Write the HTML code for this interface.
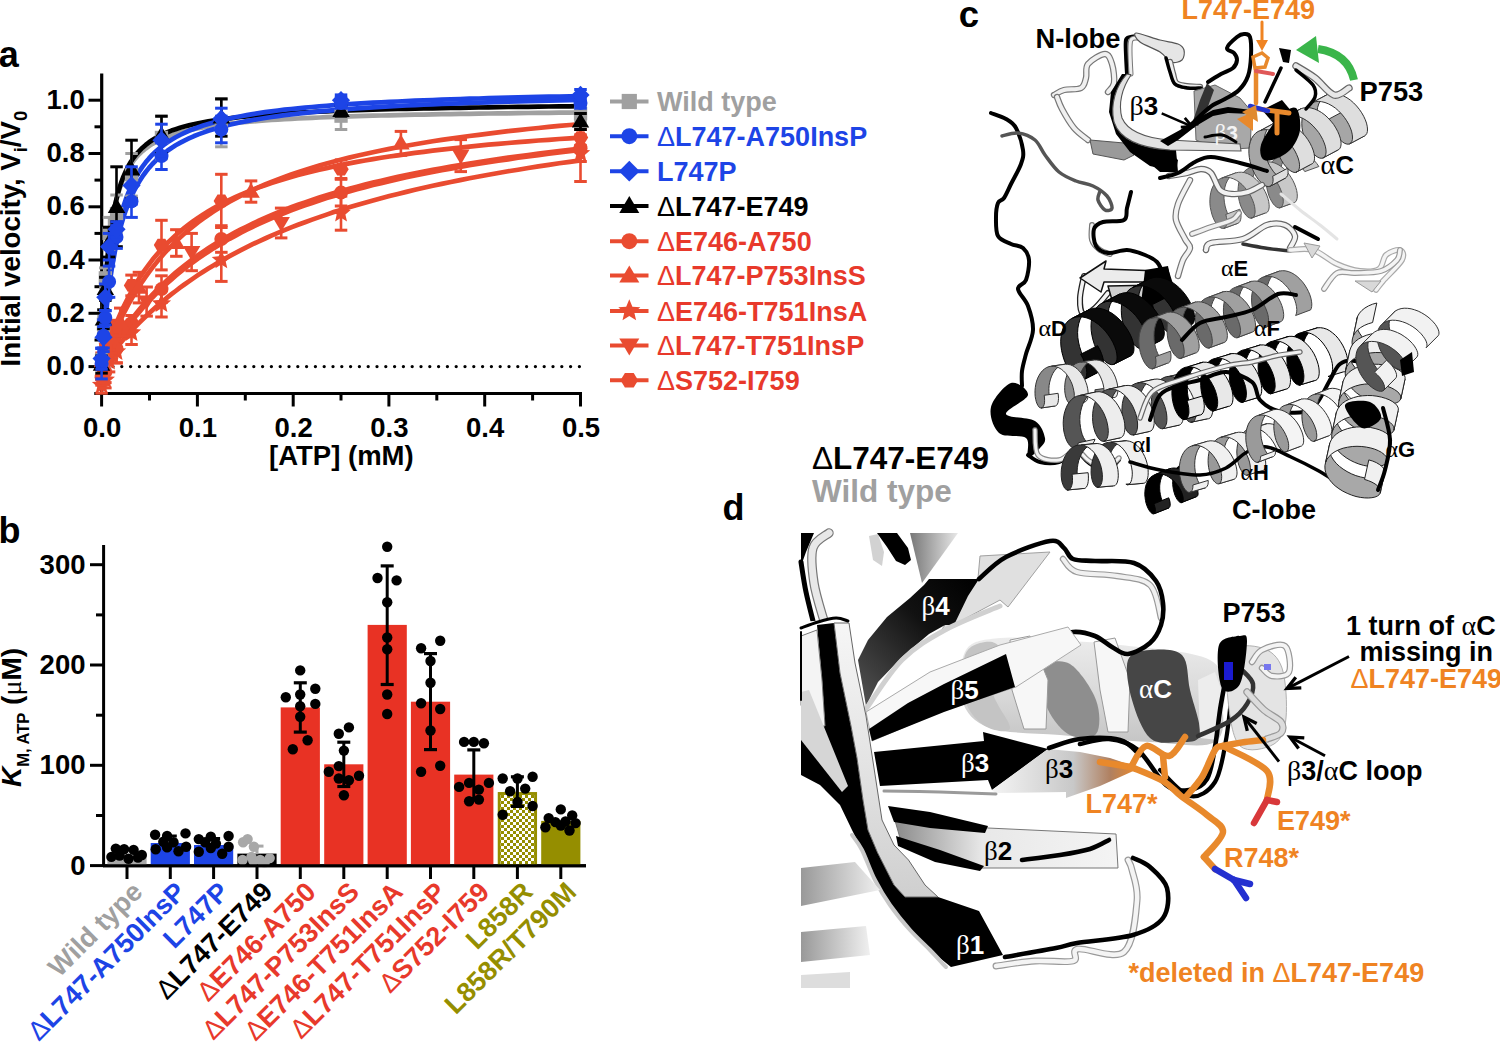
<!DOCTYPE html>
<html><head><meta charset="utf-8"><style>html,body{margin:0;padding:0;background:#fff;width:1500px;height:1042px;overflow:hidden}svg{display:block}</style></head><body>
<svg width="1500" height="1042" viewBox="0 0 1500 1042" font-family="Liberation Sans, sans-serif">
<text x="-1.2" y="67.3" font-size="36" font-weight="bold" fill="#000" text-anchor="start" >a</text>
<text x="-1.5" y="543.4" font-size="36" font-weight="bold" fill="#000" text-anchor="start" >b</text>
<text x="958.8" y="26.7" font-size="36.5" font-weight="bold" fill="#000" text-anchor="start" >c</text>
<text x="722.5" y="520.2" font-size="36" font-weight="bold" fill="#000" text-anchor="start" >d</text>
<line x1="101.7" y1="73.5" x2="101.7" y2="395" stroke="#000" stroke-width="3.2"/>
<line x1="94.3" y1="393.6" x2="582" y2="393.6" stroke="#000" stroke-width="3"/>
<line x1="88.5" y1="366.6" x2="102" y2="366.6" stroke="#000" stroke-width="3"/>
<text x="84.8" y="375.1" font-size="27.5" font-weight="bold" fill="#000" text-anchor="end" >0.0</text>
<line x1="94.5" y1="340.0" x2="102" y2="340.0" stroke="#000" stroke-width="3"/>
<line x1="88.5" y1="313.3" x2="102" y2="313.3" stroke="#000" stroke-width="3"/>
<text x="84.8" y="321.8" font-size="27.5" font-weight="bold" fill="#000" text-anchor="end" >0.2</text>
<line x1="94.5" y1="286.7" x2="102" y2="286.7" stroke="#000" stroke-width="3"/>
<line x1="88.5" y1="260.0" x2="102" y2="260.0" stroke="#000" stroke-width="3"/>
<text x="84.8" y="268.5" font-size="27.5" font-weight="bold" fill="#000" text-anchor="end" >0.4</text>
<line x1="94.5" y1="233.4" x2="102" y2="233.4" stroke="#000" stroke-width="3"/>
<line x1="88.5" y1="206.8" x2="102" y2="206.8" stroke="#000" stroke-width="3"/>
<text x="84.8" y="215.3" font-size="27.5" font-weight="bold" fill="#000" text-anchor="end" >0.6</text>
<line x1="94.5" y1="180.1" x2="102" y2="180.1" stroke="#000" stroke-width="3"/>
<line x1="88.5" y1="153.5" x2="102" y2="153.5" stroke="#000" stroke-width="3"/>
<text x="84.8" y="162.0" font-size="27.5" font-weight="bold" fill="#000" text-anchor="end" >0.8</text>
<line x1="94.5" y1="126.8" x2="102" y2="126.8" stroke="#000" stroke-width="3"/>
<line x1="88.5" y1="100.2" x2="102" y2="100.2" stroke="#000" stroke-width="3"/>
<text x="84.8" y="108.7" font-size="27.5" font-weight="bold" fill="#000" text-anchor="end" >1.0</text>
<line x1="101.6" y1="393" x2="101.6" y2="406.5" stroke="#000" stroke-width="3"/>
<text x="102.1" y="436.6" font-size="27.5" font-weight="bold" fill="#000" text-anchor="middle" >0.0</text>
<line x1="149.5" y1="393" x2="149.5" y2="400.5" stroke="#000" stroke-width="3"/>
<line x1="197.4" y1="393" x2="197.4" y2="406.5" stroke="#000" stroke-width="3"/>
<text x="197.9" y="436.6" font-size="27.5" font-weight="bold" fill="#000" text-anchor="middle" >0.1</text>
<line x1="245.3" y1="393" x2="245.3" y2="400.5" stroke="#000" stroke-width="3"/>
<line x1="293.2" y1="393" x2="293.2" y2="406.5" stroke="#000" stroke-width="3"/>
<text x="293.7" y="436.6" font-size="27.5" font-weight="bold" fill="#000" text-anchor="middle" >0.2</text>
<line x1="341.0" y1="393" x2="341.0" y2="400.5" stroke="#000" stroke-width="3"/>
<line x1="388.9" y1="393" x2="388.9" y2="406.5" stroke="#000" stroke-width="3"/>
<text x="389.4" y="436.6" font-size="27.5" font-weight="bold" fill="#000" text-anchor="middle" >0.3</text>
<line x1="436.8" y1="393" x2="436.8" y2="400.5" stroke="#000" stroke-width="3"/>
<line x1="484.7" y1="393" x2="484.7" y2="406.5" stroke="#000" stroke-width="3"/>
<text x="485.2" y="436.6" font-size="27.5" font-weight="bold" fill="#000" text-anchor="middle" >0.4</text>
<line x1="532.6" y1="393" x2="532.6" y2="400.5" stroke="#000" stroke-width="3"/>
<line x1="580.5" y1="393" x2="580.5" y2="406.5" stroke="#000" stroke-width="3"/>
<text x="581.0" y="436.6" font-size="27.5" font-weight="bold" fill="#000" text-anchor="middle" >0.5</text>
<text x="341.4" y="464.5" font-size="27.5" font-weight="bold" fill="#000" text-anchor="middle" >[ATP] (mM)</text>
<text transform="translate(20.3,366.5) rotate(-90)" font-size="27.6" font-weight="bold" fill="#000">Initial velocity, V<tspan font-size="18.5" dy="7">i</tspan><tspan dy="-7">/V</tspan><tspan font-size="18.5" dy="7">0</tspan></text>
<line x1="113" y1="366.6" x2="582" y2="366.6" stroke="#000" stroke-width="3.3" stroke-dasharray="0 8.8" stroke-linecap="round"/>
<polyline points="101.6,366.6 101.7,366.5 101.8,366.3 102.1,365.9 102.6,365.3 103.1,364.6 103.8,363.7 104.6,362.6 105.5,361.4 106.5,360.1 107.6,358.6 108.9,356.9 110.3,355.2 111.8,353.3 113.5,351.3 115.2,349.1 117.1,346.9 119.1,344.5 121.2,342.1 123.4,339.5 125.8,336.9 128.3,334.2 130.9,331.4 133.6,328.5 136.4,325.6 139.4,322.6 142.5,319.6 145.7,316.5 149.0,313.4 152.4,310.2 156.0,307.1 159.7,303.9 163.5,300.7 167.4,297.4 171.5,294.2 175.7,291.0 180.0,287.7 184.4,284.5 188.9,281.3 193.6,278.1 198.3,274.9 203.2,271.7 208.3,268.5 213.4,265.4 218.6,262.3 224.0,259.2 229.5,256.1 235.2,253.1 240.9,250.1 246.8,247.1 252.7,244.2 258.9,241.3 265.1,238.5 271.4,235.6 277.9,232.9 284.5,230.1 291.2,227.4 298.0,224.8 305.0,222.2 312.1,219.6 319.3,217.1 326.6,214.6 334.0,212.1 341.6,209.7 349.2,207.3 357.0,205.0 365.0,202.7 373.0,200.5 381.2,198.3 389.4,196.1 397.9,194.0 406.4,191.9 415.0,189.8 423.8,187.8 432.7,185.8 441.7,183.9 450.8,182.0 460.1,180.1 469.4,178.3 478.9,176.5 488.5,174.7 498.3,173.0 508.1,171.3 518.1,169.7 528.2,168.0 538.4,166.4 548.8,164.9 559.2,163.3 569.8,161.8 580.5,160.3" fill="none" stroke="#e94b30" stroke-width="4.7" stroke-linejoin="round"/>
<polyline points="101.6,366.6 101.7,366.5 101.8,366.1 102.1,365.6 102.6,364.8 103.1,363.8 103.8,362.6 104.6,361.1 105.5,359.5 106.5,357.7 107.6,355.6 108.9,353.4 110.3,351.1 111.8,348.5 113.5,345.9 115.2,343.1 117.1,340.1 119.1,337.0 121.2,333.9 123.4,330.6 125.8,327.2 128.3,323.8 130.9,320.3 133.6,316.8 136.4,313.2 139.4,309.5 142.5,305.8 145.7,302.1 149.0,298.4 152.4,294.7 156.0,291.0 159.7,287.3 163.5,283.6 167.4,279.9 171.5,276.3 175.7,272.6 180.0,269.0 184.4,265.5 188.9,262.0 193.6,258.5 198.3,255.0 203.2,251.7 208.3,248.3 213.4,245.0 218.6,241.8 224.0,238.6 229.5,235.5 235.2,232.4 240.9,229.4 246.8,226.5 252.7,223.6 258.9,220.7 265.1,217.9 271.4,215.2 277.9,212.5 284.5,209.9 291.2,207.3 298.0,204.8 305.0,202.4 312.1,200.0 319.3,197.6 326.6,195.3 334.0,193.1 341.6,190.9 349.2,188.8 357.0,186.7 365.0,184.6 373.0,182.6 381.2,180.7 389.4,178.8 397.9,176.9 406.4,175.1 415.0,173.3 423.8,171.6 432.7,169.9 441.7,168.2 450.8,166.6 460.1,165.0 469.4,163.5 478.9,162.0 488.5,160.5 498.3,159.1 508.1,157.7 518.1,156.3 528.2,155.0 538.4,153.7 548.8,152.4 559.2,151.1 569.8,149.9 580.5,148.7" fill="none" stroke="#e94b30" stroke-width="4.7" stroke-linejoin="round"/>
<polyline points="101.6,366.6 101.7,366.5 101.8,366.2 102.1,365.6 102.6,364.9 103.1,363.9 103.8,362.8 104.6,361.4 105.5,359.9 106.5,358.1 107.6,356.2 108.9,354.1 110.3,351.9 111.8,349.5 113.5,346.9 115.2,344.2 117.1,341.4 119.1,338.5 121.2,335.4 123.4,332.3 125.8,329.0 128.3,325.7 130.9,322.4 133.6,318.9 136.4,315.4 139.4,311.9 142.5,308.3 145.7,304.7 149.0,301.1 152.4,297.5 156.0,293.9 159.7,290.2 163.5,286.6 167.4,283.0 171.5,279.4 175.7,275.8 180.0,272.3 184.4,268.7 188.9,265.2 193.6,261.8 198.3,258.4 203.2,255.0 208.3,251.7 213.4,248.4 218.6,245.2 224.0,242.0 229.5,238.8 235.2,235.8 240.9,232.7 246.8,229.7 252.7,226.8 258.9,223.9 265.1,221.1 271.4,218.4 277.9,215.6 284.5,213.0 291.2,210.4 298.0,207.8 305.0,205.3 312.1,202.9 319.3,200.5 326.6,198.1 334.0,195.9 341.6,193.6 349.2,191.4 357.0,189.3 365.0,187.2 373.0,185.1 381.2,183.1 389.4,181.1 397.9,179.2 406.4,177.3 415.0,175.5 423.8,173.7 432.7,172.0 441.7,170.2 450.8,168.6 460.1,166.9 469.4,165.3 478.9,163.8 488.5,162.2 498.3,160.7 508.1,159.3 518.1,157.8 528.2,156.4 538.4,155.1 548.8,153.7 559.2,152.4 569.8,151.2 580.5,149.9" fill="none" stroke="#e94b30" stroke-width="4.7" stroke-linejoin="round"/>
<polyline points="101.6,366.6 101.7,366.4 101.8,365.8 102.1,364.7 102.6,363.2 103.1,361.4 103.8,359.2 104.6,356.6 105.5,353.7 106.5,350.4 107.6,346.9 108.9,343.2 110.3,339.2 111.8,335.0 113.5,330.6 115.2,326.1 117.1,321.4 119.1,316.7 121.2,311.9 123.4,307.1 125.8,302.2 128.3,297.3 130.9,292.5 133.6,287.6 136.4,282.8 139.4,278.1 142.5,273.4 145.7,268.8 149.0,264.3 152.4,259.8 156.0,255.5 159.7,251.2 163.5,247.1 167.4,243.0 171.5,239.1 175.7,235.2 180.0,231.5 184.4,227.9 188.9,224.4 193.6,220.9 198.3,217.6 203.2,214.4 208.3,211.3 213.4,208.3 218.6,205.4 224.0,202.5 229.5,199.8 235.2,197.2 240.9,194.6 246.8,192.1 252.7,189.7 258.9,187.4 265.1,185.2 271.4,183.0 277.9,180.9 284.5,178.9 291.2,176.9 298.0,175.0 305.0,173.2 312.1,171.4 319.3,169.7 326.6,168.1 334.0,166.4 341.6,164.9 349.2,163.4 357.0,161.9 365.0,160.5 373.0,159.1 381.2,157.8 389.4,156.5 397.9,155.3 406.4,154.1 415.0,152.9 423.8,151.8 432.7,150.7 441.7,149.6 450.8,148.6 460.1,147.6 469.4,146.6 478.9,145.7 488.5,144.7 498.3,143.9 508.1,143.0 518.1,142.2 528.2,141.3 538.4,140.5 548.8,139.8 559.2,139.0 569.8,138.3 580.5,137.6" fill="none" stroke="#e94b30" stroke-width="4.7" stroke-linejoin="round"/>
<polyline points="101.6,366.6 101.7,366.4 101.8,365.9 102.1,365.0 102.6,363.8 103.1,362.2 103.8,360.3 104.6,358.1 105.5,355.6 106.5,352.9 107.6,349.8 108.9,346.6 110.3,343.0 111.8,339.3 113.5,335.4 115.2,331.4 117.1,327.2 119.1,322.9 121.2,318.4 123.4,313.9 125.8,309.4 128.3,304.7 130.9,300.1 133.6,295.4 136.4,290.7 139.4,286.0 142.5,281.3 145.7,276.7 149.0,272.1 152.4,267.6 156.0,263.1 159.7,258.6 163.5,254.3 167.4,250.0 171.5,245.8 175.7,241.6 180.0,237.6 184.4,233.6 188.9,229.7 193.6,225.9 198.3,222.2 203.2,218.6 208.3,215.1 213.4,211.6 218.6,208.3 224.0,205.0 229.5,201.8 235.2,198.7 240.9,195.7 246.8,192.8 252.7,190.0 258.9,187.2 265.1,184.5 271.4,181.9 277.9,179.4 284.5,176.9 291.2,174.5 298.0,172.2 305.0,169.9 312.1,167.7 319.3,165.6 326.6,163.5 334.0,161.5 341.6,159.5 349.2,157.6 357.0,155.8 365.0,154.0 373.0,152.2 381.2,150.5 389.4,148.9 397.9,147.3 406.4,145.7 415.0,144.2 423.8,142.8 432.7,141.3 441.7,139.9 450.8,138.6 460.1,137.3 469.4,136.0 478.9,134.8 488.5,133.6 498.3,132.4 508.1,131.2 518.1,130.1 528.2,129.0 538.4,128.0 548.8,126.9 559.2,125.9 569.8,125.0 580.5,124.0" fill="none" stroke="#e94b30" stroke-width="4.7" stroke-linejoin="round"/>
<polyline points="101.6,366.6 101.7,364.7 101.8,359.1 102.1,350.4 102.6,339.2 103.1,326.1 103.8,312.1 104.6,297.7 105.5,283.4 106.5,269.5 107.6,256.5 108.9,244.3 110.3,233.1 111.8,222.8 113.5,213.4 115.2,204.9 117.1,197.3 119.1,190.3 121.2,184.1 123.4,178.4 125.8,173.3 128.3,168.6 130.9,164.4 133.6,160.6 136.4,157.2 139.4,154.0 142.5,151.1 145.7,148.5 149.0,146.1 152.4,143.9 156.0,141.8 159.7,140.0 163.5,138.2 167.4,136.6 171.5,135.2 175.7,133.8 180.0,132.5 184.4,131.3 188.9,130.2 193.6,129.2 198.3,128.3 203.2,127.4 208.3,126.5 213.4,125.7 218.6,125.0 224.0,124.3 229.5,123.7 235.2,123.0 240.9,122.5 246.8,121.9 252.7,121.4 258.9,120.9 265.1,120.5 271.4,120.0 277.9,119.6 284.5,119.2 291.2,118.8 298.0,118.5 305.0,118.1 312.1,117.8 319.3,117.5 326.6,117.2 334.0,116.9 341.6,116.7 349.2,116.4 357.0,116.2 365.0,115.9 373.0,115.7 381.2,115.5 389.4,115.3 397.9,115.1 406.4,114.9 415.0,114.7 423.8,114.6 432.7,114.4 441.7,114.2 450.8,114.1 460.1,113.9 469.4,113.8 478.9,113.6 488.5,113.5 498.3,113.4 508.1,113.3 518.1,113.1 528.2,113.0 538.4,112.9 548.8,112.8 559.2,112.7 569.8,112.6 580.5,112.5" fill="none" stroke="#a0a0a0" stroke-width="4.7" stroke-linejoin="round"/>
<polyline points="101.6,366.6 101.7,364.8 101.8,359.4 102.1,350.9 102.6,339.9 103.1,327.1 103.8,313.2 104.6,298.8 105.5,284.5 106.5,270.6 107.6,257.3 108.9,244.9 110.3,233.4 111.8,222.8 113.5,213.2 115.2,204.3 117.1,196.4 119.1,189.1 121.2,182.5 123.4,176.6 125.8,171.2 128.3,166.3 130.9,161.8 133.6,157.8 136.4,154.1 139.4,150.8 142.5,147.7 145.7,144.9 149.0,142.3 152.4,140.0 156.0,137.8 159.7,135.8 163.5,133.9 167.4,132.2 171.5,130.6 175.7,129.2 180.0,127.8 184.4,126.5 188.9,125.4 193.6,124.2 198.3,123.2 203.2,122.3 208.3,121.4 213.4,120.5 218.6,119.7 224.0,119.0 229.5,118.3 235.2,117.6 240.9,117.0 246.8,116.4 252.7,115.8 258.9,115.3 265.1,114.8 271.4,114.3 277.9,113.9 284.5,113.5 291.2,113.1 298.0,112.7 305.0,112.3 312.1,112.0 319.3,111.6 326.6,111.3 334.0,111.0 341.6,110.7 349.2,110.4 357.0,110.2 365.0,109.9 373.0,109.7 381.2,109.5 389.4,109.2 397.9,109.0 406.4,108.8 415.0,108.6 423.8,108.4 432.7,108.3 441.7,108.1 450.8,107.9 460.1,107.8 469.4,107.6 478.9,107.5 488.5,107.3 498.3,107.2 508.1,107.0 518.1,106.9 528.2,106.8 538.4,106.7 548.8,106.5 559.2,106.4 569.8,106.3 580.5,106.2" fill="none" stroke="#000" stroke-width="4.7" stroke-linejoin="round"/>
<polyline points="101.6,366.6 101.7,365.7 101.8,363.1 102.1,358.8 102.6,353.0 103.1,345.9 103.8,337.7 104.6,328.7 105.5,319.1 106.5,309.0 107.6,298.8 108.9,288.6 110.3,278.5 111.8,268.6 113.5,259.1 115.2,249.8 117.1,241.0 119.1,232.7 121.2,224.8 123.4,217.3 125.8,210.3 128.3,203.7 130.9,197.5 133.6,191.7 136.4,186.3 139.4,181.2 142.5,176.4 145.7,172.0 149.0,167.9 152.4,164.0 156.0,160.3 159.7,156.9 163.5,153.8 167.4,150.8 171.5,148.0 175.7,145.3 180.0,142.9 184.4,140.6 188.9,138.4 193.6,136.3 198.3,134.4 203.2,132.6 208.3,130.8 213.4,129.2 218.6,127.7 224.0,126.2 229.5,124.8 235.2,123.5 240.9,122.3 246.8,121.1 252.7,120.0 258.9,119.0 265.1,118.0 271.4,117.0 277.9,116.1 284.5,115.2 291.2,114.4 298.0,113.6 305.0,112.8 312.1,112.1 319.3,111.4 326.6,110.8 334.0,110.2 341.6,109.6 349.2,109.0 357.0,108.4 365.0,107.9 373.0,107.4 381.2,106.9 389.4,106.4 397.9,106.0 406.4,105.5 415.0,105.1 423.8,104.7 432.7,104.3 441.7,104.0 450.8,103.6 460.1,103.3 469.4,102.9 478.9,102.6 488.5,102.3 498.3,102.0 508.1,101.7 518.1,101.4 528.2,101.2 538.4,100.9 548.8,100.7 559.2,100.4 569.8,100.2 580.5,99.9" fill="none" stroke="#1d44e6" stroke-width="4.7" stroke-linejoin="round"/>
<polyline points="101.6,366.6 101.7,365.6 101.8,362.5 102.1,357.6 102.6,350.9 103.1,342.8 103.8,333.6 104.6,323.5 105.5,312.9 106.5,301.9 107.6,290.9 108.9,279.9 110.3,269.1 111.8,258.7 113.5,248.8 115.2,239.3 117.1,230.3 119.1,221.8 121.2,213.8 123.4,206.4 125.8,199.4 128.3,192.9 130.9,186.9 133.6,181.2 136.4,176.0 139.4,171.1 142.5,166.6 145.7,162.3 149.0,158.4 152.4,154.7 156.0,151.3 159.7,148.1 163.5,145.1 167.4,142.3 171.5,139.7 175.7,137.3 180.0,135.0 184.4,132.9 188.9,130.8 193.6,129.0 198.3,127.2 203.2,125.5 208.3,123.9 213.4,122.4 218.6,121.0 224.0,119.7 229.5,118.5 235.2,117.3 240.9,116.2 246.8,115.1 252.7,114.1 258.9,113.1 265.1,112.2 271.4,111.4 277.9,110.5 284.5,109.7 291.2,109.0 298.0,108.3 305.0,107.6 312.1,107.0 319.3,106.3 326.6,105.8 334.0,105.2 341.6,104.7 349.2,104.1 357.0,103.6 365.0,103.2 373.0,102.7 381.2,102.3 389.4,101.9 397.9,101.5 406.4,101.1 415.0,100.7 423.8,100.3 432.7,100.0 441.7,99.7 450.8,99.3 460.1,99.0 469.4,98.7 478.9,98.5 488.5,98.2 498.3,97.9 508.1,97.7 518.1,97.4 528.2,97.2 538.4,96.9 548.8,96.7 559.2,96.5 569.8,96.3 580.5,96.1" fill="none" stroke="#1d44e6" stroke-width="4.7" stroke-linejoin="round"/>
<line x1="101.6" y1="377.3" x2="101.6" y2="393.2" stroke="#e94b30" stroke-width="2.6"/>
<line x1="95.3" y1="377.3" x2="107.8" y2="377.3" stroke="#e94b30" stroke-width="3"/>
<line x1="95.3" y1="393.2" x2="107.8" y2="393.2" stroke="#e94b30" stroke-width="3"/>
<polygon points="101.6,375.1 104.3,381.6 111.3,382.1 105.9,386.7 107.6,393.5 101.6,389.8 95.6,393.5 97.3,386.7 91.9,382.1 98.9,381.6" fill="#e94b30"/>
<line x1="105.3" y1="371.9" x2="105.3" y2="387.9" stroke="#e94b30" stroke-width="2.6"/>
<line x1="99.1" y1="371.9" x2="111.6" y2="371.9" stroke="#e94b30" stroke-width="3"/>
<line x1="99.1" y1="387.9" x2="111.6" y2="387.9" stroke="#e94b30" stroke-width="3"/>
<polygon points="105.3,369.8 108.0,376.2 115.0,376.8 109.7,381.3 111.3,388.1 105.3,384.5 99.4,388.1 101.0,381.3 95.7,376.8 102.7,376.2" fill="#e94b30"/>
<line x1="109.1" y1="350.6" x2="109.1" y2="371.9" stroke="#e94b30" stroke-width="2.6"/>
<line x1="102.8" y1="350.6" x2="115.3" y2="350.6" stroke="#e94b30" stroke-width="3"/>
<line x1="102.8" y1="371.9" x2="115.3" y2="371.9" stroke="#e94b30" stroke-width="3"/>
<polygon points="109.1,351.1 111.8,357.6 118.7,358.1 113.4,362.7 115.0,369.5 109.1,365.8 103.1,369.5 104.7,362.7 99.4,358.1 106.4,357.6" fill="#e94b30"/>
<line x1="116.5" y1="340.6" x2="116.5" y2="362.8" stroke="#e94b30" stroke-width="2.6"/>
<line x1="110.3" y1="340.6" x2="122.8" y2="340.6" stroke="#e94b30" stroke-width="3"/>
<line x1="110.3" y1="362.8" x2="122.8" y2="362.8" stroke="#e94b30" stroke-width="3"/>
<polygon points="116.5,341.6 119.2,348.0 126.2,348.6 120.9,353.1 122.5,359.9 116.5,356.3 110.6,359.9 112.2,353.1 106.9,348.6 113.9,348.0" fill="#e94b30"/>
<line x1="131.5" y1="321.0" x2="131.5" y2="344.5" stroke="#e94b30" stroke-width="2.6"/>
<line x1="125.3" y1="321.0" x2="137.8" y2="321.0" stroke="#e94b30" stroke-width="3"/>
<line x1="125.3" y1="344.5" x2="137.8" y2="344.5" stroke="#e94b30" stroke-width="3"/>
<polygon points="131.5,322.6 134.2,329.0 141.2,329.6 135.9,334.2 137.5,341.0 131.5,337.3 125.6,341.0 127.2,334.2 121.9,329.6 128.8,329.0" fill="#e94b30"/>
<line x1="161.5" y1="290.4" x2="161.5" y2="317.0" stroke="#e94b30" stroke-width="2.6"/>
<line x1="155.2" y1="290.4" x2="167.7" y2="290.4" stroke="#e94b30" stroke-width="3"/>
<line x1="155.2" y1="317.0" x2="167.7" y2="317.0" stroke="#e94b30" stroke-width="3"/>
<polygon points="161.5,293.6 164.1,300.0 171.1,300.6 165.8,305.1 167.4,311.9 161.5,308.3 155.5,311.9 157.1,305.1 151.8,300.6 158.8,300.0" fill="#e94b30"/>
<line x1="221.3" y1="238.7" x2="221.3" y2="281.4" stroke="#e94b30" stroke-width="2.6"/>
<line x1="215.1" y1="238.7" x2="227.6" y2="238.7" stroke="#e94b30" stroke-width="3"/>
<line x1="215.1" y1="281.4" x2="227.6" y2="281.4" stroke="#e94b30" stroke-width="3"/>
<polygon points="221.3,249.9 224.0,256.3 231.0,256.9 225.7,261.5 227.3,268.3 221.3,264.6 215.4,268.3 217.0,261.5 211.7,256.9 218.6,256.3" fill="#e94b30"/>
<line x1="341.0" y1="196.1" x2="341.0" y2="230.2" stroke="#e94b30" stroke-width="2.6"/>
<line x1="334.8" y1="196.1" x2="347.3" y2="196.1" stroke="#e94b30" stroke-width="3"/>
<line x1="334.8" y1="230.2" x2="347.3" y2="230.2" stroke="#e94b30" stroke-width="3"/>
<polygon points="341.0,203.0 343.7,209.5 350.7,210.0 345.4,214.6 347.0,221.4 341.0,217.7 335.1,221.4 336.7,214.6 331.4,210.0 338.4,209.5" fill="#e94b30"/>
<line x1="580.5" y1="125.5" x2="580.5" y2="181.5" stroke="#e94b30" stroke-width="2.6"/>
<line x1="574.2" y1="125.5" x2="586.8" y2="125.5" stroke="#e94b30" stroke-width="3"/>
<line x1="574.2" y1="181.5" x2="586.8" y2="181.5" stroke="#e94b30" stroke-width="3"/>
<polygon points="580.5,143.3 583.2,149.8 590.2,150.3 584.8,154.9 586.5,161.7 580.5,158.0 574.5,161.7 576.2,154.9 570.8,150.3 577.8,149.8" fill="#e94b30"/>
<line x1="101.6" y1="369.3" x2="101.6" y2="385.2" stroke="#e94b30" stroke-width="2.6"/>
<line x1="95.3" y1="369.3" x2="107.8" y2="369.3" stroke="#e94b30" stroke-width="3"/>
<line x1="95.3" y1="385.2" x2="107.8" y2="385.2" stroke="#e94b30" stroke-width="3"/>
<circle cx="101.6" cy="377.3" r="7.0" fill="#e94b30"/>
<line x1="105.3" y1="361.3" x2="105.3" y2="382.6" stroke="#e94b30" stroke-width="2.6"/>
<line x1="99.1" y1="361.3" x2="111.6" y2="361.3" stroke="#e94b30" stroke-width="3"/>
<line x1="99.1" y1="382.6" x2="111.6" y2="382.6" stroke="#e94b30" stroke-width="3"/>
<circle cx="105.3" cy="371.9" r="7.0" fill="#e94b30"/>
<line x1="109.1" y1="345.1" x2="109.1" y2="357.2" stroke="#e94b30" stroke-width="2.6"/>
<line x1="102.8" y1="345.1" x2="115.3" y2="345.1" stroke="#e94b30" stroke-width="3"/>
<line x1="102.8" y1="357.2" x2="115.3" y2="357.2" stroke="#e94b30" stroke-width="3"/>
<circle cx="109.1" cy="351.2" r="7.0" fill="#e94b30"/>
<line x1="116.5" y1="334.5" x2="116.5" y2="363.0" stroke="#e94b30" stroke-width="2.6"/>
<line x1="110.3" y1="334.5" x2="122.8" y2="334.5" stroke="#e94b30" stroke-width="3"/>
<line x1="110.3" y1="363.0" x2="122.8" y2="363.0" stroke="#e94b30" stroke-width="3"/>
<circle cx="116.5" cy="348.7" r="7.0" fill="#e94b30"/>
<line x1="131.5" y1="315.5" x2="131.5" y2="331.1" stroke="#e94b30" stroke-width="2.6"/>
<line x1="125.3" y1="315.5" x2="137.8" y2="315.5" stroke="#e94b30" stroke-width="3"/>
<line x1="125.3" y1="331.1" x2="137.8" y2="331.1" stroke="#e94b30" stroke-width="3"/>
<circle cx="131.5" cy="323.3" r="7.0" fill="#e94b30"/>
<line x1="161.5" y1="275.8" x2="161.5" y2="302.4" stroke="#e94b30" stroke-width="2.6"/>
<line x1="155.2" y1="275.8" x2="167.7" y2="275.8" stroke="#e94b30" stroke-width="3"/>
<line x1="155.2" y1="302.4" x2="167.7" y2="302.4" stroke="#e94b30" stroke-width="3"/>
<circle cx="161.5" cy="289.1" r="7.0" fill="#e94b30"/>
<line x1="221.3" y1="225.7" x2="221.3" y2="252.3" stroke="#e94b30" stroke-width="2.6"/>
<line x1="215.1" y1="225.7" x2="227.6" y2="225.7" stroke="#e94b30" stroke-width="3"/>
<line x1="215.1" y1="252.3" x2="227.6" y2="252.3" stroke="#e94b30" stroke-width="3"/>
<circle cx="221.3" cy="239.0" r="7.0" fill="#e94b30"/>
<line x1="341.0" y1="179.3" x2="341.0" y2="206.0" stroke="#e94b30" stroke-width="2.6"/>
<line x1="334.8" y1="179.3" x2="347.3" y2="179.3" stroke="#e94b30" stroke-width="3"/>
<line x1="334.8" y1="206.0" x2="347.3" y2="206.0" stroke="#e94b30" stroke-width="3"/>
<circle cx="341.0" cy="192.6" r="7.0" fill="#e94b30"/>
<line x1="580.5" y1="134.8" x2="580.5" y2="161.5" stroke="#e94b30" stroke-width="2.6"/>
<line x1="574.2" y1="134.8" x2="586.8" y2="134.8" stroke="#e94b30" stroke-width="3"/>
<line x1="574.2" y1="161.5" x2="586.8" y2="161.5" stroke="#e94b30" stroke-width="3"/>
<circle cx="580.5" cy="148.2" r="7.0" fill="#e94b30"/>
<line x1="107.3" y1="338.6" x2="107.3" y2="359.3" stroke="#e94b30" stroke-width="2.6"/>
<line x1="101.0" y1="338.6" x2="113.5" y2="338.6" stroke="#e94b30" stroke-width="3"/>
<line x1="101.0" y1="359.3" x2="113.5" y2="359.3" stroke="#e94b30" stroke-width="3"/>
<polygon points="107.3,357.7 116.0,342.8 98.5,342.8" fill="#e94b30"/>
<line x1="112.8" y1="332.1" x2="112.8" y2="352.9" stroke="#e94b30" stroke-width="2.6"/>
<line x1="106.6" y1="332.1" x2="119.1" y2="332.1" stroke="#e94b30" stroke-width="3"/>
<line x1="106.6" y1="352.9" x2="119.1" y2="352.9" stroke="#e94b30" stroke-width="3"/>
<polygon points="112.8,351.3 121.6,336.4 104.1,336.4" fill="#e94b30"/>
<line x1="124.0" y1="322.3" x2="124.0" y2="336.2" stroke="#e94b30" stroke-width="2.6"/>
<line x1="117.8" y1="322.3" x2="130.3" y2="322.3" stroke="#e94b30" stroke-width="3"/>
<line x1="117.8" y1="336.2" x2="130.3" y2="336.2" stroke="#e94b30" stroke-width="3"/>
<polygon points="124.0,338.0 132.8,323.1 115.3,323.1" fill="#e94b30"/>
<line x1="146.6" y1="287.0" x2="146.6" y2="316.1" stroke="#e94b30" stroke-width="2.6"/>
<line x1="140.4" y1="287.0" x2="152.9" y2="287.0" stroke="#e94b30" stroke-width="3"/>
<line x1="140.4" y1="316.1" x2="152.9" y2="316.1" stroke="#e94b30" stroke-width="3"/>
<polygon points="146.6,310.3 155.4,295.4 137.9,295.4" fill="#e94b30"/>
<line x1="191.6" y1="233.4" x2="191.6" y2="270.7" stroke="#e94b30" stroke-width="2.6"/>
<line x1="185.4" y1="233.4" x2="197.9" y2="233.4" stroke="#e94b30" stroke-width="3"/>
<line x1="185.4" y1="270.7" x2="197.9" y2="270.7" stroke="#e94b30" stroke-width="3"/>
<polygon points="191.6,260.8 200.4,245.9 182.9,245.9" fill="#e94b30"/>
<line x1="281.2" y1="208.1" x2="281.2" y2="237.9" stroke="#e94b30" stroke-width="2.6"/>
<line x1="274.9" y1="208.1" x2="287.4" y2="208.1" stroke="#e94b30" stroke-width="3"/>
<line x1="274.9" y1="237.9" x2="287.4" y2="237.9" stroke="#e94b30" stroke-width="3"/>
<polygon points="281.2,231.8 289.9,216.9 272.4,216.9" fill="#e94b30"/>
<line x1="460.8" y1="139.6" x2="460.8" y2="171.6" stroke="#e94b30" stroke-width="2.6"/>
<line x1="454.5" y1="139.6" x2="467.0" y2="139.6" stroke="#e94b30" stroke-width="3"/>
<line x1="454.5" y1="171.6" x2="467.0" y2="171.6" stroke="#e94b30" stroke-width="3"/>
<polygon points="460.8,164.4 469.5,149.5 452.0,149.5" fill="#e94b30"/>
<line x1="101.6" y1="353.0" x2="101.6" y2="379.5" stroke="#e94b30" stroke-width="2.6"/>
<line x1="95.3" y1="353.0" x2="107.8" y2="353.0" stroke="#e94b30" stroke-width="3"/>
<line x1="95.3" y1="379.5" x2="107.8" y2="379.5" stroke="#e94b30" stroke-width="3"/>
<polygon points="109.3,366.2 105.4,372.6 97.8,372.6 93.9,366.2 97.7,359.9 105.4,359.9" fill="#e94b30"/>
<line x1="105.3" y1="345.3" x2="105.3" y2="357.4" stroke="#e94b30" stroke-width="2.6"/>
<line x1="99.1" y1="345.3" x2="111.6" y2="345.3" stroke="#e94b30" stroke-width="3"/>
<line x1="99.1" y1="357.4" x2="111.6" y2="357.4" stroke="#e94b30" stroke-width="3"/>
<polygon points="113.0,351.3 109.2,357.7 101.5,357.7 97.6,351.3 101.5,345.0 109.2,345.0" fill="#e94b30"/>
<line x1="109.1" y1="326.9" x2="109.1" y2="350.2" stroke="#e94b30" stroke-width="2.6"/>
<line x1="102.8" y1="326.9" x2="115.3" y2="326.9" stroke="#e94b30" stroke-width="3"/>
<line x1="102.8" y1="350.2" x2="115.3" y2="350.2" stroke="#e94b30" stroke-width="3"/>
<polygon points="116.8,338.6 112.9,344.9 105.2,344.9 101.4,338.6 105.2,332.2 112.9,332.2" fill="#e94b30"/>
<line x1="116.5" y1="320.3" x2="116.5" y2="331.6" stroke="#e94b30" stroke-width="2.6"/>
<line x1="110.3" y1="320.3" x2="122.8" y2="320.3" stroke="#e94b30" stroke-width="3"/>
<line x1="110.3" y1="331.6" x2="122.8" y2="331.6" stroke="#e94b30" stroke-width="3"/>
<polygon points="124.2,325.9 120.4,332.3 112.7,332.3 108.8,325.9 112.7,319.6 120.4,319.6" fill="#e94b30"/>
<line x1="131.5" y1="275.1" x2="131.5" y2="295.8" stroke="#e94b30" stroke-width="2.6"/>
<line x1="125.3" y1="275.1" x2="137.8" y2="275.1" stroke="#e94b30" stroke-width="3"/>
<line x1="125.3" y1="295.8" x2="137.8" y2="295.8" stroke="#e94b30" stroke-width="3"/>
<polygon points="139.2,285.4 135.4,291.8 127.7,291.8 123.8,285.4 127.7,279.1 135.4,279.1" fill="#e94b30"/>
<line x1="161.5" y1="220.3" x2="161.5" y2="269.9" stroke="#e94b30" stroke-width="2.6"/>
<line x1="155.2" y1="220.3" x2="167.7" y2="220.3" stroke="#e94b30" stroke-width="3"/>
<line x1="155.2" y1="269.9" x2="167.7" y2="269.9" stroke="#e94b30" stroke-width="3"/>
<polygon points="169.2,245.1 165.3,251.5 157.6,251.5 153.8,245.1 157.6,238.8 165.3,238.8" fill="#e94b30"/>
<line x1="221.3" y1="174.3" x2="221.3" y2="227.5" stroke="#e94b30" stroke-width="2.6"/>
<line x1="215.1" y1="174.3" x2="227.6" y2="174.3" stroke="#e94b30" stroke-width="3"/>
<line x1="215.1" y1="227.5" x2="227.6" y2="227.5" stroke="#e94b30" stroke-width="3"/>
<polygon points="229.0,200.9 225.2,207.2 217.5,207.2 213.6,200.9 217.5,194.6 225.2,194.6" fill="#e94b30"/>
<line x1="341.0" y1="159.9" x2="341.0" y2="178.5" stroke="#e94b30" stroke-width="2.6"/>
<line x1="334.8" y1="159.9" x2="347.3" y2="159.9" stroke="#e94b30" stroke-width="3"/>
<line x1="334.8" y1="178.5" x2="347.3" y2="178.5" stroke="#e94b30" stroke-width="3"/>
<polygon points="348.7,169.2 344.9,175.5 337.2,175.5 333.3,169.2 337.2,162.9 344.9,162.9" fill="#e94b30"/>
<line x1="580.5" y1="129.5" x2="580.5" y2="145.5" stroke="#e94b30" stroke-width="2.6"/>
<line x1="574.2" y1="129.5" x2="586.8" y2="129.5" stroke="#e94b30" stroke-width="3"/>
<line x1="574.2" y1="145.5" x2="586.8" y2="145.5" stroke="#e94b30" stroke-width="3"/>
<polygon points="588.2,137.5 584.4,143.8 576.6,143.8 572.8,137.5 576.6,131.2 584.4,131.2" fill="#e94b30"/>
<line x1="106.3" y1="335.2" x2="106.3" y2="364.6" stroke="#e94b30" stroke-width="2.6"/>
<line x1="100.0" y1="335.2" x2="112.5" y2="335.2" stroke="#e94b30" stroke-width="3"/>
<line x1="100.0" y1="364.6" x2="112.5" y2="364.6" stroke="#e94b30" stroke-width="3"/>
<polygon points="106.3,341.2 115.0,356.0 97.5,356.0" fill="#e94b30"/>
<line x1="111.0" y1="322.8" x2="111.0" y2="353.1" stroke="#e94b30" stroke-width="2.6"/>
<line x1="104.7" y1="322.8" x2="117.2" y2="322.8" stroke="#e94b30" stroke-width="3"/>
<line x1="104.7" y1="353.1" x2="117.2" y2="353.1" stroke="#e94b30" stroke-width="3"/>
<polygon points="111.0,329.2 119.7,344.1 102.2,344.1" fill="#e94b30"/>
<line x1="120.3" y1="308.1" x2="120.3" y2="335.9" stroke="#e94b30" stroke-width="2.6"/>
<line x1="114.0" y1="308.1" x2="126.5" y2="308.1" stroke="#e94b30" stroke-width="3"/>
<line x1="114.0" y1="335.9" x2="126.5" y2="335.9" stroke="#e94b30" stroke-width="3"/>
<polygon points="120.3,313.3 129.0,328.1 111.5,328.1" fill="#e94b30"/>
<line x1="139.0" y1="272.3" x2="139.0" y2="302.9" stroke="#e94b30" stroke-width="2.6"/>
<line x1="132.7" y1="272.3" x2="145.2" y2="272.3" stroke="#e94b30" stroke-width="3"/>
<line x1="132.7" y1="302.9" x2="145.2" y2="302.9" stroke="#e94b30" stroke-width="3"/>
<polygon points="139.0,278.8 147.7,293.7 130.2,293.7" fill="#e94b30"/>
<line x1="176.3" y1="229.7" x2="176.3" y2="256.3" stroke="#e94b30" stroke-width="2.6"/>
<line x1="170.1" y1="229.7" x2="182.6" y2="229.7" stroke="#e94b30" stroke-width="3"/>
<line x1="170.1" y1="256.3" x2="182.6" y2="256.3" stroke="#e94b30" stroke-width="3"/>
<polygon points="176.3,234.2 185.1,249.1 167.6,249.1" fill="#e94b30"/>
<line x1="251.0" y1="180.9" x2="251.0" y2="202.2" stroke="#e94b30" stroke-width="2.6"/>
<line x1="244.8" y1="180.9" x2="257.3" y2="180.9" stroke="#e94b30" stroke-width="3"/>
<line x1="244.8" y1="202.2" x2="257.3" y2="202.2" stroke="#e94b30" stroke-width="3"/>
<polygon points="251.0,182.8 259.8,197.7 242.3,197.7" fill="#e94b30"/>
<line x1="400.9" y1="131.4" x2="400.9" y2="155.3" stroke="#e94b30" stroke-width="2.6"/>
<line x1="394.7" y1="131.4" x2="407.2" y2="131.4" stroke="#e94b30" stroke-width="3"/>
<line x1="394.7" y1="155.3" x2="407.2" y2="155.3" stroke="#e94b30" stroke-width="3"/>
<polygon points="400.9,134.6 409.7,149.5 392.2,149.5" fill="#e94b30"/>
<line x1="101.6" y1="354.2" x2="101.6" y2="366.9" stroke="#a0a0a0" stroke-width="2.6"/>
<line x1="95.3" y1="354.2" x2="107.8" y2="354.2" stroke="#a0a0a0" stroke-width="3"/>
<line x1="95.3" y1="366.9" x2="107.8" y2="366.9" stroke="#a0a0a0" stroke-width="3"/>
<rect x="94.9" y="353.9" width="13.3" height="13.3" fill="#a0a0a0"/>
<line x1="103.5" y1="316.6" x2="103.5" y2="331.8" stroke="#a0a0a0" stroke-width="2.6"/>
<line x1="97.2" y1="316.6" x2="109.7" y2="316.6" stroke="#a0a0a0" stroke-width="3"/>
<line x1="97.2" y1="331.8" x2="109.7" y2="331.8" stroke="#a0a0a0" stroke-width="3"/>
<rect x="96.8" y="317.5" width="13.3" height="13.3" fill="#a0a0a0"/>
<line x1="105.3" y1="267.9" x2="105.3" y2="287.9" stroke="#a0a0a0" stroke-width="2.6"/>
<line x1="99.1" y1="267.9" x2="111.6" y2="267.9" stroke="#a0a0a0" stroke-width="3"/>
<line x1="99.1" y1="287.9" x2="111.6" y2="287.9" stroke="#a0a0a0" stroke-width="3"/>
<rect x="98.7" y="271.2" width="13.3" height="13.3" fill="#a0a0a0"/>
<line x1="109.1" y1="217.4" x2="109.1" y2="249.4" stroke="#a0a0a0" stroke-width="2.6"/>
<line x1="102.8" y1="217.4" x2="115.3" y2="217.4" stroke="#a0a0a0" stroke-width="3"/>
<line x1="102.8" y1="249.4" x2="115.3" y2="249.4" stroke="#a0a0a0" stroke-width="3"/>
<rect x="102.4" y="226.8" width="13.3" height="13.3" fill="#a0a0a0"/>
<line x1="116.5" y1="195.0" x2="116.5" y2="232.3" stroke="#a0a0a0" stroke-width="2.6"/>
<line x1="110.3" y1="195.0" x2="122.8" y2="195.0" stroke="#a0a0a0" stroke-width="3"/>
<line x1="110.3" y1="232.3" x2="122.8" y2="232.3" stroke="#a0a0a0" stroke-width="3"/>
<rect x="109.9" y="207.0" width="13.3" height="13.3" fill="#a0a0a0"/>
<line x1="131.5" y1="153.5" x2="131.5" y2="196.1" stroke="#a0a0a0" stroke-width="2.6"/>
<line x1="125.3" y1="153.5" x2="137.8" y2="153.5" stroke="#a0a0a0" stroke-width="3"/>
<line x1="125.3" y1="196.1" x2="137.8" y2="196.1" stroke="#a0a0a0" stroke-width="3"/>
<rect x="124.9" y="168.1" width="13.3" height="13.3" fill="#a0a0a0"/>
<line x1="161.5" y1="116.2" x2="161.5" y2="158.8" stroke="#a0a0a0" stroke-width="2.6"/>
<line x1="155.2" y1="116.2" x2="167.7" y2="116.2" stroke="#a0a0a0" stroke-width="3"/>
<line x1="155.2" y1="158.8" x2="167.7" y2="158.8" stroke="#a0a0a0" stroke-width="3"/>
<rect x="154.8" y="130.8" width="13.3" height="13.3" fill="#a0a0a0"/>
<line x1="221.3" y1="98.9" x2="221.3" y2="146.8" stroke="#a0a0a0" stroke-width="2.6"/>
<line x1="215.1" y1="98.9" x2="227.6" y2="98.9" stroke="#a0a0a0" stroke-width="3"/>
<line x1="215.1" y1="146.8" x2="227.6" y2="146.8" stroke="#a0a0a0" stroke-width="3"/>
<rect x="214.7" y="116.2" width="13.3" height="13.3" fill="#a0a0a0"/>
<line x1="341.0" y1="102.9" x2="341.0" y2="129.5" stroke="#a0a0a0" stroke-width="2.6"/>
<line x1="334.8" y1="102.9" x2="347.3" y2="102.9" stroke="#a0a0a0" stroke-width="3"/>
<line x1="334.8" y1="129.5" x2="347.3" y2="129.5" stroke="#a0a0a0" stroke-width="3"/>
<rect x="334.4" y="109.5" width="13.3" height="13.3" fill="#a0a0a0"/>
<line x1="580.5" y1="105.5" x2="580.5" y2="121.5" stroke="#a0a0a0" stroke-width="2.6"/>
<line x1="574.2" y1="105.5" x2="586.8" y2="105.5" stroke="#a0a0a0" stroke-width="3"/>
<line x1="574.2" y1="121.5" x2="586.8" y2="121.5" stroke="#a0a0a0" stroke-width="3"/>
<rect x="573.9" y="106.9" width="13.3" height="13.3" fill="#a0a0a0"/>
<line x1="101.6" y1="356.0" x2="101.6" y2="373.1" stroke="#000" stroke-width="2.6"/>
<line x1="95.3" y1="356.0" x2="107.8" y2="356.0" stroke="#000" stroke-width="3"/>
<line x1="95.3" y1="373.1" x2="107.8" y2="373.1" stroke="#000" stroke-width="3"/>
<polygon points="101.6,355.8 110.3,370.7 92.8,370.7" fill="#000"/>
<line x1="103.5" y1="309.8" x2="103.5" y2="328.7" stroke="#000" stroke-width="2.6"/>
<line x1="97.2" y1="309.8" x2="109.7" y2="309.8" stroke="#000" stroke-width="3"/>
<line x1="97.2" y1="328.7" x2="109.7" y2="328.7" stroke="#000" stroke-width="3"/>
<polygon points="103.5,310.5 112.2,325.4 94.7,325.4" fill="#000"/>
<line x1="105.3" y1="277.3" x2="105.3" y2="300.4" stroke="#000" stroke-width="2.6"/>
<line x1="99.1" y1="277.3" x2="111.6" y2="277.3" stroke="#000" stroke-width="3"/>
<line x1="99.1" y1="300.4" x2="111.6" y2="300.4" stroke="#000" stroke-width="3"/>
<polygon points="105.3,280.1 114.1,295.0 96.6,295.0" fill="#000"/>
<line x1="109.1" y1="227.2" x2="109.1" y2="257.1" stroke="#000" stroke-width="2.6"/>
<line x1="102.8" y1="227.2" x2="115.3" y2="227.2" stroke="#000" stroke-width="3"/>
<line x1="102.8" y1="257.1" x2="115.3" y2="257.1" stroke="#000" stroke-width="3"/>
<polygon points="109.1,233.4 117.8,248.3 100.3,248.3" fill="#000"/>
<line x1="116.5" y1="166.8" x2="116.5" y2="246.7" stroke="#000" stroke-width="2.6"/>
<line x1="110.3" y1="166.8" x2="122.8" y2="166.8" stroke="#000" stroke-width="3"/>
<line x1="110.3" y1="246.7" x2="122.8" y2="246.7" stroke="#000" stroke-width="3"/>
<polygon points="116.5,198.0 125.3,212.9 107.8,212.9" fill="#000"/>
<line x1="131.5" y1="140.2" x2="131.5" y2="198.8" stroke="#000" stroke-width="2.6"/>
<line x1="125.3" y1="140.2" x2="137.8" y2="140.2" stroke="#000" stroke-width="3"/>
<line x1="125.3" y1="198.8" x2="137.8" y2="198.8" stroke="#000" stroke-width="3"/>
<polygon points="131.5,160.7 140.3,175.6 122.8,175.6" fill="#000"/>
<line x1="161.5" y1="116.2" x2="161.5" y2="153.5" stroke="#000" stroke-width="2.6"/>
<line x1="155.2" y1="116.2" x2="167.7" y2="116.2" stroke="#000" stroke-width="3"/>
<line x1="155.2" y1="153.5" x2="167.7" y2="153.5" stroke="#000" stroke-width="3"/>
<polygon points="161.5,126.1 170.2,141.0 152.7,141.0" fill="#000"/>
<line x1="221.3" y1="98.9" x2="221.3" y2="136.2" stroke="#000" stroke-width="2.6"/>
<line x1="215.1" y1="98.9" x2="227.6" y2="98.9" stroke="#000" stroke-width="3"/>
<line x1="215.1" y1="136.2" x2="227.6" y2="136.2" stroke="#000" stroke-width="3"/>
<polygon points="221.3,108.8 230.1,123.6 212.6,123.6" fill="#000"/>
<line x1="341.0" y1="105.5" x2="341.0" y2="116.2" stroke="#000" stroke-width="2.6"/>
<line x1="334.8" y1="105.5" x2="347.3" y2="105.5" stroke="#000" stroke-width="3"/>
<line x1="334.8" y1="116.2" x2="347.3" y2="116.2" stroke="#000" stroke-width="3"/>
<polygon points="341.0,102.1 349.8,117.0 332.3,117.0" fill="#000"/>
<line x1="580.5" y1="113.5" x2="580.5" y2="129.5" stroke="#000" stroke-width="2.6"/>
<line x1="574.2" y1="113.5" x2="586.8" y2="113.5" stroke="#000" stroke-width="3"/>
<line x1="574.2" y1="129.5" x2="586.8" y2="129.5" stroke="#000" stroke-width="3"/>
<polygon points="580.5,112.8 589.2,127.6 571.8,127.6" fill="#000"/>
<line x1="101.6" y1="348.5" x2="101.6" y2="378.9" stroke="#1d44e6" stroke-width="2.6"/>
<line x1="95.3" y1="348.5" x2="107.8" y2="348.5" stroke="#1d44e6" stroke-width="3"/>
<line x1="95.3" y1="378.9" x2="107.8" y2="378.9" stroke="#1d44e6" stroke-width="3"/>
<circle cx="101.6" cy="363.7" r="7.0" fill="#1d44e6"/>
<line x1="103.5" y1="319.8" x2="103.5" y2="351.6" stroke="#1d44e6" stroke-width="2.6"/>
<line x1="97.2" y1="319.8" x2="109.7" y2="319.8" stroke="#1d44e6" stroke-width="3"/>
<line x1="97.2" y1="351.6" x2="109.7" y2="351.6" stroke="#1d44e6" stroke-width="3"/>
<circle cx="103.5" cy="335.7" r="7.0" fill="#1d44e6"/>
<line x1="105.3" y1="310.6" x2="105.3" y2="324.8" stroke="#1d44e6" stroke-width="2.6"/>
<line x1="99.1" y1="310.6" x2="111.6" y2="310.6" stroke="#1d44e6" stroke-width="3"/>
<line x1="99.1" y1="324.8" x2="111.6" y2="324.8" stroke="#1d44e6" stroke-width="3"/>
<circle cx="105.3" cy="317.7" r="7.0" fill="#1d44e6"/>
<line x1="109.1" y1="266.1" x2="109.1" y2="297.3" stroke="#1d44e6" stroke-width="2.6"/>
<line x1="102.8" y1="266.1" x2="115.3" y2="266.1" stroke="#1d44e6" stroke-width="3"/>
<line x1="102.8" y1="297.3" x2="115.3" y2="297.3" stroke="#1d44e6" stroke-width="3"/>
<circle cx="109.1" cy="281.7" r="7.0" fill="#1d44e6"/>
<line x1="116.5" y1="225.6" x2="116.5" y2="248.4" stroke="#1d44e6" stroke-width="2.6"/>
<line x1="110.3" y1="225.6" x2="122.8" y2="225.6" stroke="#1d44e6" stroke-width="3"/>
<line x1="110.3" y1="248.4" x2="122.8" y2="248.4" stroke="#1d44e6" stroke-width="3"/>
<circle cx="116.5" cy="237.0" r="7.0" fill="#1d44e6"/>
<line x1="131.5" y1="185.4" x2="131.5" y2="217.4" stroke="#1d44e6" stroke-width="2.6"/>
<line x1="125.3" y1="185.4" x2="137.8" y2="185.4" stroke="#1d44e6" stroke-width="3"/>
<line x1="125.3" y1="217.4" x2="137.8" y2="217.4" stroke="#1d44e6" stroke-width="3"/>
<circle cx="131.5" cy="201.4" r="7.0" fill="#1d44e6"/>
<line x1="161.5" y1="142.8" x2="161.5" y2="169.5" stroke="#1d44e6" stroke-width="2.6"/>
<line x1="155.2" y1="142.8" x2="167.7" y2="142.8" stroke="#1d44e6" stroke-width="3"/>
<line x1="155.2" y1="169.5" x2="167.7" y2="169.5" stroke="#1d44e6" stroke-width="3"/>
<circle cx="161.5" cy="156.1" r="7.0" fill="#1d44e6"/>
<line x1="221.3" y1="116.2" x2="221.3" y2="142.8" stroke="#1d44e6" stroke-width="2.6"/>
<line x1="215.1" y1="116.2" x2="227.6" y2="116.2" stroke="#1d44e6" stroke-width="3"/>
<line x1="215.1" y1="142.8" x2="227.6" y2="142.8" stroke="#1d44e6" stroke-width="3"/>
<circle cx="221.3" cy="129.5" r="7.0" fill="#1d44e6"/>
<line x1="341.0" y1="97.5" x2="341.0" y2="108.2" stroke="#1d44e6" stroke-width="2.6"/>
<line x1="334.8" y1="97.5" x2="347.3" y2="97.5" stroke="#1d44e6" stroke-width="3"/>
<line x1="334.8" y1="108.2" x2="347.3" y2="108.2" stroke="#1d44e6" stroke-width="3"/>
<circle cx="341.0" cy="102.9" r="7.0" fill="#1d44e6"/>
<line x1="580.5" y1="97.5" x2="580.5" y2="108.2" stroke="#1d44e6" stroke-width="2.6"/>
<line x1="574.2" y1="97.5" x2="586.8" y2="97.5" stroke="#1d44e6" stroke-width="3"/>
<line x1="574.2" y1="108.2" x2="586.8" y2="108.2" stroke="#1d44e6" stroke-width="3"/>
<circle cx="580.5" cy="102.9" r="7.0" fill="#1d44e6"/>
<line x1="101.6" y1="348.0" x2="101.6" y2="369.3" stroke="#1d44e6" stroke-width="2.6"/>
<line x1="95.3" y1="348.0" x2="107.8" y2="348.0" stroke="#1d44e6" stroke-width="3"/>
<line x1="95.3" y1="369.3" x2="107.8" y2="369.3" stroke="#1d44e6" stroke-width="3"/>
<polygon points="101.6,349.5 110.7,358.6 101.6,367.7 92.5,358.6" fill="#1d44e6"/>
<line x1="103.5" y1="326.6" x2="103.5" y2="348.0" stroke="#1d44e6" stroke-width="2.6"/>
<line x1="97.2" y1="326.6" x2="109.7" y2="326.6" stroke="#1d44e6" stroke-width="3"/>
<line x1="97.2" y1="348.0" x2="109.7" y2="348.0" stroke="#1d44e6" stroke-width="3"/>
<polygon points="103.5,328.2 112.6,337.3 103.5,346.4 94.4,337.3" fill="#1d44e6"/>
<line x1="105.3" y1="284.0" x2="105.3" y2="310.7" stroke="#1d44e6" stroke-width="2.6"/>
<line x1="99.1" y1="284.0" x2="111.6" y2="284.0" stroke="#1d44e6" stroke-width="3"/>
<line x1="99.1" y1="310.7" x2="111.6" y2="310.7" stroke="#1d44e6" stroke-width="3"/>
<polygon points="105.3,288.2 114.4,297.3 105.3,306.4 96.2,297.3" fill="#1d44e6"/>
<line x1="109.1" y1="233.4" x2="109.1" y2="260.0" stroke="#1d44e6" stroke-width="2.6"/>
<line x1="102.8" y1="233.4" x2="115.3" y2="233.4" stroke="#1d44e6" stroke-width="3"/>
<line x1="102.8" y1="260.0" x2="115.3" y2="260.0" stroke="#1d44e6" stroke-width="3"/>
<polygon points="109.1,237.6 118.2,246.7 109.1,255.8 100.0,246.7" fill="#1d44e6"/>
<line x1="116.5" y1="221.8" x2="116.5" y2="236.9" stroke="#1d44e6" stroke-width="2.6"/>
<line x1="110.3" y1="221.8" x2="122.8" y2="221.8" stroke="#1d44e6" stroke-width="3"/>
<line x1="110.3" y1="236.9" x2="122.8" y2="236.9" stroke="#1d44e6" stroke-width="3"/>
<polygon points="116.5,220.2 125.6,229.3 116.5,238.4 107.4,229.3" fill="#1d44e6"/>
<line x1="131.5" y1="166.8" x2="131.5" y2="204.1" stroke="#1d44e6" stroke-width="2.6"/>
<line x1="125.3" y1="166.8" x2="137.8" y2="166.8" stroke="#1d44e6" stroke-width="3"/>
<line x1="125.3" y1="204.1" x2="137.8" y2="204.1" stroke="#1d44e6" stroke-width="3"/>
<polygon points="131.5,176.3 140.6,185.4 131.5,194.5 122.4,185.4" fill="#1d44e6"/>
<line x1="161.5" y1="124.2" x2="161.5" y2="156.1" stroke="#1d44e6" stroke-width="2.6"/>
<line x1="155.2" y1="124.2" x2="167.7" y2="124.2" stroke="#1d44e6" stroke-width="3"/>
<line x1="155.2" y1="156.1" x2="167.7" y2="156.1" stroke="#1d44e6" stroke-width="3"/>
<polygon points="161.5,131.1 170.6,140.2 161.5,149.3 152.4,140.2" fill="#1d44e6"/>
<line x1="221.3" y1="108.2" x2="221.3" y2="129.5" stroke="#1d44e6" stroke-width="2.6"/>
<line x1="215.1" y1="108.2" x2="227.6" y2="108.2" stroke="#1d44e6" stroke-width="3"/>
<line x1="215.1" y1="129.5" x2="227.6" y2="129.5" stroke="#1d44e6" stroke-width="3"/>
<polygon points="221.3,109.7 230.4,118.8 221.3,127.9 212.2,118.8" fill="#1d44e6"/>
<line x1="341.0" y1="94.9" x2="341.0" y2="105.5" stroke="#1d44e6" stroke-width="2.6"/>
<line x1="334.8" y1="94.9" x2="347.3" y2="94.9" stroke="#1d44e6" stroke-width="3"/>
<line x1="334.8" y1="105.5" x2="347.3" y2="105.5" stroke="#1d44e6" stroke-width="3"/>
<polygon points="341.0,91.1 350.1,100.2 341.0,109.3 331.9,100.2" fill="#1d44e6"/>
<line x1="580.5" y1="89.5" x2="580.5" y2="100.2" stroke="#1d44e6" stroke-width="2.6"/>
<line x1="574.2" y1="89.5" x2="586.8" y2="89.5" stroke="#1d44e6" stroke-width="3"/>
<line x1="574.2" y1="100.2" x2="586.8" y2="100.2" stroke="#1d44e6" stroke-width="3"/>
<polygon points="580.5,85.8 589.6,94.9 580.5,104.0 571.4,94.9" fill="#1d44e6"/>
<line x1="610" y1="101.5" x2="648.5" y2="101.5" stroke="#a0a0a0" stroke-width="4"/>
<rect x="621.7" y="93.9" width="15.2" height="15.2" fill="#a0a0a0"/>
<text x="657.0" y="111.1" font-size="27.0" font-weight="bold" fill="#a0a0a0" text-anchor="start" >Wild type</text>
<line x1="610" y1="136.2" x2="648.5" y2="136.2" stroke="#1d44e6" stroke-width="4"/>
<circle cx="629.3" cy="136.2" r="8.0" fill="#1d44e6"/>
<text x="657.0" y="145.8" font-size="27.0" font-weight="bold" fill="#1d44e6" text-anchor="start" ><tspan font-weight="normal">&#916;</tspan>L747-A750InsP</text>
<line x1="610" y1="171.2" x2="648.5" y2="171.2" stroke="#1d44e6" stroke-width="4"/>
<polygon points="629.3,160.8 639.7,171.2 629.3,181.6 618.9,171.2" fill="#1d44e6"/>
<text x="657.0" y="180.8" font-size="27.0" font-weight="bold" fill="#1d44e6" text-anchor="start" >L747P</text>
<line x1="610" y1="205.9" x2="648.5" y2="205.9" stroke="#000" stroke-width="4"/>
<polygon points="629.3,195.9 639.3,212.9 619.3,212.9" fill="#000"/>
<text x="657.0" y="215.5" font-size="27.0" font-weight="bold" fill="#000" text-anchor="start" ><tspan font-weight="normal">&#916;</tspan>L747-E749</text>
<line x1="610" y1="241.2" x2="648.5" y2="241.2" stroke="#e94b30" stroke-width="4"/>
<circle cx="629.3" cy="241.2" r="8.0" fill="#e94b30"/>
<text x="657.0" y="250.8" font-size="27.0" font-weight="bold" fill="#e8392b" text-anchor="start" ><tspan font-weight="normal">&#916;</tspan>E746-A750</text>
<line x1="610" y1="275.6" x2="648.5" y2="275.6" stroke="#e94b30" stroke-width="4"/>
<polygon points="629.3,265.6 639.3,282.6 619.3,282.6" fill="#e94b30"/>
<text x="657.0" y="285.2" font-size="27.0" font-weight="bold" fill="#e8392b" text-anchor="start" ><tspan font-weight="normal">&#916;</tspan>L747-P753InsS</text>
<line x1="610" y1="310.9" x2="648.5" y2="310.9" stroke="#e94b30" stroke-width="4"/>
<polygon points="629.3,299.3 632.4,306.7 640.3,307.3 634.3,312.5 636.1,320.3 629.3,316.1 622.5,320.3 624.3,312.5 618.3,307.3 626.2,306.7" fill="#e94b30"/>
<text x="657.0" y="320.5" font-size="27.0" font-weight="bold" fill="#e8392b" text-anchor="start" ><tspan font-weight="normal">&#916;</tspan>E746-T751InsA</text>
<line x1="610" y1="345.6" x2="648.5" y2="345.6" stroke="#e94b30" stroke-width="4"/>
<polygon points="629.3,355.6 639.3,338.6 619.3,338.6" fill="#e94b30"/>
<text x="657.0" y="355.2" font-size="27.0" font-weight="bold" fill="#e8392b" text-anchor="start" ><tspan font-weight="normal">&#916;</tspan>L747-T751InsP</text>
<line x1="610" y1="380.3" x2="648.5" y2="380.3" stroke="#e94b30" stroke-width="4"/>
<polygon points="638.1,380.3 633.7,387.5 624.9,387.5 620.5,380.3 624.9,373.1 633.7,373.1" fill="#e94b30"/>
<text x="657.0" y="389.9" font-size="27.0" font-weight="bold" fill="#e8392b" text-anchor="start" ><tspan font-weight="normal">&#916;</tspan>S752-I759</text>
<line x1="103.6" y1="545" x2="103.6" y2="867" stroke="#000" stroke-width="3"/>
<line x1="103" y1="865.7" x2="586" y2="865.7" stroke="#000" stroke-width="3"/>
<line x1="90" y1="865.6" x2="104" y2="865.6" stroke="#000" stroke-width="3"/>
<text x="85.5" y="874.6" font-size="27.5" font-weight="bold" fill="#000" text-anchor="end" >0</text>
<line x1="96" y1="815.5" x2="104" y2="815.5" stroke="#000" stroke-width="3"/>
<line x1="90" y1="765.3" x2="104" y2="765.3" stroke="#000" stroke-width="3"/>
<text x="85.5" y="774.3" font-size="27.5" font-weight="bold" fill="#000" text-anchor="end" >100</text>
<line x1="96" y1="715.2" x2="104" y2="715.2" stroke="#000" stroke-width="3"/>
<line x1="90" y1="665.0" x2="104" y2="665.0" stroke="#000" stroke-width="3"/>
<text x="85.5" y="674.0" font-size="27.5" font-weight="bold" fill="#000" text-anchor="end" >200</text>
<line x1="96" y1="614.9" x2="104" y2="614.9" stroke="#000" stroke-width="3"/>
<line x1="90" y1="564.7" x2="104" y2="564.7" stroke="#000" stroke-width="3"/>
<text x="85.5" y="573.7" font-size="27.5" font-weight="bold" fill="#000" text-anchor="end" >300</text>
<text transform="translate(21.3,787) rotate(-90)" font-size="28" font-weight="bold" fill="#000"><tspan font-style="italic">K</tspan><tspan font-size="16.5" dy="7.5">M, ATP</tspan><tspan dy="-7.5"> (</tspan><tspan font-family="Liberation Serif, serif" font-weight="normal">&#956;</tspan>M)</text>
<defs><pattern id="chk" width="6" height="6" patternUnits="userSpaceOnUse" x="0" y="0"><rect width="6" height="6" fill="#fff"/><rect width="3" height="3" fill="#958e00"/><rect x="3" y="3" width="3" height="3" fill="#958e00"/></pattern></defs>
<rect x="107.4" y="855.1" width="39.2" height="10.5" fill="#a8a8a8"/>
<rect x="150.7" y="843.0" width="39.2" height="22.6" fill="#1d44e6"/>
<rect x="194.0" y="845.0" width="39.2" height="20.6" fill="#1d44e6"/>
<rect x="237.4" y="853.6" width="39.2" height="12.0" fill="#000"/>
<rect x="280.7" y="707.4" width="39.2" height="158.2" fill="#e83224"/>
<rect x="324.2" y="764.3" width="39.2" height="101.3" fill="#e83224"/>
<rect x="367.6" y="624.9" width="39.2" height="240.7" fill="#e83224"/>
<rect x="410.9" y="701.7" width="39.2" height="163.9" fill="#e83224"/>
<rect x="454.2" y="774.6" width="39.2" height="91.0" fill="#e83224"/>
<rect x="499.2" y="793.5" width="36.4" height="72.1" fill="url(#chk)" stroke="#958e00" stroke-width="2.9"/>
<rect x="541.2" y="820.9" width="39.2" height="44.7" fill="#958e00"/>
<line x1="300.3" y1="682.8" x2="300.3" y2="732.1" stroke="#000" stroke-width="3"/>
<line x1="293.8" y1="682.8" x2="306.8" y2="682.8" stroke="#000" stroke-width="3.2"/>
<line x1="293.8" y1="732.1" x2="306.8" y2="732.1" stroke="#000" stroke-width="3.2"/>
<circle cx="300.2" cy="670.4" r="5.2" fill="#000"/>
<circle cx="285.8" cy="697.2" r="5.2" fill="#000"/>
<circle cx="300.2" cy="694.5" r="5.2" fill="#000"/>
<circle cx="315.3" cy="688.8" r="5.2" fill="#000"/>
<circle cx="315.3" cy="703.9" r="5.2" fill="#000"/>
<circle cx="300.2" cy="706.3" r="5.2" fill="#000"/>
<circle cx="300.2" cy="716.7" r="5.2" fill="#000"/>
<circle cx="307.6" cy="740.2" r="5.2" fill="#000"/>
<circle cx="292.8" cy="749.3" r="5.2" fill="#000"/>
<line x1="343.8" y1="742.2" x2="343.8" y2="786.5" stroke="#000" stroke-width="3"/>
<line x1="337.3" y1="742.2" x2="350.3" y2="742.2" stroke="#000" stroke-width="3.2"/>
<line x1="337.3" y1="786.5" x2="350.3" y2="786.5" stroke="#000" stroke-width="3.2"/>
<circle cx="338.8" cy="733.8" r="5.2" fill="#000"/>
<circle cx="348.9" cy="727.4" r="5.2" fill="#000"/>
<circle cx="343.9" cy="750.6" r="5.2" fill="#000"/>
<circle cx="338.8" cy="766.1" r="5.2" fill="#000"/>
<circle cx="328.8" cy="771.8" r="5.2" fill="#000"/>
<circle cx="338.8" cy="778.5" r="5.2" fill="#000"/>
<circle cx="348.9" cy="780.2" r="5.2" fill="#000"/>
<circle cx="359.0" cy="775.8" r="5.2" fill="#000"/>
<circle cx="343.9" cy="795.3" r="5.2" fill="#000"/>
<line x1="387.2" y1="565.9" x2="387.2" y2="684.5" stroke="#000" stroke-width="3"/>
<line x1="380.7" y1="565.9" x2="393.7" y2="565.9" stroke="#000" stroke-width="3.2"/>
<line x1="380.7" y1="684.5" x2="393.7" y2="684.5" stroke="#000" stroke-width="3.2"/>
<circle cx="387.2" cy="546.8" r="5.2" fill="#000"/>
<circle cx="377.5" cy="578.0" r="5.2" fill="#000"/>
<circle cx="396.6" cy="580.4" r="5.2" fill="#000"/>
<circle cx="387.2" cy="602.2" r="5.2" fill="#000"/>
<circle cx="387.2" cy="637.5" r="5.2" fill="#000"/>
<circle cx="387.2" cy="649.2" r="5.2" fill="#000"/>
<circle cx="387.2" cy="694.5" r="5.2" fill="#000"/>
<circle cx="387.2" cy="714.0" r="5.2" fill="#000"/>
<line x1="430.5" y1="653.6" x2="430.5" y2="749.6" stroke="#000" stroke-width="3"/>
<line x1="424.0" y1="653.6" x2="437.0" y2="653.6" stroke="#000" stroke-width="3.2"/>
<line x1="424.0" y1="749.6" x2="437.0" y2="749.6" stroke="#000" stroke-width="3.2"/>
<circle cx="421.1" cy="648.2" r="5.2" fill="#000"/>
<circle cx="440.2" cy="640.8" r="5.2" fill="#000"/>
<circle cx="430.5" cy="661.0" r="5.2" fill="#000"/>
<circle cx="430.5" cy="682.8" r="5.2" fill="#000"/>
<circle cx="421.1" cy="703.3" r="5.2" fill="#000"/>
<circle cx="440.2" cy="709.0" r="5.2" fill="#000"/>
<circle cx="430.5" cy="730.5" r="5.2" fill="#000"/>
<circle cx="421.1" cy="771.8" r="5.2" fill="#000"/>
<circle cx="440.2" cy="765.7" r="5.2" fill="#000"/>
<line x1="473.8" y1="749.9" x2="473.8" y2="798.6" stroke="#000" stroke-width="3"/>
<line x1="467.3" y1="749.9" x2="480.3" y2="749.9" stroke="#000" stroke-width="3.2"/>
<line x1="467.3" y1="798.6" x2="480.3" y2="798.6" stroke="#000" stroke-width="3.2"/>
<circle cx="464.1" cy="741.9" r="5.2" fill="#000"/>
<circle cx="473.8" cy="741.9" r="5.2" fill="#000"/>
<circle cx="483.9" cy="743.2" r="5.2" fill="#000"/>
<circle cx="459.1" cy="786.9" r="5.2" fill="#000"/>
<circle cx="469.1" cy="782.9" r="5.2" fill="#000"/>
<circle cx="478.9" cy="789.6" r="5.2" fill="#000"/>
<circle cx="488.9" cy="782.9" r="5.2" fill="#000"/>
<circle cx="469.1" cy="801.3" r="5.2" fill="#000"/>
<circle cx="478.9" cy="799.6" r="5.2" fill="#000"/>
<line x1="517.4" y1="776.8" x2="517.4" y2="806.4" stroke="#000" stroke-width="3"/>
<line x1="510.9" y1="776.8" x2="523.9" y2="776.8" stroke="#000" stroke-width="3.2"/>
<line x1="510.9" y1="806.4" x2="523.9" y2="806.4" stroke="#000" stroke-width="3.2"/>
<circle cx="502.7" cy="778.5" r="5.2" fill="#000"/>
<circle cx="517.5" cy="778.5" r="5.2" fill="#000"/>
<circle cx="532.6" cy="776.8" r="5.2" fill="#000"/>
<circle cx="510.1" cy="791.2" r="5.2" fill="#000"/>
<circle cx="525.2" cy="788.6" r="5.2" fill="#000"/>
<circle cx="517.5" cy="802.0" r="5.2" fill="#000"/>
<circle cx="532.6" cy="806.0" r="5.2" fill="#000"/>
<circle cx="502.7" cy="814.8" r="5.2" fill="#000"/>
<circle cx="560.8" cy="809.4" r="5.2" fill="#000"/>
<circle cx="548.7" cy="818.1" r="5.2" fill="#000"/>
<circle cx="572.2" cy="815.4" r="5.2" fill="#000"/>
<circle cx="555.4" cy="822.1" r="5.2" fill="#000"/>
<circle cx="565.5" cy="821.5" r="5.2" fill="#000"/>
<circle cx="545.4" cy="827.2" r="5.2" fill="#000"/>
<circle cx="569.5" cy="830.5" r="5.2" fill="#000"/>
<circle cx="575.6" cy="823.1" r="5.2" fill="#000"/>
<circle cx="560.8" cy="825.5" r="5.2" fill="#000"/>
<circle cx="115.8" cy="848.6" r="5.2" fill="#000"/>
<circle cx="124.1" cy="849.3" r="5.2" fill="#000"/>
<circle cx="133.6" cy="849.9" r="5.2" fill="#000"/>
<circle cx="111.4" cy="856.9" r="5.2" fill="#000"/>
<circle cx="119.6" cy="855.6" r="5.2" fill="#000"/>
<circle cx="128.5" cy="858.8" r="5.2" fill="#000"/>
<circle cx="138.0" cy="857.5" r="5.2" fill="#000"/>
<circle cx="141.8" cy="855.0" r="5.2" fill="#000"/>
<line x1="170.3" y1="836.0" x2="170.3" y2="848.0" stroke="#000" stroke-width="3"/>
<line x1="163.8" y1="836.0" x2="176.8" y2="836.0" stroke="#000" stroke-width="3"/>
<circle cx="155.1" cy="834.7" r="5.2" fill="#000"/>
<circle cx="167.1" cy="836.0" r="5.2" fill="#000"/>
<circle cx="185.5" cy="833.4" r="5.2" fill="#000"/>
<circle cx="155.7" cy="849.3" r="5.2" fill="#000"/>
<circle cx="167.1" cy="847.4" r="5.2" fill="#000"/>
<circle cx="178.5" cy="851.2" r="5.2" fill="#000"/>
<circle cx="186.1" cy="846.7" r="5.2" fill="#000"/>
<circle cx="163.3" cy="841.7" r="5.2" fill="#000"/>
<circle cx="173.5" cy="842.3" r="5.2" fill="#000"/>
<line x1="213.6" y1="838.5" x2="213.6" y2="850.5" stroke="#000" stroke-width="3"/>
<line x1="207.1" y1="838.5" x2="220.1" y2="838.5" stroke="#000" stroke-width="3"/>
<circle cx="198.8" cy="839.1" r="5.2" fill="#000"/>
<circle cx="210.8" cy="836.6" r="5.2" fill="#000"/>
<circle cx="228.6" cy="836.0" r="5.2" fill="#000"/>
<circle cx="198.8" cy="851.8" r="5.2" fill="#000"/>
<circle cx="210.8" cy="848.0" r="5.2" fill="#000"/>
<circle cx="222.2" cy="853.7" r="5.2" fill="#000"/>
<circle cx="228.6" cy="846.7" r="5.2" fill="#000"/>
<circle cx="205.1" cy="842.3" r="5.2" fill="#000"/>
<circle cx="215.9" cy="843.6" r="5.2" fill="#000"/>
<line x1="257.0" y1="846.1" x2="257.0" y2="854.3" stroke="#a8a8a8" stroke-width="3"/>
<line x1="250.5" y1="846.1" x2="263.5" y2="846.1" stroke="#a8a8a8" stroke-width="3"/>
<circle cx="243.1" cy="842.3" r="5.2" fill="#a8a8a8"/>
<circle cx="247.6" cy="839.1" r="5.2" fill="#a8a8a8"/>
<circle cx="253.9" cy="846.7" r="5.2" fill="#a8a8a8"/>
<circle cx="242.5" cy="860.0" r="5.2" fill="#a8a8a8"/>
<circle cx="251.4" cy="856.9" r="5.2" fill="#a8a8a8"/>
<circle cx="260.2" cy="860.0" r="5.2" fill="#a8a8a8"/>
<circle cx="269.7" cy="858.1" r="5.2" fill="#a8a8a8"/>
<circle cx="264.7" cy="862.6" r="5.2" fill="#a8a8a8"/>
<circle cx="253.3" cy="860.7" r="5.2" fill="#a8a8a8"/>
<line x1="103" y1="865.7" x2="586" y2="865.7" stroke="#000" stroke-width="3"/>
<line x1="127.0" y1="865" x2="127.0" y2="879" stroke="#000" stroke-width="3"/>
<line x1="170.3" y1="865" x2="170.3" y2="879" stroke="#000" stroke-width="3"/>
<line x1="213.6" y1="865" x2="213.6" y2="879" stroke="#000" stroke-width="3"/>
<line x1="257.0" y1="865" x2="257.0" y2="879" stroke="#000" stroke-width="3"/>
<line x1="300.3" y1="865" x2="300.3" y2="879" stroke="#000" stroke-width="3"/>
<line x1="343.8" y1="865" x2="343.8" y2="879" stroke="#000" stroke-width="3"/>
<line x1="387.2" y1="865" x2="387.2" y2="879" stroke="#000" stroke-width="3"/>
<line x1="430.5" y1="865" x2="430.5" y2="879" stroke="#000" stroke-width="3"/>
<line x1="473.8" y1="865" x2="473.8" y2="879" stroke="#000" stroke-width="3"/>
<line x1="517.4" y1="865" x2="517.4" y2="879" stroke="#000" stroke-width="3"/>
<line x1="560.8" y1="865" x2="560.8" y2="879" stroke="#000" stroke-width="3"/>
<text transform="translate(144.0,893.5) rotate(-45)" font-size="27" font-weight="bold" fill="#a0a0a0" text-anchor="end">Wild type</text>
<text transform="translate(187.3,893.5) rotate(-45)" font-size="27" font-weight="bold" fill="#1d44e6" text-anchor="end"><tspan font-weight="normal">&#916;</tspan>L747-A750InsP</text>
<text transform="translate(230.6,893.5) rotate(-45)" font-size="27" font-weight="bold" fill="#1d44e6" text-anchor="end">L747P</text>
<text transform="translate(274.0,893.5) rotate(-45)" font-size="27" font-weight="bold" fill="#000" text-anchor="end"><tspan font-weight="normal">&#916;</tspan>L747-E749</text>
<text transform="translate(317.3,893.5) rotate(-45)" font-size="27" font-weight="bold" fill="#e8392b" text-anchor="end"><tspan font-weight="normal">&#916;</tspan>E746-A750</text>
<text transform="translate(360.8,893.5) rotate(-45)" font-size="27" font-weight="bold" fill="#e8392b" text-anchor="end"><tspan font-weight="normal">&#916;</tspan>L747-P753InsS</text>
<text transform="translate(404.2,893.5) rotate(-45)" font-size="27" font-weight="bold" fill="#e8392b" text-anchor="end"><tspan font-weight="normal">&#916;</tspan>E746-T751InsA</text>
<text transform="translate(447.5,893.5) rotate(-45)" font-size="27" font-weight="bold" fill="#e8392b" text-anchor="end"><tspan font-weight="normal">&#916;</tspan>L747-T751InsP</text>
<text transform="translate(490.8,893.5) rotate(-45)" font-size="27" font-weight="bold" fill="#e8392b" text-anchor="end"><tspan font-weight="normal">&#916;</tspan>S752-I759</text>
<text transform="translate(534.4,893.5) rotate(-45)" font-size="27" font-weight="bold" fill="#958e00" text-anchor="end">L858R</text>
<text transform="translate(577.8,893.5) rotate(-45)" font-size="27" font-weight="bold" fill="#958e00" text-anchor="end">L858R/T790M</text>
<defs>
<linearGradient id="gd1" x1="0" y1="1" x2="1" y2="0"><stop offset="0" stop-color="#555"/><stop offset="0.6" stop-color="#111"/><stop offset="1" stop-color="#000"/></linearGradient>
<linearGradient id="gtri" x1="0" y1="0" x2="1" y2="0"><stop offset="0" stop-color="#777"/><stop offset="1" stop-color="#e8e8e8"/></linearGradient>
<linearGradient id="gb3" x1="0" y1="0" x2="1" y2="0"><stop offset="0" stop-color="#f4f4f4"/><stop offset="0.55" stop-color="#c8c8c8"/><stop offset="0.8" stop-color="#b08060"/><stop offset="1" stop-color="#f08a26"/></linearGradient>
<linearGradient id="gb2" x1="0" y1="0" x2="1" y2="0"><stop offset="0" stop-color="#888"/><stop offset="0.4" stop-color="#e8e8e8"/><stop offset="1" stop-color="#f4f4f4"/></linearGradient>
<linearGradient id="gfade" x1="0" y1="0" x2="1" y2="0"><stop offset="0" stop-color="#999"/><stop offset="1" stop-color="#f0f0f0"/></linearGradient>
<linearGradient id="ghel" x1="0" y1="0" x2="1" y2="0"><stop offset="0" stop-color="#d8d8d8"/><stop offset="0.5" stop-color="#bbb"/><stop offset="1" stop-color="#e6e6e6"/></linearGradient>
</defs>
<g id="pd">
<linearGradient id="ghb" x1="0" y1="0" x2="0" y2="1"><stop offset="0" stop-color="#ececec"/><stop offset="0.5" stop-color="#dadada"/><stop offset="1" stop-color="#c4c4c4"/></linearGradient>
<path d="M966.0,650.0 C972.3,639.7 986.0,639.7 1000.0,638.0 C1014.0,636.3 1030.0,638.8 1050.0,640.0 C1070.0,641.2 1093.3,641.7 1120.0,645.0 C1146.7,648.3 1193.0,650.8 1210.0,660.0 C1227.0,669.2 1221.2,686.3 1222.0,700.0 C1222.8,713.7 1227.0,735.0 1215.0,742.0 C1203.0,749.0 1175.8,743.2 1150.0,742.0 C1124.2,740.8 1086.7,737.3 1060.0,735.0 C1033.3,732.7 1006.3,733.8 990.0,728.0 C973.7,722.2 966.0,713.0 962.0,700.0 C958.0,687.0 959.7,660.3 966.0,650.0 Z" fill="url(#ghb)" stroke="none" stroke-width="1" stroke-linejoin="round"/>
<path d="M1044.0,668.0 C1048.0,661.2 1061.3,658.7 1070.0,664.0 C1078.7,669.3 1091.7,688.3 1096.0,700.0 C1100.3,711.7 1100.7,728.3 1096.0,734.0 C1091.3,739.7 1076.3,738.8 1068.0,734.0 C1059.7,729.2 1050.0,716.0 1046.0,705.0 C1042.0,694.0 1040.0,674.8 1044.0,668.0 Z" fill="#8e8e8e" stroke="none" stroke-width="1" stroke-linejoin="round"/>
<path d="M965.0,655.0 C968.3,645.3 979.2,642.8 985.0,642.0 C990.8,641.2 998.8,642.0 1000.0,650.0 C1001.2,658.0 990.3,677.0 992.0,690.0 C993.7,703.0 1011.2,722.0 1010.0,728.0 C1008.8,734.0 992.5,730.7 985.0,726.0 C977.5,721.3 968.3,711.8 965.0,700.0 C961.7,688.2 961.7,664.7 965.0,655.0 Z" fill="#c4c4c4" stroke="none" stroke-width="1" stroke-linejoin="round"/>
<path d="M1010.0,640.0 L1030.0,636.0 L1048.0,680.0 L1046.0,729.0 L1024.0,729.0 L1012.0,690.0 Z" fill="#f7f7f7" stroke="#9a9a9a" stroke-width="1" stroke-linejoin="round"/>
<path d="M1094.0,642.0 L1115.0,638.0 L1130.0,680.0 L1128.0,732.0 L1108.0,732.0 L1100.0,690.0 Z" fill="#f7f7f7" stroke="#9a9a9a" stroke-width="1" stroke-linejoin="round"/>
<path d="M1128.0,660.0 C1131.0,651.7 1141.0,650.8 1150.0,650.0 C1159.0,649.2 1175.3,648.3 1182.0,655.0 C1188.7,661.7 1187.0,676.7 1190.0,690.0 C1193.0,703.3 1202.0,726.3 1200.0,735.0 C1198.0,743.7 1186.3,741.5 1178.0,742.0 C1169.7,742.5 1157.7,745.0 1150.0,738.0 C1142.3,731.0 1135.7,713.0 1132.0,700.0 C1128.3,687.0 1125.0,668.3 1128.0,660.0 Z" fill="#464646" stroke="none" stroke-width="1" stroke-linejoin="round"/>
<path d="M1198.0,680.0 L1215.0,672.0 L1225.0,700.0 L1218.0,740.0 L1200.0,738.0 Z" fill="#ededed" stroke="none" stroke-width="1" stroke-linejoin="round"/>
<path d="M801.0,533.0 L814.0,533.0 L806.0,552.0 L801.0,566.0 Z" fill="#000" stroke="none" stroke-width="1" stroke-linejoin="round"/>
<path d="M801.0,562.0 C801.8,567.0 803.8,581.5 806.0,592.0 C808.2,602.5 812.7,619.5 814.0,625.0" fill="none" stroke="#000" stroke-width="5" stroke-linecap="round" stroke-linejoin="round"/>
<path d="M829.0,533.0 C826.3,535.5 815.5,539.7 813.0,548.0 C810.5,556.3 812.2,570.8 814.0,583.0 C815.8,595.2 822.3,614.7 824.0,621.0" fill="none" stroke="#777" stroke-width="9.4" stroke-linecap="round" stroke-linejoin="round"/>
<path d="M829.0,533.0 C826.3,535.5 815.5,539.7 813.0,548.0 C810.5,556.3 812.2,570.8 814.0,583.0 C815.8,595.2 822.3,614.7 824.0,621.0" fill="none" stroke="#e8e8e8" stroke-width="7" stroke-linecap="round" stroke-linejoin="round"/>
<path d="M910.0,533.0 L958.0,533.0 L922.0,583.0 Z" fill="url(#gtri)" stroke="none" stroke-width="1" stroke-linejoin="round"/>
<path d="M869.0,536.0 L878.0,534.0 L884.0,552.0 L882.0,566.0 L873.0,560.0 Z" fill="#d2d2d2" stroke="none" stroke-width="1" stroke-linejoin="round"/>
<path d="M877.0,533.0 L897.0,533.0 L908.0,548.0 L911.0,560.0 L905.0,565.0 L896.0,561.0 L887.0,547.0 Z" fill="#000" stroke="none" stroke-width="1" stroke-linejoin="round"/>
<path d="M945.0,625.0 L978.0,578.0 L980.0,556.0 L1050.0,552.0 L1008.0,607.0 L1000.0,600.0 L940.0,632.0 Z" fill="#e0e0e0" stroke="#a0a0a0" stroke-width="1" stroke-linejoin="round"/>
<path d="M858.0,660.0 L868.0,640.0 L887.0,617.0 L910.0,598.0 L924.0,585.0 L929.0,579.0 L979.0,579.0 L968.0,596.0 L954.0,625.0 L945.0,625.0 L929.0,634.0 L903.0,656.0 L878.0,682.0 L866.0,706.0 Z" fill="url(#gd1)" stroke="none" stroke-width="1" stroke-linejoin="round"/>
<path d="M866.0,709.0 C872.0,700.8 888.8,673.2 902.0,660.0 C915.2,646.8 928.7,639.0 945.0,630.0 C961.3,621.0 990.8,610.0 1000.0,606.0" fill="none" stroke="#d0d0d0" stroke-width="5" stroke-linecap="round" stroke-linejoin="round"/>
<path d="M1063.0,559.0 C1065.3,561.2 1068.0,569.2 1077.0,572.0 C1086.0,574.8 1104.8,573.8 1117.0,576.0 C1129.2,578.2 1142.7,578.0 1150.0,585.0 C1157.3,592.0 1159.2,612.5 1161.0,618.0" fill="none" stroke="#999" stroke-width="6.4" stroke-linecap="round" stroke-linejoin="round"/>
<path d="M1063.0,559.0 C1065.3,561.2 1068.0,569.2 1077.0,572.0 C1086.0,574.8 1104.8,573.8 1117.0,576.0 C1129.2,578.2 1142.7,578.0 1150.0,585.0 C1157.3,592.0 1159.2,612.5 1161.0,618.0" fill="none" stroke="#f0f0f0" stroke-width="4" stroke-linecap="round" stroke-linejoin="round"/>
<path d="M979.0,579.0 C983.5,575.3 994.2,563.3 1006.0,557.0 C1017.8,550.7 1040.3,542.5 1050.0,541.0 C1059.7,539.5 1060.2,545.0 1064.0,548.0 C1067.8,551.0 1067.8,556.8 1073.0,559.0 C1078.2,561.2 1084.8,560.3 1095.0,561.0 C1105.2,561.7 1123.8,559.7 1134.0,563.0 C1144.2,566.3 1151.2,574.3 1156.0,581.0 C1160.8,587.7 1162.2,595.7 1163.0,603.0 C1163.8,610.3 1163.2,618.3 1161.0,625.0 C1158.8,631.7 1155.5,638.2 1150.0,643.0 C1144.5,647.8 1134.3,653.3 1128.0,654.0 C1121.7,654.7 1117.5,650.0 1112.0,647.0 C1106.5,644.0 1101.5,638.5 1095.0,636.0 C1088.5,633.5 1081.2,631.3 1073.0,632.0 C1064.8,632.7 1053.5,636.3 1046.0,640.0 C1038.5,643.7 1033.5,649.5 1028.0,654.0 C1022.5,658.5 1015.5,664.8 1013.0,667.0" fill="none" stroke="#000" stroke-width="4.6" stroke-linecap="round" stroke-linejoin="round"/>
<path d="M866.0,712.0 L930.0,672.0 L1000.0,645.0 L1068.0,627.0 L1081.0,645.0 L1016.0,687.0 L940.0,712.0 L872.0,741.0 Z" fill="#f7f7f7" stroke="#aaa" stroke-width="1" stroke-linejoin="round"/>
<path d="M869.0,729.0 L908.0,703.0 L944.0,684.0 L1006.0,654.0 L1015.0,687.0 L944.0,712.0 L872.0,741.0 Z" fill="#000" stroke="none" stroke-width="1" stroke-linejoin="round"/>
<path d="M874.0,752.0 L984.0,741.0 L983.0,732.0 L1048.0,749.0 L992.0,790.0 L988.0,780.0 L880.0,786.0 Z" fill="#000" stroke="none" stroke-width="1" stroke-linejoin="round"/>
<path d="M1048.0,749.0 L1080.0,752.0 L1110.0,758.0 L1140.0,768.0 L1100.0,786.0 L1066.0,798.0 L1066.0,792.0 L995.0,793.0 L992.0,790.0 Z" fill="url(#gb3)" stroke="none" stroke-width="1" stroke-linejoin="round"/>
<path d="M884.0,791.0 C893.3,791.2 921.3,791.5 940.0,792.0 C958.7,792.5 986.7,793.7 996.0,794.0" fill="none" stroke="#9a9a9a" stroke-width="3" stroke-linecap="round" stroke-linejoin="round"/>
<path d="M1049.0,748.0 C1054.2,746.5 1068.2,740.3 1080.0,739.0 C1091.8,737.7 1110.0,737.3 1120.0,740.0 C1130.0,742.7 1136.7,752.5 1140.0,755.0" fill="none" stroke="#000" stroke-width="4.6" stroke-linecap="round" stroke-linejoin="round"/>
<linearGradient id="gw" x1="0" y1="0" x2="0" y2="1"><stop offset="0" stop-color="#f6f6f6"/><stop offset="0.5" stop-color="#e4e4e4"/><stop offset="1" stop-color="#cfcfcf"/></linearGradient>
<path d="M801.0,622.0 L850.0,618.0 L856.0,640.0 L801.0,650.0 Z" fill="#fff" stroke="none" stroke-width="1" stroke-linejoin="round"/>
<path d="M817.0,625.0 L834.0,623.0 L840.0,673.0 L851.0,726.0 L857.0,758.0 L863.0,800.0 L868.0,830.0 L877.5,852.6 L894.0,885.0 L905.0,897.0 L938.0,897.0 L979.0,911.0 L1003.0,955.0 L951.0,967.0 L930.0,950.0 L910.0,930.0 L890.0,905.0 L875.0,880.0 L862.0,850.0 L852.0,830.0 L840.0,805.0 L820.0,785.0 L801.0,775.0 L801.0,726.0 L825.0,726.0 L822.0,680.0 Z" fill="#000" stroke="none" stroke-width="1" stroke-linejoin="round"/>
<path d="M801.0,636.0 L817.0,630.0 L822.0,680.0 L825.0,726.0 L811.0,726.0 L801.0,705.0 Z" fill="#f4f4f4" stroke="#777" stroke-width="1" stroke-linejoin="round"/>
<path d="M801.0,692.0 L809.0,690.0 L848.0,786.0 L842.0,792.0 L801.0,740.0 Z" fill="#d6d6d6" stroke="none" stroke-width="1" stroke-linejoin="round"/>
<path d="M834.0,623.0 L849.0,623.0 L855.0,663.0 L866.0,716.0 L874.0,768.0 L882.0,820.0 L894.0,845.0 L908.5,860.0 L925.0,885.0 L938.0,897.0 L905.0,897.0 L894.0,885.0 L877.5,852.6 L868.0,830.0 L863.0,800.0 L857.0,758.0 L851.0,726.0 L840.0,673.0 Z" fill="url(#gw)" stroke="#666" stroke-width="1" stroke-linejoin="round"/>
<path d="M801.0,628.0 C803.8,627.0 812.2,623.7 818.0,622.0 C823.8,620.3 831.0,618.2 836.0,618.0 C841.0,617.8 846.0,620.5 848.0,621.0" fill="none" stroke="#000" stroke-width="3" stroke-linecap="round" stroke-linejoin="round"/>
<path d="M801.0,632.0 L801.0,700.0" fill="none" stroke="#000" stroke-width="2" stroke-linecap="round" stroke-linejoin="round"/>
<path d="M852.0,835.0 C853.7,837.5 858.2,842.5 862.0,850.0 C865.8,857.5 870.3,870.8 875.0,880.0 C879.7,889.2 884.2,896.7 890.0,905.0 C895.8,913.3 903.3,922.5 910.0,930.0 C916.7,937.5 924.0,943.8 930.0,950.0 C936.0,956.2 943.3,964.2 946.0,967.0" fill="none" stroke="#c8c8c8" stroke-width="4" stroke-linecap="round" stroke-linejoin="round"/>
<path d="M892.0,810.0 L988.0,828.0 L1116.0,834.0 L1118.0,868.0 L980.0,868.0 L900.0,838.0 Z" fill="url(#gb2)" stroke="#777" stroke-width="1" stroke-linejoin="round"/>
<path d="M888.0,806.0 L930.0,812.0 L988.0,826.0 L985.0,833.0 L930.0,828.0 L894.0,822.0 Z" fill="#000" stroke="none" stroke-width="1" stroke-linejoin="round"/>
<path d="M896.0,836.0 L940.0,850.0 L984.0,866.0 L980.0,871.0 L935.0,862.0 L898.0,846.0 Z" fill="#000" stroke="none" stroke-width="1" stroke-linejoin="round"/>
<path d="M1022.0,860.0 C1028.3,859.2 1048.7,856.8 1060.0,855.0 C1071.3,853.2 1081.8,851.5 1090.0,849.0 C1098.2,846.5 1105.8,841.5 1109.0,840.0" fill="none" stroke="#000" stroke-width="4.6" stroke-linecap="round" stroke-linejoin="round"/>
<path d="M801.0,868.0 L855.0,862.0 L880.0,890.0 L801.0,906.0 Z" fill="url(#gfade)" stroke="none" stroke-width="1" stroke-linejoin="round"/>
<path d="M801.0,932.0 L866.0,926.0 L870.0,955.0 L801.0,962.0 Z" fill="url(#gfade)" stroke="none" stroke-width="1" stroke-linejoin="round"/>
<path d="M801.0,975.0 L850.0,972.0 L850.0,988.0 L801.0,988.0 Z" fill="#ddd" stroke="none" stroke-width="1" stroke-linejoin="round"/>
<path d="M996.0,966.0 C1002.5,965.2 1022.2,961.8 1035.0,961.0 C1047.8,960.2 1065.8,963.0 1073.0,961.0 C1080.2,959.0 1069.5,950.5 1078.0,949.0 C1086.5,947.5 1114.2,960.0 1124.0,952.0 C1133.8,944.0 1135.7,914.7 1137.0,901.0 C1138.3,887.3 1133.5,876.8 1132.0,870.0 C1130.5,863.2 1128.7,861.7 1128.0,860.0" fill="none" stroke="#999" stroke-width="6.9" stroke-linecap="round" stroke-linejoin="round"/>
<path d="M996.0,966.0 C1002.5,965.2 1022.2,961.8 1035.0,961.0 C1047.8,960.2 1065.8,963.0 1073.0,961.0 C1080.2,959.0 1069.5,950.5 1078.0,949.0 C1086.5,947.5 1114.2,960.0 1124.0,952.0 C1133.8,944.0 1135.7,914.7 1137.0,901.0 C1138.3,887.3 1133.5,876.8 1132.0,870.0 C1130.5,863.2 1128.7,861.7 1128.0,860.0" fill="none" stroke="#f4f4f4" stroke-width="4.5" stroke-linecap="round" stroke-linejoin="round"/>
<path d="M1005.0,957.0 C1013.5,955.5 1044.0,950.3 1056.0,948.0 C1068.0,945.7 1064.2,945.2 1077.0,943.0 C1089.8,940.8 1118.7,939.2 1133.0,935.0 C1147.3,930.8 1157.3,925.8 1163.0,918.0 C1168.7,910.2 1169.2,896.5 1167.0,888.0 C1164.8,879.5 1155.7,872.0 1150.0,867.0 C1144.3,862.0 1135.8,859.5 1133.0,858.0" fill="none" stroke="#000" stroke-width="4.6" stroke-linecap="round" stroke-linejoin="round"/>
<path d="M1080.0,744.0 C1084.8,743.2 1099.3,738.0 1109.0,739.0 C1118.7,740.0 1128.5,742.3 1138.0,750.0 C1147.5,757.7 1157.5,778.3 1166.0,785.0 C1174.5,791.7 1182.2,791.0 1189.0,790.0 C1195.8,789.0 1202.7,786.2 1207.0,779.0 C1211.3,771.8 1212.7,759.5 1215.0,747.0 C1217.3,734.5 1218.5,718.3 1221.0,704.0 C1223.5,689.7 1227.2,672.0 1230.0,661.0 C1232.8,650.0 1236.7,641.8 1238.0,638.0" fill="none" stroke="#000" stroke-width="4.6" stroke-linecap="round" stroke-linejoin="round"/>
<path d="M1160.0,770.0 C1165.0,774.3 1180.8,794.0 1190.0,796.0 C1199.2,798.0 1209.0,791.3 1215.0,782.0 C1221.0,772.7 1223.2,755.3 1226.0,740.0 C1228.8,724.7 1231.0,698.3 1232.0,690.0" fill="none" stroke="#000" stroke-width="4.2" stroke-linecap="round" stroke-linejoin="round"/>
<path d="M1230.0,652.0 C1235.7,643.3 1253.3,645.3 1262.0,648.0 C1270.7,650.7 1278.0,656.3 1282.0,668.0 C1286.0,679.7 1287.3,705.3 1286.0,718.0 C1284.7,730.7 1281.7,739.3 1274.0,744.0 C1266.3,748.7 1247.7,753.3 1240.0,746.0 C1232.3,738.7 1229.7,715.7 1228.0,700.0 C1226.3,684.3 1224.3,660.7 1230.0,652.0 Z" fill="#e4e4e4" stroke="#b0b0b0" stroke-width="1" stroke-linejoin="round"/>
<path d="M1198.0,736.0 C1203.3,733.5 1221.8,726.3 1230.0,721.0 C1238.2,715.7 1243.2,710.2 1247.0,704.0 C1250.8,697.8 1254.0,689.8 1253.0,684.0 C1252.0,678.2 1243.0,671.5 1241.0,669.0" fill="none" stroke="#333" stroke-width="4.5" stroke-linecap="round" stroke-linejoin="round"/>
<path d="M1247.0,692.0 C1249.8,695.0 1258.3,705.0 1264.0,710.0 C1269.7,715.0 1278.2,718.2 1281.0,722.0 C1283.8,725.8 1283.3,730.2 1281.0,733.0 C1278.7,735.8 1269.3,738.0 1267.0,739.0" fill="none" stroke="#999" stroke-width="7.4" stroke-linecap="round" stroke-linejoin="round"/>
<path d="M1247.0,692.0 C1249.8,695.0 1258.3,705.0 1264.0,710.0 C1269.7,715.0 1278.2,718.2 1281.0,722.0 C1283.8,725.8 1283.3,730.2 1281.0,733.0 C1278.7,735.8 1269.3,738.0 1267.0,739.0" fill="none" stroke="#dcdcdc" stroke-width="5" stroke-linecap="round" stroke-linejoin="round"/>
<path d="M1219.0,645.0 C1222.0,636.3 1235.3,636.7 1240.0,636.0 C1244.7,635.3 1247.0,633.0 1247.0,641.0 C1247.0,649.0 1244.2,676.2 1240.0,684.0 C1235.8,691.8 1225.5,694.5 1222.0,688.0 C1218.5,681.5 1216.0,653.7 1219.0,645.0 Z" fill="#000" stroke="none" stroke-width="1" stroke-linejoin="round"/>
<rect x="1224" y="662" width="9" height="18" fill="#1b1bd0"/>
<path d="M1252.0,662.0 C1253.7,660.0 1256.5,652.7 1262.0,650.0 C1267.5,647.3 1280.5,642.3 1285.0,646.0 C1289.5,649.7 1291.2,667.0 1289.0,672.0 C1286.8,677.0 1276.5,676.7 1272.0,676.0 C1267.5,675.3 1263.7,669.3 1262.0,668.0" fill="none" stroke="#999" stroke-width="6.4" stroke-linecap="round" stroke-linejoin="round"/>
<path d="M1252.0,662.0 C1253.7,660.0 1256.5,652.7 1262.0,650.0 C1267.5,647.3 1280.5,642.3 1285.0,646.0 C1289.5,649.7 1291.2,667.0 1289.0,672.0 C1286.8,677.0 1276.5,676.7 1272.0,676.0 C1267.5,675.3 1263.7,669.3 1262.0,668.0" fill="none" stroke="#f4f4f4" stroke-width="4" stroke-linecap="round" stroke-linejoin="round"/>
<rect x="1264" y="664" width="7" height="6" fill="#7777ee"/>
<path d="M1100.0,762.0 L1131.0,767.0" fill="none" stroke="#e8892c" stroke-width="6.5" stroke-linecap="round" stroke-linejoin="round"/>
<path d="M1131.0,767.0 C1133.5,763.5 1139.7,747.8 1146.0,746.0 C1152.3,744.2 1162.5,757.5 1169.0,756.0 C1175.5,754.5 1182.3,740.2 1185.0,737.0" fill="none" stroke="#e8892c" stroke-width="6.5" stroke-linecap="round" stroke-linejoin="round"/>
<path d="M1163.0,756.0 L1165.0,777.0" fill="none" stroke="#e8892c" stroke-width="6.5" stroke-linecap="round" stroke-linejoin="round"/>
<path d="M1131.0,767.0 C1136.3,769.3 1154.7,776.2 1163.0,781.0 C1171.3,785.8 1173.7,790.3 1181.0,796.0 C1188.3,801.7 1200.0,809.0 1207.0,815.0 C1214.0,821.0 1223.5,825.0 1223.0,832.0 C1222.5,839.0 1207.2,852.8 1204.0,857.0" fill="none" stroke="#e8892c" stroke-width="6.5" stroke-linecap="round" stroke-linejoin="round"/>
<path d="M1185.0,798.0 C1187.8,794.5 1197.0,785.0 1202.0,777.0 C1207.0,769.0 1211.5,755.2 1215.0,750.0 C1218.5,744.8 1218.0,747.3 1223.0,746.0 C1228.0,744.7 1238.3,743.0 1245.0,742.0 C1251.7,741.0 1260.0,740.3 1263.0,740.0" fill="none" stroke="#e8892c" stroke-width="6.5" stroke-linecap="round" stroke-linejoin="round"/>
<path d="M1223.0,746.0 C1230.3,750.2 1259.7,762.0 1267.0,771.0 C1274.3,780.0 1267.0,795.2 1267.0,800.0" fill="none" stroke="#e8892c" stroke-width="6.5" stroke-linecap="round" stroke-linejoin="round"/>
<path d="M1267.0,800.0 L1277.0,802.0" fill="none" stroke="#d8383a" stroke-width="6.5" stroke-linecap="round" stroke-linejoin="round"/>
<path d="M1267.0,800.0 L1254.0,823.0" fill="none" stroke="#d8383a" stroke-width="6.5" stroke-linecap="round" stroke-linejoin="round"/>
<path d="M1204.0,857.0 L1215.0,869.0" fill="none" stroke="#e8892c" stroke-width="6.5" stroke-linecap="round" stroke-linejoin="round"/>
<path d="M1215.0,869.0 L1234.0,880.0" fill="none" stroke="#2430d0" stroke-width="6.5" stroke-linecap="round" stroke-linejoin="round"/>
<path d="M1234.0,880.0 L1250.0,884.0" fill="none" stroke="#2430d0" stroke-width="6.5" stroke-linecap="round" stroke-linejoin="round"/>
<path d="M1234.0,880.0 L1246.0,898.0" fill="none" stroke="#2430d0" stroke-width="6.5" stroke-linecap="round" stroke-linejoin="round"/>
<text x="921.5" y="614.5" font-size="26" fill="#fff"><tspan font-family="Liberation Serif, serif" font-size="27">&#946;</tspan><tspan font-weight="bold">4</tspan></text>
<text x="950.5" y="698.5" font-size="26" fill="#fff"><tspan font-family="Liberation Serif, serif" font-size="27">&#946;</tspan><tspan font-weight="bold">5</tspan></text>
<text x="961.0" y="771.5" font-size="26" fill="#fff"><tspan font-family="Liberation Serif, serif" font-size="27">&#946;</tspan><tspan font-weight="bold">3</tspan></text>
<text x="1045.0" y="778.0" font-size="26" fill="#000"><tspan font-family="Liberation Serif, serif" font-size="27">&#946;</tspan><tspan font-weight="bold">3</tspan></text>
<text x="984.0" y="859.5" font-size="26" fill="#000"><tspan font-family="Liberation Serif, serif" font-size="27">&#946;</tspan><tspan font-weight="bold">2</tspan></text>
<text x="956.0" y="953.5" font-size="26" fill="#fff"><tspan font-family="Liberation Serif, serif" font-size="27">&#946;</tspan><tspan font-weight="bold">1</tspan></text>
<text x="1139.0" y="697.5" font-size="26" fill="#fff"><tspan font-family="Liberation Serif, serif" font-size="27">&#945;</tspan><tspan font-weight="bold">C</tspan></text>
<text x="1222.5" y="621.8" font-size="27" font-weight="bold" fill="#000" text-anchor="start" >P753</text>
<text x="1346" y="634.8" font-size="27" font-weight="bold" fill="#000">1 turn of <tspan font-family="Liberation Serif, serif" font-weight="normal" font-size="28">&#945;</tspan>C</text>
<text x="1359.5" y="660.8" font-size="27" font-weight="bold" fill="#000" text-anchor="start" >missing in</text>
<text x="1350.5" y="688.2" font-size="27" font-weight="bold" fill="#ef8322" text-anchor="start" ><tspan font-weight="normal">&#916;</tspan>L747-E749</text>
<text x="1287" y="779.5" font-size="27" fill="#000"><tspan font-family="Liberation Serif, serif" font-size="28">&#946;</tspan><tspan font-weight="bold">3/</tspan><tspan font-family="Liberation Serif, serif" font-size="28">&#945;</tspan><tspan font-weight="bold">C loop</tspan></text>
<text x="1085.5" y="813.4" font-size="27" font-weight="bold" fill="#ef8322" text-anchor="start" >L747*</text>
<text x="1277.0" y="830.2" font-size="27" font-weight="bold" fill="#ef8322" text-anchor="start" >E749*</text>
<text x="1224.0" y="866.6" font-size="27" font-weight="bold" fill="#ef8322" text-anchor="start" >R748*</text>
<text x="1128.5" y="981.5" font-size="27" font-weight="bold" fill="#ef8322" text-anchor="start" >*deleted in <tspan font-weight="normal">&#916;</tspan>L747-E749</text>
<line x1="1349" y1="656.5" x2="1288.3" y2="687.8" stroke="#000" stroke-width="3"/>
<polyline points="1295.8,677.2 1287.0,688.5 1301.3,687.9" fill="none" stroke="#000" stroke-width="3.3" stroke-linejoin="miter" stroke-miterlimit="10"/>
<line x1="1279" y1="761.6" x2="1244.9" y2="718.2" stroke="#000" stroke-width="3"/>
<polyline points="1256.7,723.5 1244.0,717.0 1247.3,730.9" fill="none" stroke="#000" stroke-width="3.3" stroke-linejoin="miter" stroke-miterlimit="10"/>
<line x1="1325" y1="755.8" x2="1291.3" y2="737.7" stroke="#000" stroke-width="3"/>
<polyline points="1304.3,737.9 1290.0,737.0 1298.6,748.4" fill="none" stroke="#000" stroke-width="3.3" stroke-linejoin="miter" stroke-miterlimit="10"/>
</g>
<g id="pc">
<path d="M991.0,113.0 C993.5,114.0 1001.8,116.5 1006.0,119.0 C1010.2,121.5 1013.2,122.8 1016.0,128.0 C1018.8,133.2 1022.2,144.0 1023.0,150.0 C1023.8,156.0 1023.0,158.3 1021.0,164.0 C1019.0,169.7 1013.8,178.3 1011.0,184.0 C1008.2,189.7 1006.2,194.8 1004.0,198.0 C1001.8,201.2 999.3,199.8 998.0,203.0 C996.7,206.2 996.0,211.5 996.0,217.0 C996.0,222.5 995.5,231.5 998.0,236.0 C1000.5,240.5 1006.8,242.0 1011.0,244.0 C1015.2,246.0 1020.0,245.3 1023.0,248.0 C1026.0,250.7 1028.5,254.7 1029.0,260.0 C1029.5,265.3 1027.8,275.2 1026.0,280.0 C1024.2,284.8 1017.7,284.7 1018.0,289.0 C1018.3,293.3 1025.5,299.2 1028.0,306.0 C1030.5,312.8 1033.3,322.0 1033.0,330.0 C1032.7,338.0 1027.8,347.2 1026.0,354.0 C1024.2,360.8 1022.7,365.7 1022.0,371.0 C1021.3,376.3 1022.0,383.5 1022.0,386.0" fill="none" stroke="#000" stroke-width="4" stroke-linecap="round" stroke-linejoin="round"/>
<path d="M1002.0,136.0 C1004.7,135.5 1012.5,132.3 1018.0,133.0 C1023.5,133.7 1030.5,136.3 1035.0,140.0 C1039.5,143.7 1041.0,149.7 1045.0,155.0 C1049.0,160.3 1053.8,167.7 1059.0,172.0 C1064.2,176.3 1070.3,178.7 1076.0,181.0 C1081.7,183.3 1087.8,183.5 1093.0,186.0 C1098.2,188.5 1103.8,192.3 1107.0,196.0 C1110.2,199.7 1112.3,205.7 1112.0,208.0 C1111.7,210.3 1107.3,211.3 1105.0,210.0 C1102.7,208.7 1098.8,203.2 1098.0,200.0 C1097.2,196.8 1099.7,192.5 1100.0,191.0" fill="none" stroke="#555" stroke-width="3.5" stroke-linecap="round" stroke-linejoin="round"/>
<path d="M1054.0,95.0 C1055.7,94.2 1059.5,91.2 1064.0,90.0 C1068.5,88.8 1077.3,90.0 1081.0,88.0 C1084.7,86.0 1084.8,82.0 1086.0,78.0 C1087.2,74.0 1084.8,68.0 1088.0,64.0 C1091.2,60.0 1101.0,54.0 1105.0,54.0 C1109.0,54.0 1110.5,59.2 1112.0,64.0 C1113.5,68.8 1114.7,78.3 1114.0,83.0 C1113.3,87.7 1109.0,90.5 1108.0,92.0" fill="none" stroke="#777" stroke-width="6.4" stroke-linecap="round" stroke-linejoin="round"/>
<path d="M1054.0,95.0 C1055.7,94.2 1059.5,91.2 1064.0,90.0 C1068.5,88.8 1077.3,90.0 1081.0,88.0 C1084.7,86.0 1084.8,82.0 1086.0,78.0 C1087.2,74.0 1084.8,68.0 1088.0,64.0 C1091.2,60.0 1101.0,54.0 1105.0,54.0 C1109.0,54.0 1110.5,59.2 1112.0,64.0 C1113.5,68.8 1114.7,78.3 1114.0,83.0 C1113.3,87.7 1109.0,90.5 1108.0,92.0" fill="none" stroke="#f0f0f0" stroke-width="4" stroke-linecap="round" stroke-linejoin="round"/>
<path d="M1057.0,97.0 C1057.8,99.0 1059.2,103.8 1062.0,109.0 C1064.8,114.2 1069.7,122.8 1074.0,128.0 C1078.3,133.2 1085.7,138.0 1088.0,140.0" fill="none" stroke="#777" stroke-width="6.4" stroke-linecap="round" stroke-linejoin="round"/>
<path d="M1057.0,97.0 C1057.8,99.0 1059.2,103.8 1062.0,109.0 C1064.8,114.2 1069.7,122.8 1074.0,128.0 C1078.3,133.2 1085.7,138.0 1088.0,140.0" fill="none" stroke="#f0f0f0" stroke-width="4" stroke-linecap="round" stroke-linejoin="round"/>
<path d="M1090.0,140.0 L1093.0,154.0 L1124.0,160.0 L1134.0,155.0 L1124.0,143.0 Z" fill="#9a9a9a" stroke="#555" stroke-width="1" stroke-linejoin="round"/>
<path d="M1127.0,74.0 C1126.8,70.8 1126.2,60.7 1126.0,55.0 C1125.8,49.3 1125.3,43.0 1126.0,40.0 C1126.7,37.0 1128.2,37.7 1130.0,37.0 C1131.8,36.3 1135.8,36.2 1137.0,36.0" fill="none" stroke="#000" stroke-width="4" stroke-linecap="round" stroke-linejoin="round"/>
<path d="M1131.0,74.0 C1130.8,70.3 1130.0,57.7 1130.0,52.0 C1130.0,46.3 1129.8,42.3 1131.0,40.0 C1132.2,37.7 1136.0,38.3 1137.0,38.0" fill="none" stroke="#777" stroke-width="5" stroke-linecap="round" stroke-linejoin="round"/>
<path d="M1131.0,74.0 C1130.8,70.3 1130.0,57.7 1130.0,52.0 C1130.0,46.3 1129.8,42.3 1131.0,40.0 C1132.2,37.7 1136.0,38.3 1137.0,38.0" fill="none" stroke="#eee" stroke-width="3" stroke-linecap="round" stroke-linejoin="round"/>
<path d="M1136.0,33.0 C1139.3,32.7 1153.0,38.2 1160.0,40.0 C1167.0,41.8 1174.0,42.3 1178.0,44.0 C1182.0,45.7 1183.3,47.3 1184.0,50.0 C1184.7,52.7 1184.2,58.0 1182.0,60.0 C1179.8,62.0 1174.7,63.3 1171.0,62.0 C1167.3,60.7 1165.2,55.3 1160.0,52.0 C1154.8,48.7 1144.0,45.2 1140.0,42.0 C1136.0,38.8 1132.7,33.3 1136.0,33.0 Z" fill="#e6e6e6" stroke="#555" stroke-width="1.2" stroke-linejoin="round"/>
<path d="M1170.0,62.0 C1170.5,64.0 1172.0,70.5 1173.0,74.0 C1174.0,77.5 1174.0,81.0 1176.0,83.0 C1178.0,85.0 1181.0,85.3 1185.0,86.0 C1189.0,86.7 1197.5,86.8 1200.0,87.0" fill="none" stroke="#666" stroke-width="6.4" stroke-linecap="round" stroke-linejoin="round"/>
<path d="M1170.0,62.0 C1170.5,64.0 1172.0,70.5 1173.0,74.0 C1174.0,77.5 1174.0,81.0 1176.0,83.0 C1178.0,85.0 1181.0,85.3 1185.0,86.0 C1189.0,86.7 1197.5,86.8 1200.0,87.0" fill="none" stroke="#eee" stroke-width="4" stroke-linecap="round" stroke-linejoin="round"/>
<path d="M1166.0,58.0 C1166.7,60.3 1168.5,67.7 1170.0,72.0 C1171.5,76.3 1172.0,81.3 1175.0,84.0 C1178.0,86.7 1183.7,87.3 1188.0,88.0 C1192.3,88.7 1198.8,88.0 1201.0,88.0" fill="none" stroke="#000" stroke-width="3.5" stroke-linecap="round" stroke-linejoin="round"/>
<path d="M1194.0,91.0 L1215.0,85.0 L1240.0,98.0 L1252.0,112.0 L1250.0,148.0 L1220.0,150.0 L1196.0,140.0 Z" fill="#a8a8a8" stroke="#666" stroke-width="1" stroke-linejoin="round"/>
<path d="M1237.0,119.0 L1253.0,112.0 L1253.0,131.0 Z" fill="#e8892c" stroke="none" stroke-width="1" stroke-linejoin="round"/>
<path d="M1192.0,124.0 L1200.0,100.0 L1207.0,83.0 L1214.0,90.0 L1206.0,112.0 L1198.0,126.0 Z" fill="#333" stroke="none" stroke-width="1" stroke-linejoin="round"/>
<path d="M1191.0,125.0 C1192.8,123.2 1198.3,117.3 1202.0,114.0 C1205.7,110.7 1209.2,107.5 1213.0,105.0 C1216.8,102.5 1220.7,101.5 1225.0,99.0 C1229.3,96.5 1235.2,93.8 1239.0,90.0 C1242.8,86.2 1246.0,81.7 1248.0,76.0 C1250.0,70.3 1250.7,62.5 1251.0,56.0 C1251.3,49.5 1251.2,40.7 1250.0,37.0 C1248.8,33.3 1246.2,34.0 1244.0,34.0 C1241.8,34.0 1239.8,34.7 1237.0,37.0 C1234.2,39.3 1227.5,45.3 1227.0,48.0 C1226.5,50.7 1232.3,51.0 1234.0,53.0 C1235.7,55.0 1237.2,57.5 1237.0,60.0 C1236.8,62.5 1235.7,65.7 1233.0,68.0 C1230.3,70.3 1225.2,71.7 1221.0,74.0 C1216.8,76.3 1210.2,80.7 1208.0,82.0" fill="none" stroke="#000" stroke-width="4" stroke-linecap="round" stroke-linejoin="round"/>
<path d="M1122.0,74.0 L1131.0,74.0 L1120.0,94.0 L1118.0,112.0 L1124.0,128.0 L1140.0,142.0 L1166.0,150.0 L1178.0,160.0 L1176.0,172.0 L1150.0,166.0 L1130.0,152.0 L1116.0,134.0 L1109.0,112.0 L1111.0,92.0 Z" fill="#000" stroke="none" stroke-width="1" stroke-linejoin="round"/>
<path d="M1144.0,145.0 L1176.0,150.0 L1178.0,172.0 L1160.0,172.0 L1146.0,160.0 Z" fill="#000" stroke="none" stroke-width="1" stroke-linejoin="round"/>
<path d="M1131,75 C1122,88 1118,104 1122,118 C1128,132 1145,138 1170,140 L1240,144 L1241,151 L1170,150 C1140,148 1120,140 1114,122 C1110,104 1116,86 1127,74 Z" fill="#e2e2e2" stroke="#555" stroke-width="1.1"/>
<path d="M1160.0,141.0 L1180.0,130.0 L1194.0,120.0 L1213.0,110.0 L1228.0,107.0 L1251.0,110.0 L1251.0,114.0 L1228.0,113.0 L1213.0,116.0 L1196.0,126.0 L1178.0,140.0 L1168.0,146.0 Z" fill="#000" stroke="none" stroke-width="1" stroke-linejoin="round"/>
<text x="1214.5" y="140" font-size="21" fill="#f4f4f4"><tspan font-family="Liberation Serif, serif" font-size="23">&#946;</tspan><tspan font-weight="bold">3</tspan></text>
<path d="M1205.0,137.0 C1207.8,136.7 1216.8,134.2 1222.0,135.0 C1227.2,135.8 1233.7,140.8 1236.0,142.0" fill="none" stroke="#000" stroke-width="3" stroke-linecap="round" stroke-linejoin="round"/>
<path d="M1223.8,228.4 L1222.5,228.5 L1221.0,228.0 L1219.4,227.0 L1217.8,225.5 L1216.1,223.4 L1214.6,220.9 L1213.2,217.9 L1212.0,214.7 L1211.1,211.1 L1210.3,207.4 L1209.9,203.6 L1209.9,199.7 L1210.2,196.0 L1210.8,192.4 L1211.8,189.0 L1213.2,185.9 L1214.9,183.3 L1216.9,181.0 L1219.2,179.3 L1221.7,178.1 L1235.8,172.9 L1233.3,174.1 L1231.0,175.9 L1229.0,178.1 L1227.3,180.8 L1225.9,183.8 L1224.9,187.2 L1224.3,190.8 L1224.0,194.6 L1224.0,198.4 L1224.4,202.2 L1225.1,206.0 L1226.1,209.5 L1227.3,212.8 L1228.7,215.7 L1230.2,218.2 L1231.8,220.3 L1233.5,221.9 L1235.0,222.9 L1236.5,223.4 L1237.9,223.3Z" fill="#8a8a8a" stroke="#555" stroke-width="1.0" stroke-linejoin="round"/>
<path d="M1250.9,218.2 L1249.4,217.9 L1247.9,217.0 L1246.2,215.5 L1244.6,213.5 L1243.1,211.1 L1241.7,208.2 L1240.4,205.0 L1239.4,201.5 L1238.6,197.8 L1238.2,194.0 L1238.0,190.2 L1238.3,186.4 L1238.8,182.7 L1239.8,179.3 L1241.1,176.2 L1242.7,173.4 L1244.6,171.1 L1246.9,169.3 L1249.4,168.0 L1252.1,167.2 L1266.2,162.0 L1263.5,162.8 L1261.0,164.1 L1258.7,166.0 L1256.8,168.3 L1255.1,171.0 L1253.8,174.2 L1252.9,177.6 L1252.3,181.2 L1252.1,185.0 L1252.3,188.9 L1252.7,192.7 L1253.5,196.4 L1254.5,199.9 L1255.8,203.1 L1257.2,205.9 L1258.7,208.4 L1260.3,210.3 L1262.0,211.8 L1263.5,212.7 L1265.0,213.1Z" fill="#8a8a8a" stroke="#555" stroke-width="1.0" stroke-linejoin="round"/>
<path d="M1279.4,207.9 L1277.9,207.7 L1276.4,206.9 L1274.7,205.5 L1273.1,203.7 L1271.6,201.3 L1270.1,198.5 L1268.8,195.4 L1267.8,191.9 L1266.9,188.3 L1266.4,184.5 L1266.2,180.6 L1266.4,176.8 L1266.9,173.2 L1267.7,169.7 L1268.9,166.5 L1270.5,163.7 L1272.4,161.2 L1274.6,159.3 L1277.0,157.9 L1279.7,157.0 L1293.8,151.8 L1291.1,152.7 L1288.7,154.2 L1286.5,156.1 L1284.6,158.5 L1283.0,161.3 L1281.8,164.5 L1280.9,168.0 L1280.4,171.7 L1280.3,175.5 L1280.5,179.3 L1281.0,183.1 L1281.8,186.8 L1282.9,190.2 L1284.2,193.4 L1285.7,196.2 L1287.2,198.5 L1288.8,200.4 L1290.4,201.7 L1292.0,202.5 L1293.5,202.8Z" fill="#8a8a8a" stroke="#555" stroke-width="1.0" stroke-linejoin="round"/>
<path d="M1225.8,214.4 L1226.5,217.5 L1226.9,220.3 L1226.9,222.8 L1226.5,224.9 L1225.9,226.6 L1225.0,227.8 L1223.8,228.4 L1237.9,223.3 L1239.1,222.6 L1240.0,221.4 L1240.6,219.8 L1241.0,217.7 L1241.0,215.2 L1240.6,212.3 L1239.9,209.2Z" fill="#c8c8c8" stroke="#555" stroke-width="1.0" stroke-linejoin="round"/>
<path d="M1221.7,178.1 L1224.5,177.4 L1227.4,177.3 L1230.3,177.8 L1233.4,178.8 L1236.4,180.3 L1239.3,182.2 L1242.1,184.6 L1244.7,187.4 L1247.1,190.4 L1249.3,193.6 L1251.1,196.9 L1252.6,200.2 L1253.8,203.5 L1254.6,206.6 L1255.0,209.5 L1255.1,212.0 L1254.8,214.2 L1254.2,216.0 L1253.4,217.3 L1252.2,218.0 L1250.9,218.2 L1265.0,213.1 L1266.3,212.9 L1267.4,212.1 L1268.3,210.8 L1268.9,209.1 L1269.2,206.9 L1269.1,204.3 L1268.7,201.4 L1267.9,198.3 L1266.7,195.0 L1265.2,191.7 L1263.4,188.4 L1261.2,185.2 L1258.8,182.2 L1256.2,179.5 L1253.4,177.1 L1250.5,175.1 L1247.5,173.6 L1244.4,172.6 L1241.4,172.2 L1238.6,172.3 L1235.8,172.9Z" fill="#c8c8c8" stroke="#555" stroke-width="1.0" stroke-linejoin="round"/>
<path d="M1252.1,167.2 L1254.9,167.0 L1257.9,167.3 L1260.9,168.2 L1264.0,169.6 L1266.9,171.5 L1269.7,173.8 L1272.4,176.5 L1274.9,179.4 L1277.1,182.6 L1279.0,185.9 L1280.5,189.2 L1281.7,192.5 L1282.6,195.7 L1283.1,198.6 L1283.3,201.2 L1283.1,203.5 L1282.5,205.4 L1281.7,206.8 L1280.7,207.6 L1279.4,207.9 L1293.5,202.8 L1294.7,202.5 L1295.8,201.6 L1296.6,200.2 L1297.1,198.4 L1297.3,196.1 L1297.2,193.5 L1296.7,190.5 L1295.8,187.4 L1294.6,184.1 L1293.0,180.7 L1291.1,177.4 L1289.0,174.3 L1286.5,171.3 L1283.8,168.7 L1281.0,166.4 L1278.0,164.5 L1275.0,163.1 L1272.0,162.2 L1269.0,161.8 L1266.2,162.0Z" fill="#c8c8c8" stroke="#555" stroke-width="1.0" stroke-linejoin="round"/>
<path d="M1279.7,157.0 L1282.5,156.7 L1285.5,156.9 L1288.5,157.7 L1291.5,159.0 L1294.5,160.8 L1297.4,163.0 L1300.1,165.6 L1302.6,168.5 L1304.8,171.6 L1318.9,166.5 L1316.7,163.4 L1314.2,160.5 L1311.5,157.9 L1308.6,155.6 L1305.6,153.9 L1302.6,152.5 L1299.6,151.8 L1296.6,151.5 L1293.8,151.8Z" fill="#c8c8c8" stroke="#555" stroke-width="1.0" stroke-linejoin="round"/>
<path d="M1270.4,186.1 L1268.8,186.5 L1267.0,186.4 L1265.0,185.6 L1262.9,184.2 L1260.7,182.2 L1258.6,179.8 L1256.5,176.8 L1254.5,173.5 L1252.8,169.8 L1251.3,165.8 L1250.1,161.7 L1249.3,157.4 L1248.9,153.3 L1248.9,149.2 L1249.4,145.3 L1250.3,141.7 L1251.6,138.4 L1253.4,135.6 L1255.5,133.3 L1258.0,131.5 L1260.9,130.3 L1275.9,122.3 L1273.0,123.5 L1270.5,125.3 L1268.4,127.6 L1266.6,130.4 L1265.3,133.7 L1264.4,137.3 L1263.9,141.2 L1263.9,145.3 L1264.3,149.4 L1265.1,153.7 L1266.3,157.8 L1267.8,161.8 L1269.5,165.5 L1271.5,168.8 L1273.6,171.8 L1275.7,174.2 L1277.9,176.2 L1280.0,177.6 L1282.0,178.4 L1283.8,178.5 L1285.4,178.1Z" fill="#a6a6a6" stroke="#333" stroke-width="1.0" stroke-linejoin="round"/>
<path d="M1295.8,172.4 L1294.0,172.4 L1292.1,171.7 L1290.0,170.5 L1287.8,168.8 L1285.7,166.4 L1283.5,163.6 L1281.5,160.4 L1279.7,156.8 L1278.2,152.9 L1276.9,148.8 L1276.0,144.6 L1275.5,140.4 L1275.4,136.2 L1275.7,132.3 L1276.4,128.6 L1277.7,125.2 L1279.3,122.3 L1281.3,119.8 L1283.7,117.9 L1286.5,116.5 L1301.5,108.5 L1298.7,109.9 L1296.3,111.8 L1294.3,114.3 L1292.7,117.2 L1291.4,120.6 L1290.7,124.3 L1290.4,128.2 L1290.5,132.4 L1291.0,136.6 L1291.9,140.8 L1293.2,144.9 L1294.7,148.8 L1296.5,152.4 L1298.5,155.6 L1300.7,158.4 L1302.8,160.8 L1305.0,162.5 L1307.1,163.7 L1309.0,164.4 L1310.8,164.4Z" fill="#a6a6a6" stroke="#333" stroke-width="1.0" stroke-linejoin="round"/>
<path d="M1322.7,158.1 L1321.1,158.3 L1319.2,157.9 L1317.1,156.8 L1315.0,155.2 L1312.8,153.1 L1310.6,150.4 L1308.6,147.2 L1306.7,143.7 L1305.1,139.9 L1303.7,135.9 L1302.7,131.7 L1302.0,127.5 L1301.8,123.3 L1302.0,119.3 L1302.6,115.5 L1303.7,112.0 L1305.2,109.0 L1307.2,106.4 L1309.5,104.3 L1312.1,102.7 L1327.1,94.7 L1324.5,96.3 L1322.2,98.4 L1320.2,101.0 L1318.7,104.0 L1317.6,107.5 L1317.0,111.3 L1316.8,115.3 L1317.0,119.5 L1317.7,123.7 L1318.7,127.9 L1320.1,131.9 L1321.7,135.7 L1323.6,139.2 L1325.6,142.4 L1327.8,145.1 L1330.0,147.2 L1332.1,148.8 L1334.2,149.9 L1336.1,150.3 L1337.7,150.1Z" fill="#a6a6a6" stroke="#333" stroke-width="1.0" stroke-linejoin="round"/>
<path d="M1349.6,143.9 L1348.0,144.2 L1346.2,143.9 L1344.2,143.1 L1342.1,141.6 L1339.9,139.6 L1337.7,137.1 L1335.6,134.1 L1333.7,130.7 L1332.0,126.9 L1330.5,123.0 L1329.4,118.8 L1344.4,110.8 L1345.5,115.0 L1347.0,118.9 L1348.7,122.7 L1350.6,126.1 L1352.7,129.1 L1354.9,131.6 L1357.1,133.6 L1359.2,135.1 L1361.2,135.9 L1363.0,136.2 L1364.6,135.9Z" fill="#a6a6a6" stroke="#333" stroke-width="1.0" stroke-linejoin="round"/>
<path d="M1272.7,176.2 L1273.1,179.1 L1273.0,181.6 L1272.5,183.6 L1271.6,185.1 L1270.4,186.1 L1285.4,178.1 L1286.6,177.1 L1287.5,175.6 L1288.0,173.6 L1288.1,171.1 L1287.7,168.2Z" fill="#dedede" stroke="#333" stroke-width="1.0" stroke-linejoin="round"/>
<path d="M1260.9,130.3 L1263.9,129.7 L1267.2,129.7 L1270.6,130.3 L1274.1,131.5 L1277.6,133.2 L1281.0,135.4 L1284.3,138.0 L1287.4,140.9 L1290.3,144.1 L1292.8,147.6 L1295.0,151.1 L1296.7,154.6 L1298.1,158.0 L1299.0,161.2 L1299.5,164.2 L1299.5,166.8 L1299.2,168.9 L1298.4,170.6 L1297.2,171.8 L1295.8,172.4 L1310.8,164.4 L1312.2,163.8 L1313.4,162.6 L1314.2,160.9 L1314.5,158.8 L1314.5,156.2 L1314.0,153.2 L1313.1,150.0 L1311.7,146.6 L1310.0,143.1 L1307.8,139.6 L1305.3,136.1 L1302.4,132.9 L1299.3,130.0 L1296.0,127.4 L1292.6,125.2 L1289.1,123.5 L1285.6,122.3 L1282.2,121.7 L1278.9,121.7 L1275.9,122.3Z" fill="#dedede" stroke="#333" stroke-width="1.0" stroke-linejoin="round"/>
<path d="M1286.5,116.5 L1289.5,115.7 L1292.7,115.5 L1296.1,116.0 L1299.6,117.0 L1303.1,118.5 L1306.5,120.5 L1309.9,123.0 L1313.0,125.9 L1315.9,129.1 L1318.6,132.4 L1320.8,135.9 L1322.7,139.4 L1324.2,142.9 L1325.3,146.2 L1325.9,149.2 L1326.1,151.9 L1325.8,154.2 L1325.1,156.1 L1324.1,157.4 L1322.7,158.1 L1337.7,150.1 L1339.1,149.4 L1340.1,148.1 L1340.8,146.2 L1341.1,143.9 L1340.9,141.2 L1340.3,138.2 L1339.2,134.9 L1337.7,131.4 L1335.8,127.9 L1333.6,124.4 L1330.9,121.1 L1328.0,117.9 L1324.9,115.0 L1321.5,112.5 L1318.1,110.5 L1314.6,109.0 L1311.1,108.0 L1307.7,107.5 L1304.5,107.7 L1301.5,108.5Z" fill="#dedede" stroke="#333" stroke-width="1.0" stroke-linejoin="round"/>
<path d="M1312.1,102.7 L1315.0,101.8 L1318.2,101.4 L1321.6,101.7 L1325.0,102.5 L1328.5,103.9 L1332.0,105.8 L1335.4,108.1 L1338.6,110.9 L1341.6,114.0 L1344.3,117.3 L1346.7,120.8 L1348.7,124.3 L1350.3,127.8 L1351.5,131.1 L1352.2,134.2 L1352.5,137.0 L1352.4,139.5 L1351.8,141.5 L1350.9,142.9 L1349.6,143.9 L1364.6,135.9 L1365.9,134.9 L1366.8,133.5 L1367.4,131.5 L1367.5,129.0 L1367.2,126.2 L1366.5,123.1 L1365.3,119.8 L1363.7,116.3 L1361.7,112.8 L1359.3,109.3 L1356.6,106.0 L1353.6,102.9 L1350.4,100.1 L1347.0,97.8 L1343.5,95.9 L1340.0,94.5 L1336.6,93.7 L1333.2,93.4 L1330.0,93.8 L1327.1,94.7Z" fill="#dedede" stroke="#333" stroke-width="1.0" stroke-linejoin="round"/>
<path d="M1262.0,142.0 C1265.0,135.0 1274.3,121.7 1280.0,116.0 C1285.7,110.3 1292.7,105.7 1296.0,108.0 C1299.3,110.3 1301.0,123.0 1300.0,130.0 C1299.0,137.0 1294.7,145.0 1290.0,150.0 C1285.3,155.0 1276.7,158.7 1272.0,160.0 C1267.3,161.3 1263.7,161.0 1262.0,158.0 C1260.3,155.0 1259.0,149.0 1262.0,142.0 Z" fill="#000" stroke="none" stroke-width="1" stroke-linejoin="round"/>
<path d="M1262.0,110.0 L1282.0,100.0 L1292.0,112.0 L1275.0,125.0 Z" fill="#000" stroke="none" stroke-width="1" stroke-linejoin="round"/>
<path d="M1092.0,225.0 C1092.0,227.5 1090.7,235.8 1092.0,240.0 C1093.3,244.2 1097.0,247.7 1100.0,250.0 C1103.0,252.3 1108.3,253.3 1110.0,254.0" fill="none" stroke="#777" stroke-width="5.9" stroke-linecap="round" stroke-linejoin="round"/>
<path d="M1092.0,225.0 C1092.0,227.5 1090.7,235.8 1092.0,240.0 C1093.3,244.2 1097.0,247.7 1100.0,250.0 C1103.0,252.3 1108.3,253.3 1110.0,254.0" fill="none" stroke="#f2f2f2" stroke-width="3.5" stroke-linecap="round" stroke-linejoin="round"/>
<path d="M1131.0,192.0 C1130.3,194.7 1128.2,203.3 1127.0,208.0 C1125.8,212.7 1128.0,217.7 1124.0,220.0 C1120.0,222.3 1108.0,220.5 1103.0,222.0 C1098.0,223.5 1095.2,225.0 1094.0,229.0 C1092.8,233.0 1093.7,242.0 1096.0,246.0 C1098.3,250.0 1102.8,252.3 1108.0,253.0 C1113.2,253.7 1120.8,249.7 1127.0,250.0 C1133.2,250.3 1140.0,253.0 1145.0,255.0 C1150.0,257.0 1154.2,259.3 1157.0,262.0 C1159.8,264.7 1160.2,268.0 1162.0,271.0 C1163.8,274.0 1167.0,278.5 1168.0,280.0" fill="none" stroke="#000" stroke-width="4" stroke-linecap="round" stroke-linejoin="round"/>
<path d="M1169.0,176.0 C1172.0,175.5 1181.7,174.2 1187.0,173.0 C1192.3,171.8 1197.0,169.0 1201.0,169.0 C1205.0,169.0 1207.8,169.5 1211.0,173.0 C1214.2,176.5 1216.5,186.5 1220.0,190.0 C1223.5,193.5 1227.3,193.7 1232.0,194.0 C1236.7,194.3 1243.0,193.5 1248.0,192.0 C1253.0,190.5 1259.7,186.2 1262.0,185.0" fill="none" stroke="#666" stroke-width="6.4" stroke-linecap="round" stroke-linejoin="round"/>
<path d="M1169.0,176.0 C1172.0,175.5 1181.7,174.2 1187.0,173.0 C1192.3,171.8 1197.0,169.0 1201.0,169.0 C1205.0,169.0 1207.8,169.5 1211.0,173.0 C1214.2,176.5 1216.5,186.5 1220.0,190.0 C1223.5,193.5 1227.3,193.7 1232.0,194.0 C1236.7,194.3 1243.0,193.5 1248.0,192.0 C1253.0,190.5 1259.7,186.2 1262.0,185.0" fill="none" stroke="#f2f2f2" stroke-width="4" stroke-linecap="round" stroke-linejoin="round"/>
<path d="M1160.0,178.0 C1163.0,177.2 1172.2,175.7 1178.0,173.0 C1183.8,170.3 1189.5,164.7 1195.0,162.0 C1200.5,159.3 1203.5,156.8 1211.0,157.0 C1218.5,157.2 1230.7,160.7 1240.0,163.0 C1249.3,165.3 1262.5,169.7 1267.0,171.0" fill="none" stroke="#000" stroke-width="4" stroke-linecap="round" stroke-linejoin="round"/>
<path d="M1190.0,180.0 C1188.0,184.0 1180.3,197.3 1178.0,204.0 C1175.7,210.7 1174.8,214.2 1176.0,220.0 C1177.2,225.8 1182.7,234.3 1185.0,239.0 C1187.3,243.7 1190.3,244.5 1190.0,248.0 C1189.7,251.5 1185.0,255.3 1183.0,260.0 C1181.0,264.7 1178.8,273.3 1178.0,276.0" fill="none" stroke="#777" stroke-width="6.4" stroke-linecap="round" stroke-linejoin="round"/>
<path d="M1190.0,180.0 C1188.0,184.0 1180.3,197.3 1178.0,204.0 C1175.7,210.7 1174.8,214.2 1176.0,220.0 C1177.2,225.8 1182.7,234.3 1185.0,239.0 C1187.3,243.7 1190.3,244.5 1190.0,248.0 C1189.7,251.5 1185.0,255.3 1183.0,260.0 C1181.0,264.7 1178.8,273.3 1178.0,276.0" fill="none" stroke="#f2f2f2" stroke-width="4" stroke-linecap="round" stroke-linejoin="round"/>
<path d="M1192.0,234.0 C1195.2,232.8 1204.3,229.3 1211.0,227.0 C1217.7,224.7 1227.3,222.3 1232.0,220.0 C1236.7,217.7 1237.8,214.2 1239.0,213.0" fill="none" stroke="#888" stroke-width="5.9" stroke-linecap="round" stroke-linejoin="round"/>
<path d="M1192.0,234.0 C1195.2,232.8 1204.3,229.3 1211.0,227.0 C1217.7,224.7 1227.3,222.3 1232.0,220.0 C1236.7,217.7 1237.8,214.2 1239.0,213.0" fill="none" stroke="#f0f0f0" stroke-width="3.5" stroke-linecap="round" stroke-linejoin="round"/>
<path d="M1206.0,250.0 C1206.8,248.8 1204.8,244.8 1211.0,243.0 C1217.2,241.2 1233.7,242.0 1243.0,239.0 C1252.3,236.0 1260.0,227.3 1267.0,225.0 C1274.0,222.7 1280.3,223.2 1285.0,225.0 C1289.7,226.8 1294.2,232.2 1295.0,236.0 C1295.8,239.8 1290.8,246.0 1290.0,248.0" fill="none" stroke="#666" stroke-width="6.4" stroke-linecap="round" stroke-linejoin="round"/>
<path d="M1206.0,250.0 C1206.8,248.8 1204.8,244.8 1211.0,243.0 C1217.2,241.2 1233.7,242.0 1243.0,239.0 C1252.3,236.0 1260.0,227.3 1267.0,225.0 C1274.0,222.7 1280.3,223.2 1285.0,225.0 C1289.7,226.8 1294.2,232.2 1295.0,236.0 C1295.8,239.8 1290.8,246.0 1290.0,248.0" fill="none" stroke="#f2f2f2" stroke-width="4" stroke-linecap="round" stroke-linejoin="round"/>
<path d="M1243.0,244.0 C1246.7,244.7 1257.2,246.8 1265.0,248.0 C1272.8,249.2 1285.8,250.5 1290.0,251.0" fill="none" stroke="#333" stroke-width="3.5" stroke-linecap="round" stroke-linejoin="round"/>
<path d="M1295.0,227.0 L1318.0,239.0" fill="none" stroke="#000" stroke-width="4" stroke-linecap="round" stroke-linejoin="round"/>
<path d="M1290.0,250.0 C1293.8,250.0 1305.2,247.7 1313.0,250.0 C1320.8,252.3 1329.2,260.5 1337.0,264.0 C1344.8,267.5 1353.0,270.2 1360.0,271.0 C1367.0,271.8 1374.7,271.7 1379.0,269.0 C1383.3,266.3 1382.5,258.2 1386.0,255.0 C1389.5,251.8 1397.3,249.2 1400.0,250.0 C1402.7,250.8 1404.8,254.8 1402.0,260.0 C1399.2,265.2 1387.3,276.0 1383.0,281.0 C1378.7,286.0 1377.2,288.5 1376.0,290.0" fill="none" stroke="#aaa" stroke-width="5.9" stroke-linecap="round" stroke-linejoin="round"/>
<path d="M1290.0,250.0 C1293.8,250.0 1305.2,247.7 1313.0,250.0 C1320.8,252.3 1329.2,260.5 1337.0,264.0 C1344.8,267.5 1353.0,270.2 1360.0,271.0 C1367.0,271.8 1374.7,271.7 1379.0,269.0 C1383.3,266.3 1382.5,258.2 1386.0,255.0 C1389.5,251.8 1397.3,249.2 1400.0,250.0 C1402.7,250.8 1404.8,254.8 1402.0,260.0 C1399.2,265.2 1387.3,276.0 1383.0,281.0 C1378.7,286.0 1377.2,288.5 1376.0,290.0" fill="none" stroke="#f4f4f4" stroke-width="3.5" stroke-linecap="round" stroke-linejoin="round"/>
<path d="M1304.0,243.0 L1320.0,246.0 L1312.0,258.0 Z" fill="#d8d8d8" stroke="#999" stroke-width="1" stroke-linejoin="round"/>
<path d="M1355.0,281.0 L1381.0,281.0 L1372.0,292.0 Z" fill="#d8d8d8" stroke="#999" stroke-width="1" stroke-linejoin="round"/>
<path d="M1281.0,194.0 C1284.2,196.7 1293.5,204.8 1300.0,210.0 C1306.5,215.2 1313.8,220.2 1320.0,225.0 C1326.2,229.8 1334.2,236.7 1337.0,239.0" fill="none" stroke="#e4e4e4" stroke-width="3" stroke-linecap="round" stroke-linejoin="round"/>
<path d="M1296.0,66.0 C1299.2,68.0 1308.7,73.2 1315.0,78.0 C1321.3,82.8 1328.3,93.3 1334.0,95.0 C1339.7,96.7 1346.5,89.2 1349.0,88.0" fill="none" stroke="#666" stroke-width="7.4" stroke-linecap="round" stroke-linejoin="round"/>
<path d="M1296.0,66.0 C1299.2,68.0 1308.7,73.2 1315.0,78.0 C1321.3,82.8 1328.3,93.3 1334.0,95.0 C1339.7,96.7 1346.5,89.2 1349.0,88.0" fill="none" stroke="#e8e8e8" stroke-width="5" stroke-linecap="round" stroke-linejoin="round"/>
<path d="M1281.0,68.0 L1265.0,102.0" fill="none" stroke="#000" stroke-width="3.5" stroke-linecap="round" stroke-linejoin="round"/>
<path d="M1296.0,70.0 C1298.8,72.5 1309.8,80.5 1313.0,85.0 C1316.2,89.5 1316.2,93.0 1315.0,97.0 C1313.8,101.0 1307.5,107.0 1306.0,109.0" fill="none" stroke="#000" stroke-width="3.5" stroke-linecap="round" stroke-linejoin="round"/>
<path d="M1279.0,48.0 L1291.0,50.0 L1289.0,63.0 L1283.0,62.0 Z" fill="#000" stroke="none" stroke-width="1" stroke-linejoin="round"/>
<path d="M1256.0,70.0 L1256.0,103.0" fill="none" stroke="#e8892c" stroke-width="4.5" stroke-linecap="round" stroke-linejoin="round"/>
<path d="M1258.0,109.0 L1289.0,113.0" fill="none" stroke="#e8892c" stroke-width="5" stroke-linecap="round" stroke-linejoin="round"/>
<path d="M1277.0,114.0 L1277.0,133.0" fill="none" stroke="#e8892c" stroke-width="5" stroke-linecap="round" stroke-linejoin="round"/>
<polygon points="1253,57 1262,53 1268,58 1265,67 1255,68" fill="none" stroke="#e8892c" stroke-width="3.5"/>
<path d="M1256.0,71.0 L1273.0,74.0" fill="none" stroke="#e05858" stroke-width="4" stroke-linecap="round" stroke-linejoin="round"/>
<path d="M1250.0,106.0 L1268.0,111.0" fill="none" stroke="#2233cc" stroke-width="4.5" stroke-linecap="round" stroke-linejoin="round"/>
<path d="M1242.0,112.0 L1256.0,105.0 L1258.0,122.0 Z" fill="#e08a30" stroke="none" stroke-width="1" stroke-linejoin="round"/>
<path d="M1262.0,22.0 L1262.0,44.0" fill="none" stroke="#ef8322" stroke-width="3" stroke-linecap="round" stroke-linejoin="round"/>
<polygon points="1262,51 1256,40 1268,40" fill="#ef8322"/>
<path d="M1354,80 C1350,62 1338,52 1318,49" fill="none" stroke="#3ab54a" stroke-width="8"/>
<polygon points="1296,50 1316,36 1319,63" fill="#3ab54a"/>
<path d="M1011.0,383.0 C1017.2,381.0 1028.8,389.8 1028.0,395.0 C1027.2,400.2 1004.8,409.7 1006.0,414.0 C1007.2,418.3 1028.5,417.0 1035.0,421.0 C1041.5,425.0 1044.2,433.5 1045.0,438.0 C1045.8,442.5 1042.8,444.8 1040.0,448.0 C1037.2,451.2 1030.3,458.7 1028.0,457.0 C1025.7,455.3 1030.8,442.0 1026.0,438.0 C1021.2,434.0 1004.8,438.2 999.0,433.0 C993.2,427.8 989.0,415.3 991.0,407.0 C993.0,398.7 1004.8,385.0 1011.0,383.0 Z" fill="#000" stroke="none" stroke-width="1" stroke-linejoin="round"/>
<path d="M1028.0,455.0 C1030.0,456.2 1034.8,460.8 1040.0,462.0 C1045.2,463.2 1053.0,463.7 1059.0,462.0 C1065.0,460.3 1071.2,452.0 1076.0,452.0 C1080.8,452.0 1083.2,458.7 1088.0,462.0 C1092.8,465.3 1099.8,472.3 1105.0,472.0 C1110.2,471.7 1116.7,462.0 1119.0,460.0" fill="none" stroke="#000" stroke-width="4" stroke-linecap="round" stroke-linejoin="round"/>
<path d="M1035.0,430.0 C1035.5,434.2 1034.0,450.0 1038.0,455.0 C1042.0,460.0 1052.7,460.8 1059.0,460.0 C1065.3,459.2 1071.2,450.0 1076.0,450.0 C1080.8,450.0 1083.2,456.8 1088.0,460.0 C1092.8,463.2 1099.8,469.3 1105.0,469.0 C1110.2,468.7 1116.7,459.8 1119.0,458.0" fill="none" stroke="#888" stroke-width="5.4" stroke-linecap="round" stroke-linejoin="round"/>
<path d="M1035.0,430.0 C1035.5,434.2 1034.0,450.0 1038.0,455.0 C1042.0,460.0 1052.7,460.8 1059.0,460.0 C1065.3,459.2 1071.2,450.0 1076.0,450.0 C1080.8,450.0 1083.2,456.8 1088.0,460.0 C1092.8,463.2 1099.8,469.3 1105.0,469.0 C1110.2,468.7 1116.7,459.8 1119.0,458.0" fill="none" stroke="#f4f4f4" stroke-width="3" stroke-linecap="round" stroke-linejoin="round"/>
<path d="M1084.0,276.0 C1083.3,279.7 1080.2,291.7 1080.0,298.0 C1079.8,304.3 1080.5,312.3 1083.0,314.0 C1085.5,315.7 1090.8,311.5 1095.0,308.0 C1099.2,304.5 1105.8,295.5 1108.0,293.0" fill="none" stroke="#222" stroke-width="6.1" stroke-linecap="round" stroke-linejoin="round"/>
<path d="M1084.0,276.0 C1083.3,279.7 1080.2,291.7 1080.0,298.0 C1079.8,304.3 1080.5,312.3 1083.0,314.0 C1085.5,315.7 1090.8,311.5 1095.0,308.0 C1099.2,304.5 1105.8,295.5 1108.0,293.0" fill="none" stroke="#f4f4f4" stroke-width="3.5" stroke-linecap="round" stroke-linejoin="round"/>
<path d="M1080.0,278.0 L1106.0,261.0 L1104.0,269.0 L1160.0,271.0 L1166.0,282.0 L1104.0,282.0 L1101.0,292.0 Z" fill="#ececec" stroke="#111" stroke-width="1.5" stroke-linejoin="round"/>
<path d="M1108.0,286.0 L1160.0,285.0 L1162.0,300.0 L1112.0,300.0 Z" fill="#cfcfcf" stroke="#111" stroke-width="1.5" stroke-linejoin="round"/>
<path d="M1145.0,270.0 L1168.0,266.0 L1174.0,298.0 L1160.0,318.0 L1140.0,312.0 Z" fill="#000" stroke="none" stroke-width="1" stroke-linejoin="round"/>
<path d="M1150.0,272.0 L1168.0,268.0 L1178.0,300.0 L1160.0,310.0 Z" fill="#000" stroke="none" stroke-width="1" stroke-linejoin="round"/>
<path d="M1083.3,379.9 L1081.5,380.1 L1079.5,379.7 L1077.3,378.6 L1074.9,376.9 L1072.5,374.5 L1070.2,371.6 L1067.9,368.1 L1065.9,364.2 L1064.1,359.9 L1062.7,355.3 L1061.6,350.7 L1060.9,345.9 L1060.7,341.2 L1061.0,336.7 L1061.7,332.5 L1063.0,328.6 L1064.7,325.1 L1066.9,322.2 L1069.5,319.8 L1072.5,318.1 L1089.4,309.5 L1086.4,311.2 L1083.8,313.5 L1081.6,316.5 L1079.9,319.9 L1078.7,323.8 L1077.9,328.1 L1077.6,332.6 L1077.8,337.3 L1078.5,342.0 L1079.6,346.7 L1081.1,351.3 L1082.8,355.5 L1084.9,359.4 L1087.1,362.9 L1089.5,365.9 L1091.8,368.3 L1094.2,370.0 L1096.4,371.1 L1098.5,371.5 L1100.3,371.2Z" fill="#333" stroke="#000" stroke-width="1.0" stroke-linejoin="round"/>
<path d="M1113.6,364.4 L1111.9,364.7 L1109.8,364.3 L1107.6,363.2 L1105.2,361.5 L1102.8,359.1 L1100.5,356.2 L1098.3,352.7 L1096.2,348.8 L1094.4,344.5 L1093.0,340.0 L1091.9,335.3 L1091.2,330.5 L1091.0,325.9 L1091.3,321.3 L1092.0,317.1 L1093.3,313.2 L1095.0,309.7 L1097.2,306.8 L1099.8,304.4 L1102.8,302.7 L1119.7,294.1 L1116.7,295.8 L1114.1,298.1 L1111.9,301.1 L1110.2,304.5 L1108.9,308.4 L1108.2,312.7 L1107.9,317.2 L1108.1,321.9 L1108.8,326.7 L1109.9,331.3 L1111.4,335.9 L1113.2,340.1 L1115.2,344.1 L1117.4,347.5 L1119.8,350.5 L1122.2,352.9 L1124.5,354.6 L1126.7,355.7 L1128.8,356.1 L1130.6,355.8Z" fill="#333" stroke="#000" stroke-width="1.0" stroke-linejoin="round"/>
<path d="M1144.0,349.0 L1142.2,349.3 L1140.1,348.9 L1137.9,347.8 L1135.6,346.1 L1133.2,343.7 L1130.8,340.8 L1128.6,337.3 L1126.5,333.4 L1124.8,329.1 L1123.3,324.6 L1122.2,319.9 L1121.5,315.2 L1121.3,310.5 L1121.5,306.0 L1122.3,301.7 L1123.5,297.8 L1125.3,294.3 L1127.4,291.4 L1130.0,289.0 L1133.0,287.3 L1149.9,278.7 L1147.0,280.4 L1144.4,282.7 L1142.2,285.7 L1140.5,289.2 L1139.2,293.1 L1138.5,297.3 L1138.2,301.9 L1138.4,306.5 L1139.1,311.3 L1140.2,316.0 L1141.7,320.5 L1143.5,324.8 L1145.5,328.7 L1147.8,332.1 L1150.1,335.1 L1152.5,337.5 L1154.8,339.2 L1157.1,340.3 L1159.1,340.7 L1160.9,340.4Z" fill="#333" stroke="#000" stroke-width="1.0" stroke-linejoin="round"/>
<path d="M1174.3,333.5 L1172.5,333.8 L1170.5,333.5 L1168.2,332.4 L1165.9,330.7 L1163.5,328.3 L1161.2,325.4 L1158.9,321.9 L1156.9,318.0 L1155.1,313.7 L1153.6,309.2 L1152.5,304.5 L1169.4,295.9 L1170.5,300.6 L1172.0,305.1 L1173.8,309.4 L1175.8,313.3 L1178.1,316.8 L1180.4,319.7 L1182.8,322.0 L1185.2,323.8 L1187.4,324.8 L1189.4,325.2 L1191.2,324.9Z" fill="#333" stroke="#000" stroke-width="1.0" stroke-linejoin="round"/>
<path d="M1080.6,354.3 L1082.8,358.3 L1084.5,362.2 L1085.8,365.9 L1086.5,369.4 L1086.8,372.5 L1086.6,375.2 L1085.9,377.4 L1084.8,378.9 L1083.3,379.9 L1100.3,371.2 L1101.7,370.3 L1102.8,368.7 L1103.5,366.6 L1103.7,363.9 L1103.5,360.8 L1102.7,357.3 L1101.5,353.5 L1099.8,349.6 L1097.6,345.7Z" fill="#0a0a0a" stroke="#000" stroke-width="1.0" stroke-linejoin="round"/>
<path d="M1072.5,318.1 L1075.8,317.1 L1079.4,316.7 L1083.1,317.0 L1087.0,318.0 L1090.9,319.6 L1094.7,321.8 L1098.5,324.5 L1102.0,327.6 L1105.3,331.1 L1108.3,334.9 L1110.9,338.8 L1113.1,342.8 L1114.8,346.7 L1116.1,350.4 L1116.8,353.9 L1117.1,357.0 L1116.9,359.7 L1116.2,361.9 L1115.1,363.5 L1113.6,364.4 L1130.6,355.8 L1132.0,354.9 L1133.1,353.3 L1133.8,351.1 L1134.0,348.4 L1133.8,345.3 L1133.0,341.8 L1131.8,338.1 L1130.0,334.1 L1127.8,330.2 L1125.2,326.3 L1122.3,322.5 L1119.0,319.0 L1115.4,315.8 L1111.7,313.1 L1107.8,311.0 L1103.9,309.4 L1100.0,308.4 L1096.3,308.1 L1092.7,308.4 L1089.4,309.5Z" fill="#0a0a0a" stroke="#000" stroke-width="1.0" stroke-linejoin="round"/>
<path d="M1102.8,302.7 L1106.0,301.6 L1109.6,301.3 L1113.4,301.6 L1117.2,302.5 L1121.1,304.1 L1125.0,306.3 L1128.7,309.0 L1132.3,312.1 L1135.6,315.6 L1138.6,319.4 L1141.2,323.3 L1143.4,327.3 L1145.1,331.2 L1146.4,335.0 L1147.1,338.4 L1147.4,341.6 L1147.2,344.3 L1146.5,346.4 L1145.4,348.0 L1144.0,349.0 L1160.9,340.4 L1162.4,339.4 L1163.4,337.8 L1164.1,335.6 L1164.3,333.0 L1164.0,329.8 L1163.3,326.3 L1162.0,322.6 L1160.3,318.7 L1158.1,314.7 L1155.5,310.8 L1152.5,307.0 L1149.2,303.5 L1145.7,300.4 L1141.9,297.7 L1138.0,295.5 L1134.1,293.9 L1130.3,292.9 L1126.5,292.6 L1123.0,293.0 L1119.7,294.1Z" fill="#0a0a0a" stroke="#000" stroke-width="1.0" stroke-linejoin="round"/>
<path d="M1133.0,287.3 L1136.3,286.2 L1139.9,285.8 L1143.6,286.1 L1147.5,287.1 L1151.4,288.7 L1155.2,290.8 L1159.0,293.5 L1162.5,296.7 L1165.8,300.2 L1168.8,303.9 L1171.4,307.8 L1173.6,311.8 L1175.4,315.7 L1176.6,319.5 L1177.4,323.0 L1177.7,326.1 L1177.5,328.8 L1176.8,331.0 L1175.7,332.6 L1174.3,333.5 L1191.2,324.9 L1192.7,324.0 L1193.7,322.4 L1194.4,320.2 L1194.6,317.5 L1194.3,314.3 L1193.6,310.8 L1192.3,307.1 L1190.6,303.2 L1188.4,299.2 L1185.8,295.3 L1182.8,291.5 L1179.5,288.0 L1175.9,284.9 L1172.2,282.2 L1168.3,280.0 L1164.4,278.5 L1160.5,277.5 L1156.8,277.2 L1153.2,277.6 L1149.9,278.7Z" fill="#0a0a0a" stroke="#000" stroke-width="1.0" stroke-linejoin="round"/>
<path d="M1152.1,368.9 L1150.6,368.6 L1149.0,367.8 L1147.4,366.4 L1145.8,364.5 L1144.2,362.1 L1142.8,359.3 L1141.5,356.1 L1140.4,352.6 L1139.6,348.9 L1139.1,345.1 L1138.9,341.3 L1139.1,337.5 L1139.6,333.8 L1140.5,330.3 L1141.8,327.1 L1143.4,324.3 L1145.3,322.0 L1147.5,320.1 L1150.0,318.7 L1152.7,317.9 L1167.7,312.3 L1165.0,313.2 L1162.6,314.5 L1160.3,316.4 L1158.4,318.8 L1156.8,321.6 L1155.5,324.8 L1154.7,328.2 L1154.1,331.9 L1154.0,335.7 L1154.1,339.6 L1154.6,343.4 L1155.4,347.1 L1156.5,350.6 L1157.8,353.7 L1159.2,356.6 L1160.8,358.9 L1162.4,360.8 L1164.1,362.2 L1165.6,363.1 L1167.1,363.3Z" fill="#6a6a6a" stroke="#444" stroke-width="1.0" stroke-linejoin="round"/>
<path d="M1180.3,358.5 L1178.9,358.3 L1177.3,357.5 L1175.7,356.1 L1174.1,354.3 L1172.5,351.9 L1171.0,349.1 L1169.7,346.0 L1168.7,342.5 L1167.8,338.9 L1167.3,335.1 L1167.1,331.2 L1167.2,327.4 L1167.7,323.7 L1168.6,320.2 L1169.8,317.0 L1171.4,314.2 L1173.3,311.8 L1175.5,309.8 L1178.0,308.4 L1180.6,307.6 L1195.7,302.0 L1193.0,302.9 L1190.5,304.3 L1188.3,306.2 L1186.4,308.7 L1184.8,311.5 L1183.6,314.7 L1182.7,318.2 L1182.2,321.9 L1182.1,325.7 L1182.3,329.5 L1182.8,333.3 L1183.7,337.0 L1184.8,340.5 L1186.1,343.6 L1187.5,346.4 L1189.1,348.7 L1190.7,350.6 L1192.3,352.0 L1193.9,352.7 L1195.3,353.0Z" fill="#6a6a6a" stroke="#444" stroke-width="1.0" stroke-linejoin="round"/>
<path d="M1208.6,348.1 L1207.2,348.0 L1205.6,347.2 L1204.0,345.9 L1202.4,344.1 L1200.8,341.8 L1199.3,339.0 L1198.0,335.9 L1196.9,332.5 L1196.0,328.8 L1195.5,325.0 L1195.3,321.2 L1195.4,317.3 L1195.8,313.6 L1196.7,310.1 L1197.9,306.9 L1199.4,304.0 L1201.3,301.6 L1203.5,299.6 L1205.9,298.2 L1208.6,297.2 L1223.6,291.7 L1220.9,292.6 L1218.5,294.1 L1216.3,296.1 L1214.4,298.5 L1212.9,301.4 L1211.7,304.6 L1210.8,308.1 L1210.4,311.8 L1210.3,315.6 L1210.5,319.5 L1211.1,323.3 L1211.9,326.9 L1213.0,330.4 L1214.3,333.5 L1215.8,336.2 L1217.4,338.6 L1219.0,340.4 L1220.6,341.7 L1222.2,342.4 L1223.6,342.6Z" fill="#6a6a6a" stroke="#444" stroke-width="1.0" stroke-linejoin="round"/>
<path d="M1236.9,337.8 L1235.4,337.6 L1233.9,336.9 L1232.3,335.7 L1230.6,333.9 L1229.1,331.6 L1227.6,328.9 L1226.2,325.8 L1225.1,322.4 L1224.3,318.7 L1223.7,315.0 L1223.4,311.1 L1223.5,307.3 L1223.9,303.5 L1224.7,300.0 L1225.9,296.8 L1227.4,293.9 L1229.3,291.4 L1231.4,289.4 L1233.9,287.9 L1236.5,286.9 L1251.5,281.4 L1248.9,282.4 L1246.5,283.9 L1244.3,285.9 L1242.5,288.4 L1240.9,291.3 L1239.8,294.5 L1239.0,298.0 L1238.5,301.7 L1238.4,305.6 L1238.7,309.4 L1239.3,313.2 L1240.1,316.9 L1241.3,320.3 L1242.6,323.4 L1244.1,326.1 L1245.6,328.4 L1247.3,330.1 L1248.9,331.4 L1250.4,332.1 L1251.9,332.2Z" fill="#6a6a6a" stroke="#444" stroke-width="1.0" stroke-linejoin="round"/>
<path d="M1265.1,327.4 L1263.7,327.3 L1262.2,326.6 L1260.5,325.4 L1258.9,323.7 L1257.3,321.4 L1255.8,318.8 L1254.5,315.7 L1253.4,312.3 L1252.5,308.7 L1251.9,304.9 L1251.6,301.0 L1251.6,297.2 L1252.0,293.5 L1252.8,289.9 L1254.0,286.7 L1255.5,283.7 L1257.3,281.2 L1259.4,279.2 L1261.8,277.6 L1264.4,276.6 L1279.5,271.1 L1276.8,272.1 L1274.4,273.6 L1272.3,275.7 L1270.5,278.2 L1269.0,281.1 L1267.8,284.4 L1267.1,288.0 L1266.6,291.7 L1266.6,295.5 L1266.9,299.4 L1267.5,303.2 L1268.4,306.8 L1269.5,310.2 L1270.9,313.2 L1272.3,315.9 L1273.9,318.2 L1275.6,319.9 L1277.2,321.1 L1278.7,321.8 L1280.1,321.9Z" fill="#6a6a6a" stroke="#444" stroke-width="1.0" stroke-linejoin="round"/>
<path d="M1155.4,356.7 L1155.9,359.7 L1156.0,362.3 L1155.8,364.6 L1155.3,366.4 L1154.5,367.8 L1153.4,368.6 L1152.1,368.9 L1167.1,363.3 L1168.4,363.1 L1169.5,362.2 L1170.3,360.9 L1170.8,359.0 L1171.0,356.8 L1170.9,354.1 L1170.4,351.2Z" fill="#a0a0a0" stroke="#444" stroke-width="1.0" stroke-linejoin="round"/>
<path d="M1152.7,317.9 L1155.6,317.6 L1158.5,317.9 L1161.6,318.8 L1164.6,320.1 L1167.6,322.0 L1170.4,324.3 L1173.1,326.9 L1175.6,329.8 L1177.8,333.0 L1179.8,336.3 L1181.4,339.6 L1182.6,342.9 L1183.5,346.1 L1184.0,349.1 L1184.2,351.7 L1184.0,354.0 L1183.5,355.9 L1182.7,357.3 L1181.6,358.2 L1180.3,358.5 L1195.3,353.0 L1196.6,352.7 L1197.7,351.8 L1198.5,350.4 L1199.0,348.5 L1199.2,346.2 L1199.0,343.5 L1198.5,340.6 L1197.6,337.4 L1196.4,334.1 L1194.8,330.8 L1192.8,327.5 L1190.6,324.3 L1188.1,321.4 L1185.5,318.7 L1182.6,316.5 L1179.6,314.6 L1176.6,313.2 L1173.6,312.4 L1170.6,312.1 L1167.7,312.3Z" fill="#a0a0a0" stroke="#444" stroke-width="1.0" stroke-linejoin="round"/>
<path d="M1180.6,307.6 L1183.5,307.3 L1186.5,307.5 L1189.5,308.3 L1192.5,309.6 L1195.5,311.5 L1198.4,313.7 L1201.1,316.3 L1203.6,319.2 L1205.8,322.4 L1207.8,325.7 L1209.4,329.0 L1210.7,332.3 L1211.6,335.5 L1212.1,338.5 L1212.3,341.2 L1212.2,343.5 L1211.7,345.4 L1210.9,346.8 L1209.9,347.8 L1208.6,348.1 L1223.6,342.6 L1224.9,342.2 L1225.9,341.3 L1226.7,339.9 L1227.2,338.0 L1227.4,335.6 L1227.2,333.0 L1226.6,330.0 L1225.7,326.8 L1224.4,323.5 L1222.8,320.1 L1220.8,316.9 L1218.6,313.7 L1216.1,310.8 L1213.4,308.2 L1210.5,305.9 L1207.5,304.1 L1204.5,302.8 L1201.5,302.0 L1198.5,301.7 L1195.7,302.0Z" fill="#a0a0a0" stroke="#444" stroke-width="1.0" stroke-linejoin="round"/>
<path d="M1208.6,297.2 L1211.4,296.9 L1214.4,297.1 L1217.4,297.9 L1220.4,299.2 L1223.4,300.9 L1226.3,303.1 L1229.0,305.7 L1231.5,308.6 L1233.8,311.8 L1235.8,315.0 L1237.4,318.4 L1238.7,321.7 L1239.7,324.9 L1240.3,327.9 L1240.5,330.6 L1240.4,333.0 L1239.9,334.9 L1239.1,336.4 L1238.1,337.4 L1236.9,337.8 L1251.9,332.2 L1253.1,331.8 L1254.2,330.9 L1254.9,329.4 L1255.4,327.4 L1255.5,325.1 L1255.3,322.4 L1254.7,319.4 L1253.8,316.2 L1252.4,312.9 L1250.8,309.5 L1248.8,306.2 L1246.6,303.1 L1244.0,300.2 L1241.3,297.6 L1238.4,295.4 L1235.4,293.6 L1232.4,292.3 L1229.4,291.6 L1226.4,291.4 L1223.6,291.7Z" fill="#a0a0a0" stroke="#444" stroke-width="1.0" stroke-linejoin="round"/>
<path d="M1236.5,286.9 L1239.3,286.5 L1242.3,286.7 L1245.3,287.4 L1248.3,288.7 L1251.3,290.4 L1254.2,292.6 L1257.0,295.2 L1259.5,298.0 L1261.8,301.2 L1263.8,304.4 L1265.5,307.8 L1266.8,311.1 L1267.8,314.3 L1268.4,317.3 L1268.6,320.0 L1268.5,322.4 L1268.1,324.4 L1267.4,325.9 L1266.4,326.9 L1265.1,327.4 L1280.1,321.9 L1281.4,321.4 L1282.4,320.4 L1283.1,318.9 L1283.6,316.9 L1283.7,314.5 L1283.4,311.8 L1282.8,308.8 L1281.8,305.5 L1280.5,302.2 L1278.8,298.9 L1276.8,295.6 L1274.5,292.5 L1272.0,289.6 L1269.2,287.1 L1266.4,284.9 L1263.4,283.1 L1260.3,281.9 L1257.3,281.2 L1254.4,281.0 L1251.5,281.4Z" fill="#a0a0a0" stroke="#444" stroke-width="1.0" stroke-linejoin="round"/>
<path d="M1264.4,276.6 L1267.3,276.2 L1270.2,276.3 L1273.2,277.0 L1276.3,278.2 L1279.3,279.9 L1282.2,282.0 L1284.9,284.6 L1287.5,287.4 L1289.8,290.5 L1291.8,293.8 L1293.5,297.1 L1294.9,300.4 L1295.9,303.7 L1296.5,306.7 L1296.8,309.5 L1296.7,311.9 L1296.3,313.9 L1295.6,315.5 L1310.6,309.9 L1311.3,308.4 L1311.7,306.4 L1311.8,303.9 L1311.5,301.2 L1310.9,298.1 L1309.9,294.9 L1308.5,291.6 L1306.8,288.3 L1304.8,285.0 L1302.5,281.9 L1299.9,279.1 L1297.2,276.5 L1294.3,274.4 L1291.3,272.7 L1288.2,271.5 L1285.2,270.8 L1282.3,270.7 L1279.5,271.1Z" fill="#a0a0a0" stroke="#444" stroke-width="1.0" stroke-linejoin="round"/>
<path d="M1182.0,340.0 C1185.0,337.2 1192.7,326.8 1200.0,323.0 C1207.3,319.2 1217.3,319.2 1226.0,317.0 C1234.7,314.8 1243.3,313.8 1252.0,310.0 C1260.7,306.2 1270.7,296.5 1278.0,294.0 C1285.3,291.5 1293.0,294.8 1296.0,295.0" fill="none" stroke="#000" stroke-width="4" stroke-linecap="round" stroke-linejoin="round"/>
<path d="M1041.0,408.0 L1039.9,407.7 L1038.9,406.9 L1038.0,405.6 L1037.1,403.9 L1036.3,401.8 L1035.7,399.3 L1035.2,396.6 L1035.0,393.7 L1035.0,390.6 L1035.3,387.4 L1035.8,384.2 L1036.6,381.1 L1037.7,378.1 L1039.1,375.3 L1040.7,372.8 L1042.5,370.6 L1044.5,368.9 L1046.7,367.5 L1049.0,366.6 L1051.4,366.2 L1065.3,364.2 L1062.9,364.6 L1060.6,365.5 L1058.4,366.9 L1056.3,368.7 L1054.5,370.8 L1052.9,373.3 L1051.6,376.1 L1050.5,379.1 L1049.7,382.2 L1049.1,385.4 L1048.9,388.6 L1048.9,391.7 L1049.1,394.6 L1049.5,397.4 L1050.1,399.8 L1050.9,401.9 L1051.8,403.6 L1052.8,404.9 L1053.8,405.7 L1054.8,406.0Z" fill="#888" stroke="#333" stroke-width="1.0" stroke-linejoin="round"/>
<path d="M1071.0,403.8 L1070.0,403.6 L1068.9,402.9 L1067.9,401.8 L1067.0,400.2 L1066.2,398.2 L1065.5,395.9 L1065.0,393.2 L1064.7,390.3 L1064.7,387.3 L1064.9,384.1 L1065.3,380.9 L1066.1,377.8 L1067.1,374.7 L1068.3,371.9 L1069.9,369.3 L1071.6,367.0 L1073.6,365.1 L1075.7,363.6 L1078.0,362.6 L1080.4,362.0 L1094.3,360.0 L1091.9,360.6 L1089.6,361.7 L1087.4,363.1 L1085.5,365.0 L1083.7,367.3 L1082.2,369.9 L1080.9,372.7 L1079.9,375.8 L1079.2,378.9 L1078.7,382.1 L1078.5,385.3 L1078.6,388.4 L1078.9,391.2 L1079.4,393.9 L1080.1,396.2 L1080.9,398.2 L1081.8,399.8 L1082.8,400.9 L1083.8,401.6 L1084.8,401.8Z" fill="#888" stroke="#333" stroke-width="1.0" stroke-linejoin="round"/>
<path d="M1100.0,399.4 L1098.9,398.9 L1097.9,397.9 L1097.0,396.5 L1096.1,394.6 L1095.4,392.4 L1094.9,389.8 L1108.7,387.8 L1109.3,390.4 L1110.0,392.6 L1110.9,394.5 L1111.8,395.9 L1112.8,396.9 L1113.8,397.5Z" fill="#888" stroke="#333" stroke-width="1.0" stroke-linejoin="round"/>
<path d="M1044.2,395.3 L1044.5,398.0 L1044.6,400.5 L1044.5,402.8 L1044.1,404.7 L1043.5,406.2 L1042.8,407.2 L1041.9,407.9 L1041.0,408.0 L1054.8,406.0 L1055.8,405.9 L1056.6,405.3 L1057.4,404.2 L1058.0,402.7 L1058.3,400.8 L1058.5,398.6 L1058.4,396.0 L1058.1,393.3Z" fill="#e8e8e8" stroke="#333" stroke-width="1.0" stroke-linejoin="round"/>
<path d="M1051.4,366.2 L1053.9,366.2 L1056.4,366.8 L1058.9,367.8 L1061.3,369.2 L1063.5,371.0 L1065.7,373.2 L1067.6,375.7 L1069.3,378.4 L1070.8,381.3 L1072.1,384.2 L1073.0,387.2 L1073.7,390.2 L1074.2,393.0 L1074.3,395.5 L1074.3,397.9 L1073.9,399.9 L1073.4,401.5 L1072.7,402.7 L1071.9,403.5 L1071.0,403.8 L1084.8,401.8 L1085.7,401.5 L1086.6,400.7 L1087.3,399.5 L1087.8,397.9 L1088.1,395.9 L1088.2,393.6 L1088.0,391.0 L1087.6,388.2 L1086.9,385.2 L1085.9,382.3 L1084.7,379.3 L1083.2,376.4 L1081.5,373.7 L1079.5,371.2 L1077.4,369.1 L1075.1,367.2 L1072.7,365.8 L1070.3,364.8 L1067.8,364.3 L1065.3,364.2Z" fill="#e8e8e8" stroke="#333" stroke-width="1.0" stroke-linejoin="round"/>
<path d="M1080.4,362.0 L1082.9,361.9 L1085.4,362.3 L1087.8,363.2 L1090.2,364.5 L1092.6,366.2 L1094.7,368.3 L1096.7,370.7 L1098.5,373.3 L1100.1,376.1 L1101.4,379.1 L1102.5,382.1 L1103.3,385.0 L1103.8,387.9 L1104.0,390.5 L1104.0,393.0 L1103.8,395.1 L1103.3,396.8 L1102.6,398.2 L1101.9,399.1 L1100.9,399.5 L1100.0,399.4 L1113.8,397.5 L1114.8,397.5 L1115.7,397.1 L1116.5,396.2 L1117.2,394.8 L1117.6,393.1 L1117.9,391.0 L1117.9,388.6 L1117.6,385.9 L1117.1,383.0 L1116.3,380.1 L1115.3,377.1 L1114.0,374.2 L1112.4,371.3 L1110.6,368.7 L1108.6,366.3 L1106.4,364.2 L1104.1,362.5 L1101.7,361.2 L1099.2,360.3 L1096.7,360.0 L1094.3,360.0Z" fill="#e8e8e8" stroke="#333" stroke-width="1.0" stroke-linejoin="round"/>
<path d="M1074.1,447.7 L1072.7,447.5 L1071.2,446.7 L1069.6,445.3 L1068.2,443.3 L1066.8,440.9 L1065.6,437.9 L1064.6,434.6 L1063.8,431.0 L1063.4,427.2 L1063.2,423.2 L1063.4,419.2 L1063.9,415.3 L1064.8,411.5 L1066.1,407.9 L1067.6,404.6 L1069.5,401.8 L1071.7,399.4 L1074.1,397.5 L1076.8,396.2 L1079.6,395.5 L1096.2,391.9 L1093.4,392.6 L1090.8,393.9 L1088.3,395.8 L1086.1,398.2 L1084.3,401.1 L1082.7,404.3 L1081.5,407.9 L1080.6,411.7 L1080.0,415.6 L1079.8,419.6 L1080.0,423.6 L1080.5,427.4 L1081.2,431.1 L1082.2,434.4 L1083.4,437.3 L1084.8,439.7 L1086.2,441.7 L1087.8,443.1 L1089.3,443.9 L1090.8,444.1Z" fill="#555" stroke="#222" stroke-width="1.0" stroke-linejoin="round"/>
<path d="M1103.6,441.4 L1102.2,441.2 L1100.7,440.5 L1099.1,439.1 L1097.6,437.2 L1096.3,434.8 L1095.0,432.0 L1094.0,428.7 L1093.2,425.1 L1092.7,421.3 L1092.6,417.4 L1092.7,413.3 L1093.2,409.4 L1094.0,405.6 L1095.2,402.0 L1096.8,398.7 L1098.6,395.8 L1100.8,393.3 L1103.2,391.4 L1105.8,390.0 L1108.6,389.2 L1125.2,385.6 L1122.4,386.4 L1119.8,387.8 L1117.4,389.7 L1115.2,392.2 L1113.4,395.1 L1111.9,398.4 L1110.7,402.0 L1109.8,405.8 L1109.3,409.8 L1109.2,413.8 L1109.4,417.7 L1109.9,421.5 L1110.6,425.1 L1111.7,428.4 L1112.9,431.2 L1114.3,433.7 L1115.7,435.6 L1117.3,436.9 L1118.8,437.6 L1120.2,437.8Z" fill="#555" stroke="#222" stroke-width="1.0" stroke-linejoin="round"/>
<path d="M1133.1,435.0 L1131.7,434.9 L1130.2,434.3 L1128.6,433.0 L1127.1,431.2 L1125.7,428.8 L1124.5,426.0 L1123.5,422.8 L1122.6,419.2 L1122.1,415.4 L1121.9,411.5 L1122.0,407.5 L1122.4,403.5 L1123.2,399.7 L1124.4,396.0 L1125.9,392.7 L1127.7,389.7 L1129.8,387.2 L1132.2,385.2 L1134.8,383.8 L1137.6,382.9 L1154.2,379.3 L1151.4,380.2 L1148.8,381.6 L1146.5,383.6 L1144.3,386.1 L1142.5,389.1 L1141.0,392.4 L1139.9,396.1 L1139.1,399.9 L1138.6,403.9 L1138.5,407.9 L1138.7,411.8 L1139.3,415.6 L1140.1,419.2 L1141.1,422.4 L1142.4,425.2 L1143.8,427.6 L1145.2,429.4 L1146.8,430.7 L1148.3,431.4 L1149.7,431.4Z" fill="#555" stroke="#222" stroke-width="1.0" stroke-linejoin="round"/>
<path d="M1162.6,428.7 L1161.2,428.6 L1159.7,428.0 L1158.1,426.8 L1156.6,425.1 L1155.2,422.8 L1154.0,420.0 L1152.9,416.8 L1152.0,413.3 L1151.5,409.5 L1151.2,405.6 L1151.3,401.6 L1151.7,397.6 L1152.5,393.8 L1153.6,390.1 L1155.0,386.7 L1156.8,383.7 L1158.9,381.2 L1161.2,379.1 L1163.8,377.6 L1166.6,376.6 L1169.5,376.3 L1186.1,372.7 L1183.2,373.1 L1180.4,374.0 L1177.9,375.5 L1175.5,377.6 L1173.4,380.1 L1171.7,383.1 L1170.2,386.5 L1169.1,390.2 L1168.3,394.0 L1167.9,398.0 L1167.8,402.0 L1168.1,405.9 L1168.7,409.7 L1169.5,413.2 L1170.6,416.4 L1171.8,419.2 L1173.2,421.5 L1174.7,423.2 L1176.3,424.4 L1177.8,425.1 L1179.2,425.1Z" fill="#555" stroke="#222" stroke-width="1.0" stroke-linejoin="round"/>
<path d="M1190.7,422.3 L1189.2,421.8 L1187.6,420.7 L1186.1,419.0 L1184.7,416.7 L1183.4,414.0 L1182.3,410.9 L1198.9,407.3 L1200.0,410.4 L1201.3,413.1 L1202.7,415.4 L1204.2,417.1 L1205.8,418.2 L1207.3,418.8Z" fill="#555" stroke="#222" stroke-width="1.0" stroke-linejoin="round"/>
<path d="M1078.4,442.8 L1077.7,444.8 L1076.7,446.4 L1075.5,447.3 L1074.1,447.7 L1090.8,444.1 L1092.1,443.8 L1093.3,442.8 L1094.3,441.2 L1095.0,439.2Z" fill="#ededed" stroke="#222" stroke-width="1.0" stroke-linejoin="round"/>
<path d="M1079.6,395.5 L1082.5,395.3 L1085.5,395.8 L1088.5,396.9 L1091.4,398.5 L1094.2,400.6 L1096.9,403.2 L1099.4,406.1 L1101.6,409.4 L1103.6,412.9 L1105.2,416.6 L1106.5,420.2 L1107.4,423.9 L1108.0,427.4 L1108.3,430.7 L1108.2,433.6 L1107.8,436.2 L1107.1,438.3 L1106.1,439.9 L1105.0,440.9 L1103.6,441.4 L1120.2,437.8 L1121.6,437.3 L1122.7,436.3 L1123.7,434.7 L1124.4,432.6 L1124.8,430.0 L1124.9,427.1 L1124.7,423.8 L1124.1,420.3 L1123.1,416.7 L1121.8,413.0 L1120.2,409.3 L1118.2,405.8 L1116.0,402.5 L1113.5,399.6 L1110.9,397.0 L1108.0,394.9 L1105.1,393.3 L1102.1,392.2 L1099.1,391.7 L1096.2,391.9Z" fill="#ededed" stroke="#222" stroke-width="1.0" stroke-linejoin="round"/>
<path d="M1108.6,389.2 L1111.5,389.0 L1114.5,389.4 L1117.5,390.4 L1120.4,391.9 L1123.2,394.0 L1125.9,396.5 L1128.4,399.4 L1130.7,402.7 L1132.7,406.2 L1134.3,409.8 L1135.7,413.5 L1136.7,417.1 L1137.3,420.7 L1137.6,424.0 L1137.5,427.0 L1137.2,429.6 L1136.5,431.7 L1135.6,433.4 L1134.4,434.5 L1133.1,435.0 L1149.7,431.4 L1151.0,430.9 L1152.2,429.8 L1153.1,428.2 L1153.8,426.0 L1154.2,423.4 L1154.2,420.4 L1153.9,417.1 L1153.3,413.6 L1152.3,409.9 L1151.0,406.2 L1149.3,402.6 L1147.3,399.1 L1145.1,395.8 L1142.6,392.9 L1139.9,390.4 L1137.0,388.3 L1134.1,386.8 L1131.1,385.8 L1128.1,385.4 L1125.2,385.6Z" fill="#ededed" stroke="#222" stroke-width="1.0" stroke-linejoin="round"/>
<path d="M1137.6,382.9 L1140.5,382.6 L1143.5,383.0 L1146.4,383.9 L1149.4,385.4 L1152.3,387.4 L1155.0,389.9 L1157.5,392.7 L1159.8,396.0 L1161.8,399.4 L1163.5,403.0 L1164.9,406.7 L1165.9,410.4 L1166.6,413.9 L1166.9,417.3 L1166.9,420.3 L1166.6,423.0 L1165.9,425.2 L1165.0,426.9 L1163.9,428.1 L1162.6,428.7 L1179.2,425.1 L1180.5,424.5 L1181.6,423.3 L1182.5,421.6 L1183.2,419.4 L1183.5,416.7 L1183.5,413.7 L1183.2,410.4 L1182.5,406.8 L1181.5,403.1 L1180.1,399.5 L1178.4,395.8 L1176.4,392.4 L1174.1,389.2 L1171.6,386.3 L1168.9,383.8 L1166.0,381.8 L1163.1,380.3 L1160.1,379.4 L1157.1,379.0 L1154.2,379.3Z" fill="#ededed" stroke="#222" stroke-width="1.0" stroke-linejoin="round"/>
<path d="M1169.5,376.3 L1172.4,376.6 L1175.4,377.4 L1178.4,378.8 L1181.3,380.8 L1184.0,383.2 L1186.5,386.1 L1188.9,389.2 L1190.9,392.7 L1192.6,396.3 L1194.1,400.0 L1195.1,403.6 L1195.8,407.2 L1196.2,410.6 L1196.2,413.6 L1195.9,416.4 L1195.3,418.6 L1194.5,420.4 L1193.4,421.6 L1192.1,422.3 L1190.7,422.3 L1207.3,418.8 L1208.7,418.7 L1210.0,418.0 L1211.1,416.8 L1211.9,415.0 L1212.5,412.8 L1212.9,410.1 L1212.8,407.0 L1212.5,403.6 L1211.7,400.1 L1210.7,396.4 L1209.3,392.7 L1207.5,389.1 L1205.5,385.7 L1203.2,382.5 L1200.6,379.6 L1197.9,377.2 L1195.0,375.3 L1192.0,373.8 L1189.0,373.0 L1186.1,372.7Z" fill="#ededed" stroke="#222" stroke-width="1.0" stroke-linejoin="round"/>
<path d="M1184.0,419.6 L1182.5,419.2 L1180.9,418.2 L1179.3,416.6 L1177.7,414.5 L1176.2,411.8 L1174.8,408.8 L1173.7,405.4 L1172.8,401.7 L1172.2,397.8 L1171.9,393.8 L1172.0,389.8 L1172.4,385.8 L1173.2,382.1 L1174.4,378.6 L1175.9,375.4 L1177.8,372.6 L1179.9,370.4 L1182.3,368.6 L1185.0,367.4 L1187.9,366.8 L1203.2,362.2 L1200.3,362.8 L1197.7,364.0 L1195.2,365.8 L1193.1,368.0 L1191.2,370.8 L1189.7,374.0 L1188.5,377.5 L1187.7,381.2 L1187.3,385.2 L1187.3,389.2 L1187.5,393.2 L1188.1,397.1 L1189.0,400.8 L1190.2,404.2 L1191.5,407.2 L1193.0,409.9 L1194.6,412.0 L1196.2,413.6 L1197.8,414.6 L1199.4,415.0Z" fill="#000" stroke="#000" stroke-width="1.0" stroke-linejoin="round"/>
<path d="M1212.8,411.0 L1211.3,410.6 L1209.7,409.6 L1208.1,408.0 L1206.5,405.9 L1205.0,403.3 L1203.6,400.3 L1202.5,396.9 L1201.6,393.2 L1201.0,389.3 L1200.7,385.3 L1200.7,381.3 L1201.1,377.3 L1201.9,373.6 L1203.1,370.1 L1204.6,366.9 L1206.4,364.1 L1208.6,361.8 L1211.0,360.0 L1213.6,358.8 L1216.5,358.2 L1231.8,353.6 L1229.0,354.2 L1226.3,355.4 L1223.9,357.2 L1221.7,359.5 L1219.9,362.3 L1218.4,365.5 L1217.2,369.0 L1216.5,372.8 L1216.0,376.7 L1216.0,380.7 L1216.3,384.7 L1216.9,388.6 L1217.8,392.3 L1218.9,395.7 L1220.3,398.7 L1221.8,401.3 L1223.4,403.4 L1225.0,405.0 L1226.6,406.0 L1228.2,406.4Z" fill="#000" stroke="#000" stroke-width="1.0" stroke-linejoin="round"/>
<path d="M1241.6,402.4 L1240.1,402.0 L1238.5,401.0 L1236.8,399.5 L1235.3,397.4 L1233.7,394.8 L1232.4,391.8 L1231.2,388.4 L1230.3,384.7 L1229.7,380.8 L1229.4,376.8 L1229.4,372.8 L1229.8,368.9 L1230.6,365.1 L1231.8,361.6 L1233.2,358.4 L1235.1,355.6 L1237.2,353.3 L1239.6,351.5 L1242.3,350.2 L1245.1,349.6 L1260.4,345.0 L1257.6,345.6 L1255.0,346.9 L1252.5,348.7 L1250.4,351.0 L1248.6,353.8 L1247.1,357.0 L1245.9,360.5 L1245.2,364.3 L1244.8,368.2 L1244.7,372.2 L1245.0,376.2 L1245.7,380.1 L1246.6,383.8 L1247.7,387.2 L1249.1,390.2 L1250.6,392.8 L1252.2,394.9 L1253.8,396.4 L1255.4,397.4 L1257.0,397.8Z" fill="#000" stroke="#000" stroke-width="1.0" stroke-linejoin="round"/>
<path d="M1270.4,393.8 L1268.9,393.4 L1267.3,392.5 L1265.6,390.9 L1264.0,388.9 L1262.5,386.3 L1261.2,383.3 L1260.0,379.9 L1259.1,376.2 L1258.5,372.4 L1258.1,368.4 L1258.2,364.3 L1258.6,360.4 L1259.3,356.6 L1260.4,353.1 L1261.9,349.9 L1263.7,347.1 L1265.9,344.7 L1268.3,342.9 L1270.9,341.6 L1273.7,341.0 L1289.1,336.4 L1286.2,337.0 L1283.6,338.3 L1281.2,340.1 L1279.1,342.5 L1277.2,345.3 L1275.8,348.5 L1274.6,352.0 L1273.9,355.8 L1273.5,359.7 L1273.5,363.8 L1273.8,367.8 L1274.4,371.6 L1275.3,375.3 L1276.5,378.7 L1277.9,381.7 L1279.4,384.3 L1281.0,386.3 L1282.6,387.9 L1284.2,388.8 L1285.7,389.2Z" fill="#000" stroke="#000" stroke-width="1.0" stroke-linejoin="round"/>
<path d="M1299.2,385.2 L1297.7,384.8 L1296.1,383.9 L1294.4,382.4 L1292.8,380.3 L1291.3,377.8 L1290.0,374.8 L1288.8,371.4 L1287.9,367.8 L1287.2,363.9 L1286.9,359.9 L1286.9,355.9 L1287.3,351.9 L1288.0,348.1 L1289.1,344.6 L1290.6,341.4 L1292.4,338.5 L1294.5,336.2 L1296.9,334.3 L1299.5,333.1 L1302.4,332.4 L1317.7,327.8 L1314.9,328.5 L1312.2,329.7 L1309.8,331.6 L1307.7,333.9 L1305.9,336.8 L1304.4,340.0 L1303.3,343.5 L1302.6,347.3 L1302.2,351.3 L1302.2,355.3 L1302.5,359.3 L1303.2,363.2 L1304.1,366.8 L1305.3,370.2 L1306.7,373.2 L1308.2,375.7 L1309.8,377.8 L1311.4,379.3 L1313.0,380.2 L1314.5,380.6Z" fill="#000" stroke="#000" stroke-width="1.0" stroke-linejoin="round"/>
<path d="M1187.0,400.6 L1188.0,404.1 L1188.7,407.4 L1188.9,410.5 L1188.9,413.2 L1188.4,415.5 L1187.7,417.4 L1186.7,418.7 L1185.5,419.5 L1184.0,419.6 L1199.4,415.0 L1200.8,414.9 L1202.0,414.1 L1203.0,412.8 L1203.8,411.0 L1204.2,408.6 L1204.3,405.9 L1204.0,402.8 L1203.4,399.5 L1202.4,396.0Z" fill="#e8e8e8" stroke="#000" stroke-width="1.0" stroke-linejoin="round"/>
<path d="M1187.9,366.8 L1190.8,366.8 L1193.9,367.4 L1197.0,368.5 L1200.0,370.2 L1202.9,372.4 L1205.7,375.0 L1208.3,378.0 L1210.6,381.2 L1212.6,384.7 L1214.4,388.3 L1215.7,391.8 L1216.7,395.4 L1217.4,398.7 L1217.7,401.8 L1217.6,404.5 L1217.2,406.8 L1216.5,408.7 L1215.5,410.0 L1214.2,410.8 L1212.8,411.0 L1228.2,406.4 L1229.6,406.2 L1230.8,405.4 L1231.8,404.1 L1232.5,402.3 L1232.9,399.9 L1233.0,397.2 L1232.7,394.1 L1232.1,390.8 L1231.1,387.3 L1229.7,383.7 L1228.0,380.1 L1225.9,376.6 L1223.6,373.4 L1221.0,370.4 L1218.2,367.8 L1215.3,365.6 L1212.3,363.9 L1209.2,362.8 L1206.2,362.2 L1203.2,362.2Z" fill="#e8e8e8" stroke="#000" stroke-width="1.0" stroke-linejoin="round"/>
<path d="M1216.5,358.2 L1219.5,358.2 L1222.5,358.7 L1225.6,359.8 L1228.6,361.5 L1231.5,363.7 L1234.3,366.3 L1236.9,369.2 L1239.2,372.5 L1241.3,375.9 L1243.0,379.5 L1244.4,383.1 L1245.5,386.6 L1246.1,390.0 L1246.4,393.0 L1246.3,395.8 L1245.9,398.2 L1245.2,400.0 L1244.2,401.4 L1243.0,402.2 L1241.6,402.4 L1257.0,397.8 L1258.4,397.6 L1259.6,396.8 L1260.6,395.4 L1261.3,393.6 L1261.7,391.2 L1261.7,388.4 L1261.4,385.4 L1260.8,382.0 L1259.7,378.5 L1258.4,374.9 L1256.6,371.3 L1254.6,367.9 L1252.2,364.6 L1249.7,361.7 L1246.9,359.1 L1243.9,356.9 L1240.9,355.2 L1237.8,354.1 L1234.8,353.6 L1231.8,353.6Z" fill="#e8e8e8" stroke="#000" stroke-width="1.0" stroke-linejoin="round"/>
<path d="M1245.1,349.6 L1248.1,349.5 L1251.1,350.1 L1254.2,351.2 L1257.2,352.8 L1260.2,355.0 L1263.0,357.5 L1265.6,360.5 L1267.9,363.7 L1270.0,367.2 L1271.7,370.8 L1273.1,374.3 L1274.2,377.9 L1274.8,381.2 L1275.1,384.3 L1275.1,387.1 L1274.7,389.5 L1274.0,391.3 L1273.0,392.7 L1271.8,393.5 L1270.4,393.8 L1285.7,389.2 L1287.1,388.9 L1288.3,388.1 L1289.3,386.8 L1290.0,384.9 L1290.4,382.5 L1290.5,379.7 L1290.2,376.6 L1289.5,373.3 L1288.4,369.7 L1287.0,366.2 L1285.3,362.6 L1283.2,359.1 L1280.9,355.9 L1278.3,353.0 L1275.5,350.4 L1272.6,348.2 L1269.5,346.6 L1266.5,345.5 L1263.4,344.9 L1260.4,345.0Z" fill="#e8e8e8" stroke="#000" stroke-width="1.0" stroke-linejoin="round"/>
<path d="M1273.7,341.0 L1276.7,340.9 L1279.7,341.4 L1282.8,342.5 L1285.9,344.1 L1288.8,346.3 L1291.6,348.8 L1294.2,351.8 L1296.6,355.0 L1298.6,358.4 L1300.4,362.0 L1301.8,365.6 L1302.9,369.1 L1303.5,372.5 L1303.9,375.6 L1303.8,378.4 L1303.5,380.8 L1302.8,382.7 L1301.8,384.1 L1300.6,384.9 L1299.2,385.2 L1314.5,380.6 L1315.9,380.3 L1317.1,379.5 L1318.1,378.1 L1318.8,376.2 L1319.2,373.8 L1319.2,371.0 L1318.9,367.9 L1318.2,364.5 L1317.1,361.0 L1315.7,357.4 L1314.0,353.8 L1311.9,350.4 L1309.5,347.2 L1306.9,344.2 L1304.1,341.7 L1301.2,339.5 L1298.1,337.9 L1295.1,336.8 L1292.0,336.3 L1289.1,336.4Z" fill="#e8e8e8" stroke="#000" stroke-width="1.0" stroke-linejoin="round"/>
<path d="M1302.4,332.4 L1305.3,332.3 L1308.4,332.8 L1311.4,333.8 L1314.5,335.4 L1317.4,337.5 L1320.2,340.1 L1322.8,343.0 L1325.2,346.3 L1327.3,349.7 L1329.1,353.2 L1330.5,356.8 L1331.6,360.4 L1332.3,363.7 L1332.6,366.9 L1332.6,369.7 L1332.2,372.0 L1331.5,374.0 L1330.6,375.4 L1329.4,376.3 L1328.0,376.5 L1343.3,371.9 L1344.7,371.7 L1345.9,370.8 L1346.9,369.4 L1347.5,367.5 L1347.9,365.1 L1347.9,362.3 L1347.6,359.1 L1346.9,355.8 L1345.8,352.2 L1344.4,348.7 L1342.6,345.1 L1340.5,341.7 L1338.2,338.4 L1335.6,335.5 L1332.7,333.0 L1329.8,330.8 L1326.8,329.2 L1323.7,328.2 L1320.6,327.7 L1317.7,327.8Z" fill="#e8e8e8" stroke="#000" stroke-width="1.0" stroke-linejoin="round"/>
<path d="M1150.0,420.0 C1151.7,415.8 1155.0,400.8 1160.0,395.0 C1165.0,389.2 1173.3,387.5 1180.0,385.0 C1186.7,382.5 1192.3,382.2 1200.0,380.0 C1207.7,377.8 1217.3,371.7 1226.0,372.0 C1234.7,372.3 1246.3,377.3 1252.0,382.0 C1257.7,386.7 1255.7,395.2 1260.0,400.0 C1264.3,404.8 1270.7,409.0 1278.0,411.0 C1285.3,413.0 1297.5,413.3 1304.0,412.0 C1310.5,410.7 1312.7,408.3 1317.0,403.0 C1321.3,397.7 1326.2,386.5 1330.0,380.0 C1333.8,373.5 1335.8,367.2 1340.0,364.0 C1344.2,360.8 1350.3,360.2 1355.0,361.0 C1359.7,361.8 1365.3,364.2 1368.0,369.0 C1370.7,373.8 1370.5,386.5 1371.0,390.0" fill="none" stroke="#000" stroke-width="4" stroke-linecap="round" stroke-linejoin="round"/>
<path d="M1140.0,418.0 C1142.0,413.7 1145.3,398.3 1152.0,392.0 C1158.7,385.7 1167.7,384.3 1180.0,380.0 C1192.3,375.7 1214.0,369.0 1226.0,366.0 C1238.0,363.0 1243.8,363.7 1252.0,362.0 C1260.2,360.3 1267.0,357.7 1275.0,356.0 C1283.0,354.3 1295.8,352.7 1300.0,352.0" fill="none" stroke="#666" stroke-width="5.4" stroke-linecap="round" stroke-linejoin="round"/>
<path d="M1140.0,418.0 C1142.0,413.7 1145.3,398.3 1152.0,392.0 C1158.7,385.7 1167.7,384.3 1180.0,380.0 C1192.3,375.7 1214.0,369.0 1226.0,366.0 C1238.0,363.0 1243.8,363.7 1252.0,362.0 C1260.2,360.3 1267.0,357.7 1275.0,356.0 C1283.0,354.3 1295.8,352.7 1300.0,352.0" fill="none" stroke="#f0f0f0" stroke-width="3" stroke-linecap="round" stroke-linejoin="round"/>
<path d="M1067.0,490.0 L1065.9,489.3 L1064.7,488.2 L1063.7,486.5 L1062.8,484.4 L1062.0,481.9 L1061.5,479.0 L1061.2,475.9 L1061.2,472.6 L1061.4,469.1 L1062.0,465.6 L1062.8,462.2 L1063.9,458.8 L1065.4,455.7 L1067.1,452.9 L1069.0,450.4 L1071.2,448.3 L1073.5,446.7 L1076.0,445.6 L1078.6,445.0 L1081.2,444.9 L1097.1,443.5 L1094.5,443.5 L1091.9,444.2 L1089.4,445.3 L1087.1,446.9 L1084.9,449.0 L1083.0,451.5 L1081.3,454.3 L1079.9,457.4 L1078.7,460.7 L1077.9,464.2 L1077.4,467.7 L1077.1,471.1 L1077.2,474.5 L1077.5,477.6 L1078.0,480.5 L1078.7,483.0 L1079.6,485.1 L1080.7,486.7 L1081.8,487.9 L1083.0,488.5Z" fill="#3a3a3a" stroke="#222" stroke-width="1.0" stroke-linejoin="round"/>
<path d="M1097.1,487.3 L1095.9,486.8 L1094.8,485.7 L1093.7,484.1 L1092.8,482.1 L1092.0,479.6 L1091.5,476.8 L1091.1,473.7 L1091.1,470.4 L1091.3,466.9 L1091.8,463.4 L1092.6,460.0 L1093.7,456.6 L1095.0,453.5 L1096.7,450.6 L1098.6,448.0 L1100.7,445.9 L1103.0,444.2 L1105.5,443.0 L1108.1,442.4 L1110.7,442.2 L1126.7,440.8 L1124.0,440.9 L1121.4,441.6 L1119.0,442.8 L1116.7,444.5 L1114.5,446.6 L1112.6,449.2 L1111.0,452.0 L1109.6,455.2 L1108.5,458.5 L1107.7,462.0 L1107.2,465.5 L1107.0,468.9 L1107.1,472.3 L1107.4,475.4 L1108.0,478.2 L1108.7,480.6 L1109.6,482.7 L1110.7,484.3 L1111.8,485.3 L1113.0,485.9Z" fill="#3a3a3a" stroke="#222" stroke-width="1.0" stroke-linejoin="round"/>
<path d="M1127.1,484.7 L1125.9,484.2 L1141.9,482.8 L1143.0,483.3Z" fill="#3a3a3a" stroke="#222" stroke-width="1.0" stroke-linejoin="round"/>
<path d="M1072.1,474.2 L1072.5,477.3 L1072.5,480.3 L1072.3,483.0 L1071.8,485.3 L1071.1,487.2 L1070.3,488.7 L1069.3,489.6 L1068.2,490.1 L1067.0,490.0 L1083.0,488.5 L1084.1,488.6 L1085.2,488.2 L1086.2,487.3 L1087.1,485.8 L1087.8,483.9 L1088.2,481.6 L1088.4,478.9 L1088.4,475.9 L1088.1,472.7Z" fill="#efefef" stroke="#222" stroke-width="1.0" stroke-linejoin="round"/>
<path d="M1081.2,444.9 L1083.9,445.4 L1086.5,446.4 L1089.0,447.9 L1091.4,449.8 L1093.7,452.1 L1095.7,454.8 L1097.5,457.8 L1099.0,461.0 L1100.3,464.3 L1101.3,467.7 L1101.9,471.0 L1102.3,474.2 L1102.4,477.2 L1102.2,480.0 L1101.8,482.3 L1101.1,484.3 L1100.3,485.8 L1099.3,486.9 L1098.2,487.4 L1097.1,487.3 L1113.0,485.9 L1114.1,485.9 L1115.2,485.4 L1116.2,484.4 L1117.1,482.9 L1117.7,480.9 L1118.1,478.5 L1118.3,475.8 L1118.2,472.8 L1117.9,469.6 L1117.2,466.3 L1116.2,462.9 L1115.0,459.6 L1113.4,456.4 L1111.6,453.4 L1109.6,450.7 L1107.3,448.4 L1104.9,446.4 L1102.4,444.9 L1099.8,443.9 L1097.1,443.5Z" fill="#efefef" stroke="#222" stroke-width="1.0" stroke-linejoin="round"/>
<path d="M1110.7,442.2 L1113.4,442.6 L1116.0,443.5 L1118.5,444.9 L1121.0,446.8 L1123.2,449.1 L1125.3,451.8 L1127.1,454.7 L1128.7,457.9 L1130.0,461.2 L1131.0,464.6 L1131.7,467.9 L1132.2,471.1 L1132.3,474.2 L1132.1,476.9 L1131.7,479.4 L1131.1,481.4 L1130.3,483.0 L1129.3,484.1 L1128.2,484.7 L1127.1,484.7 L1143.0,483.3 L1144.2,483.2 L1145.3,482.6 L1146.2,481.5 L1147.0,480.0 L1147.7,477.9 L1148.1,475.5 L1148.2,472.7 L1148.1,469.7 L1147.7,466.5 L1147.0,463.1 L1146.0,459.8 L1144.7,456.5 L1143.1,453.3 L1141.2,450.4 L1139.2,447.7 L1136.9,445.4 L1134.5,443.5 L1131.9,442.1 L1129.3,441.2 L1126.7,440.8Z" fill="#efefef" stroke="#222" stroke-width="1.0" stroke-linejoin="round"/>
<path d="M1153.9,513.8 L1153.1,513.9 L1152.1,513.5 L1151.1,512.7 L1150.0,511.5 L1148.9,509.9 L1147.9,508.0 L1146.9,505.7 L1146.1,503.3 L1145.5,500.6 L1145.1,497.7 L1144.8,494.8 L1144.9,491.8 L1145.2,488.9 L1145.7,486.2 L1146.6,483.5 L1147.7,481.1 L1149.1,479.0 L1150.7,477.2 L1152.6,475.8 L1154.6,474.8 L1169.5,468.8 L1167.4,469.9 L1165.6,471.3 L1163.9,473.1 L1162.6,475.2 L1161.4,477.6 L1160.6,480.2 L1160.0,483.0 L1159.7,485.9 L1159.7,488.9 L1159.9,491.8 L1160.4,494.6 L1161.0,497.3 L1161.8,499.8 L1162.7,502.0 L1163.8,504.0 L1164.8,505.5 L1165.9,506.7 L1167.0,507.5 L1167.9,507.9 L1168.8,507.9Z" fill="#000" stroke="#000" stroke-width="1.0" stroke-linejoin="round"/>
<path d="M1181.1,502.7 L1180.2,502.5 L1179.2,501.8 L1178.1,500.6 L1177.0,499.2 L1176.0,497.3 L1175.0,495.2 L1174.2,492.7 L1173.5,490.1 L1173.0,487.3 L1172.7,484.3 L1172.7,481.4 L1172.9,478.5 L1173.4,475.7 L1174.2,473.0 L1175.3,470.5 L1176.6,468.4 L1178.2,466.5 L1193.0,460.5 L1191.5,462.4 L1190.1,464.6 L1189.1,467.0 L1188.3,469.7 L1187.8,472.5 L1187.6,475.5 L1187.6,478.4 L1187.9,481.3 L1188.3,484.1 L1189.0,486.8 L1189.9,489.2 L1190.8,491.4 L1191.9,493.2 L1192.9,494.7 L1194.0,495.8 L1195.0,496.5 L1196.0,496.8Z" fill="#000" stroke="#000" stroke-width="1.0" stroke-linejoin="round"/>
<path d="M1153.8,503.8 L1154.6,506.0 L1155.1,508.0 L1155.4,509.8 L1155.3,511.4 L1155.1,512.6 L1154.6,513.4 L1153.9,513.8 L1168.8,507.9 L1169.4,507.4 L1169.9,506.6 L1170.2,505.4 L1170.2,503.9 L1170.0,502.1 L1169.5,500.0 L1168.7,497.8Z" fill="#222" stroke="#000" stroke-width="1.0" stroke-linejoin="round"/>
<path d="M1154.6,474.8 L1156.8,474.1 L1159.2,473.9 L1161.6,474.1 L1164.0,474.7 L1166.5,475.7 L1168.9,477.0 L1171.2,478.7 L1173.4,480.6 L1175.5,482.7 L1177.3,485.0 L1179.0,487.3 L1180.4,489.7 L1181.5,492.1 L1182.3,494.3 L1182.9,496.4 L1183.2,498.3 L1183.2,499.9 L1183.0,501.2 L1182.6,502.1 L1181.9,502.6 L1181.1,502.7 L1196.0,496.8 L1196.8,496.7 L1197.4,496.1 L1197.9,495.2 L1198.1,493.9 L1198.0,492.3 L1197.7,490.5 L1197.2,488.4 L1196.3,486.1 L1195.2,483.8 L1193.8,481.4 L1192.2,479.0 L1190.4,476.7 L1188.3,474.6 L1186.1,472.7 L1183.8,471.1 L1181.3,469.7 L1178.9,468.8 L1176.4,468.2 L1174.0,468.0 L1171.7,468.2 L1169.5,468.8Z" fill="#222" stroke="#000" stroke-width="1.0" stroke-linejoin="round"/>
<path d="M1190.0,492.3 L1188.9,492.4 L1187.6,491.9 L1186.2,490.8 L1184.9,489.3 L1183.6,487.3 L1182.4,484.9 L1181.3,482.2 L1180.5,479.1 L1179.8,475.8 L1179.4,472.3 L1179.3,468.7 L1179.5,465.2 L1180.1,461.7 L1180.9,458.4 L1182.1,455.4 L1183.6,452.6 L1185.3,450.2 L1187.4,448.3 L1189.7,446.8 L1192.1,445.8 L1207.5,441.3 L1205.0,442.2 L1202.7,443.7 L1200.7,445.7 L1198.9,448.0 L1197.4,450.8 L1196.3,453.8 L1195.4,457.1 L1194.9,460.6 L1194.7,464.2 L1194.8,467.7 L1195.2,471.2 L1195.8,474.5 L1196.7,477.6 L1197.7,480.4 L1198.9,482.8 L1200.2,484.8 L1201.6,486.3 L1202.9,487.3 L1204.2,487.8 L1205.4,487.8Z" fill="#999" stroke="#333" stroke-width="1.0" stroke-linejoin="round"/>
<path d="M1218.8,483.8 L1217.7,483.8 L1216.4,483.3 L1215.1,482.3 L1213.7,480.9 L1212.4,478.9 L1211.2,476.5 L1210.1,473.7 L1209.3,470.7 L1208.6,467.4 L1208.2,463.9 L1208.1,460.3 L1208.3,456.8 L1208.8,453.3 L1209.6,450.0 L1210.8,446.9 L1212.2,444.2 L1214.0,441.8 L1216.0,439.8 L1218.3,438.3 L1220.7,437.3 L1236.1,432.7 L1233.6,433.7 L1231.4,435.2 L1229.3,437.2 L1227.6,439.6 L1226.1,442.4 L1225.0,445.4 L1224.1,448.8 L1223.6,452.2 L1223.4,455.8 L1223.5,459.3 L1223.9,462.8 L1224.6,466.1 L1225.5,469.2 L1226.5,471.9 L1227.7,474.3 L1229.0,476.3 L1230.4,477.8 L1231.7,478.8 L1233.0,479.3 L1234.2,479.2Z" fill="#999" stroke="#333" stroke-width="1.0" stroke-linejoin="round"/>
<path d="M1246.5,475.3 L1245.2,474.8 L1243.9,473.8 L1242.5,472.4 L1241.2,470.4 L1240.0,468.1 L1238.9,465.3 L1238.0,462.3 L1237.4,459.0 L1237.0,455.5 L1236.8,452.0 L1237.0,448.4 L1237.5,444.9 L1238.3,441.6 L1239.5,438.5 L1240.9,435.7 L1242.7,433.3 L1244.7,431.3 L1246.9,429.8 L1249.4,428.8 L1252.0,428.3 L1267.3,423.7 L1264.7,424.2 L1262.3,425.2 L1260.0,426.8 L1258.0,428.8 L1256.3,431.2 L1254.8,434.0 L1253.7,437.1 L1252.8,440.4 L1252.4,443.8 L1252.2,447.4 L1252.3,451.0 L1252.7,454.4 L1253.4,457.7 L1254.3,460.8 L1255.3,463.5 L1256.6,465.9 L1257.9,467.8 L1259.2,469.3 L1260.5,470.3 L1261.8,470.7Z" fill="#999" stroke="#333" stroke-width="1.0" stroke-linejoin="round"/>
<path d="M1192.9,485.0 L1192.9,487.3 L1192.5,489.3 L1191.9,490.8 L1191.1,491.8 L1190.0,492.3 L1205.4,487.8 L1206.4,487.2 L1207.2,486.2 L1207.9,484.7 L1208.2,482.8 L1208.2,480.4Z" fill="#f0f0f0" stroke="#333" stroke-width="1.0" stroke-linejoin="round"/>
<path d="M1192.1,445.8 L1194.7,445.4 L1197.5,445.4 L1200.2,446.0 L1203.0,447.1 L1205.7,448.6 L1208.4,450.6 L1210.9,452.9 L1213.2,455.6 L1215.3,458.5 L1217.1,461.5 L1218.6,464.6 L1219.9,467.8 L1220.8,470.8 L1221.4,473.7 L1221.7,476.3 L1221.6,478.7 L1221.3,480.6 L1220.7,482.1 L1219.9,483.2 L1218.8,483.8 L1234.2,479.2 L1235.2,478.6 L1236.0,477.6 L1236.6,476.0 L1237.0,474.1 L1237.0,471.8 L1236.7,469.1 L1236.1,466.2 L1235.2,463.2 L1234.0,460.1 L1232.4,457.0 L1230.6,453.9 L1228.5,451.0 L1226.2,448.4 L1223.7,446.0 L1221.1,444.1 L1218.3,442.5 L1215.6,441.4 L1212.8,440.9 L1210.1,440.8 L1207.5,441.3Z" fill="#f0f0f0" stroke="#333" stroke-width="1.0" stroke-linejoin="round"/>
<path d="M1220.7,437.3 L1223.4,436.8 L1226.1,436.9 L1228.8,437.4 L1231.6,438.5 L1234.4,440.0 L1237.0,441.9 L1239.5,444.3 L1241.8,446.9 L1243.9,449.8 L1245.8,452.8 L1247.3,455.9 L1248.6,459.1 L1249.5,462.1 L1250.1,465.0 L1250.4,467.6 L1250.4,470.0 L1250.1,472.0 L1249.5,473.5 L1248.7,474.6 L1247.7,475.2 L1246.5,475.3 L1261.8,470.7 L1263.0,470.6 L1264.0,470.0 L1264.8,469.0 L1265.4,467.4 L1265.7,465.4 L1265.7,463.1 L1265.5,460.4 L1264.8,457.5 L1263.9,454.5 L1262.7,451.4 L1261.1,448.2 L1259.3,445.2 L1257.2,442.3 L1254.9,439.7 L1252.3,437.4 L1249.7,435.4 L1247.0,433.9 L1244.2,432.8 L1241.4,432.3 L1238.7,432.2 L1236.1,432.7Z" fill="#f0f0f0" stroke="#333" stroke-width="1.0" stroke-linejoin="round"/>
<path d="M1252.0,428.3 L1254.7,428.3 L1257.5,428.8 L1260.2,429.8 L1263.0,431.3 L1265.6,433.3 L1268.1,435.6 L1270.5,438.2 L1272.6,441.1 L1274.4,444.1 L1276.0,447.2 L1277.3,450.3 L1292.6,445.8 L1291.4,442.7 L1289.8,439.5 L1287.9,436.5 L1285.8,433.6 L1283.5,431.0 L1281.0,428.7 L1278.3,426.8 L1275.6,425.3 L1272.8,424.2 L1270.0,423.7 L1267.3,423.7Z" fill="#f0f0f0" stroke="#333" stroke-width="1.0" stroke-linejoin="round"/>
<path d="M1130.0,462.0 C1135.0,463.3 1148.3,467.8 1160.0,470.0 C1171.7,472.2 1189.0,475.3 1200.0,475.0 C1211.0,474.7 1218.2,471.8 1226.0,468.0 C1233.8,464.2 1240.2,455.5 1247.0,452.0 C1253.8,448.5 1259.7,446.2 1267.0,447.0 C1274.3,447.8 1282.7,453.2 1291.0,457.0 C1299.3,460.8 1309.7,466.0 1317.0,470.0 C1324.3,474.0 1332.0,479.2 1335.0,481.0" fill="none" stroke="#000" stroke-width="3.5" stroke-linecap="round" stroke-linejoin="round"/>
<path d="M1257.4,462.4 L1256.1,462.2 L1254.7,461.5 L1253.3,460.2 L1251.9,458.5 L1250.5,456.3 L1249.2,453.8 L1248.0,450.8 L1247.1,447.7 L1246.4,444.3 L1245.9,440.8 L1245.8,437.2 L1245.9,433.7 L1246.4,430.3 L1247.3,427.0 L1248.4,424.1 L1249.9,421.5 L1251.7,419.2 L1253.8,417.4 L1256.1,416.1 L1258.6,415.3 L1273.6,409.7 L1271.1,410.5 L1268.8,411.8 L1266.7,413.6 L1264.9,415.8 L1263.4,418.5 L1262.3,421.4 L1261.4,424.6 L1260.9,428.1 L1260.7,431.6 L1260.9,435.1 L1261.3,438.7 L1262.1,442.0 L1263.0,445.2 L1264.2,448.1 L1265.4,450.7 L1266.8,452.9 L1268.3,454.6 L1269.7,455.9 L1271.1,456.6 L1272.4,456.8Z" fill="#9a9a9a" stroke="#333" stroke-width="1.0" stroke-linejoin="round"/>
<path d="M1285.5,451.9 L1284.3,451.7 L1282.9,451.0 L1281.4,449.7 L1280.0,448.0 L1278.6,445.9 L1277.3,443.3 L1276.1,440.4 L1275.2,437.2 L1274.5,433.8 L1274.0,430.3 L1273.8,426.8 L1274.0,423.2 L1274.5,419.8 L1275.3,416.6 L1276.5,413.6 L1278.0,411.0 L1279.8,408.8 L1281.8,406.9 L1284.1,405.6 L1286.7,404.8 L1301.6,399.1 L1299.1,400.0 L1296.8,401.3 L1294.8,403.1 L1293.0,405.4 L1291.5,408.0 L1290.3,411.0 L1289.5,414.2 L1289.0,417.6 L1288.8,421.1 L1289.0,424.7 L1289.4,428.2 L1290.2,431.6 L1291.1,434.8 L1292.3,437.7 L1293.6,440.2 L1295.0,442.4 L1296.4,444.1 L1297.9,445.3 L1299.2,446.1 L1300.5,446.3Z" fill="#9a9a9a" stroke="#333" stroke-width="1.0" stroke-linejoin="round"/>
<path d="M1313.7,441.4 L1312.4,441.2 L1311.0,440.5 L1309.6,439.2 L1308.1,437.5 L1306.7,435.4 L1305.4,432.8 L1304.3,430.0 L1303.3,426.8 L1302.6,423.4 L1302.1,419.9 L1301.9,416.3 L1302.1,412.8 L1302.6,409.4 L1303.4,406.1 L1304.5,403.2 L1306.0,400.5 L1307.8,398.3 L1309.9,396.5 L1312.2,395.1 L1314.7,394.3 L1329.7,388.6 L1327.1,389.5 L1324.8,390.8 L1322.8,392.7 L1321.0,394.9 L1319.5,397.6 L1318.4,400.5 L1317.6,403.8 L1317.1,407.2 L1316.9,410.7 L1317.1,414.3 L1317.5,417.8 L1318.3,421.2 L1319.2,424.3 L1320.4,427.2 L1321.7,429.8 L1323.1,431.9 L1324.6,433.6 L1326.0,434.8 L1327.4,435.6 L1328.6,435.8Z" fill="#9a9a9a" stroke="#333" stroke-width="1.0" stroke-linejoin="round"/>
<path d="M1260.6,456.3 L1260.5,458.4 L1260.1,460.1 L1259.4,461.4 L1258.5,462.2 L1257.4,462.4 L1272.4,456.8 L1273.5,456.5 L1274.4,455.7 L1275.1,454.5 L1275.5,452.8 L1275.6,450.7Z" fill="#f4f4f4" stroke="#333" stroke-width="1.0" stroke-linejoin="round"/>
<path d="M1258.6,415.3 L1261.3,415.0 L1264.1,415.2 L1266.9,415.9 L1269.8,417.1 L1272.6,418.7 L1275.3,420.8 L1277.8,423.2 L1280.2,425.8 L1282.3,428.7 L1284.2,431.7 L1285.7,434.7 L1287.0,437.7 L1287.9,440.6 L1288.5,443.3 L1288.7,445.7 L1288.6,447.8 L1288.2,449.5 L1287.5,450.8 L1286.6,451.6 L1285.5,451.9 L1300.5,446.3 L1301.6,446.0 L1302.5,445.2 L1303.2,443.9 L1303.6,442.2 L1303.7,440.1 L1303.4,437.7 L1302.9,435.0 L1302.0,432.1 L1300.7,429.1 L1299.2,426.0 L1297.3,423.0 L1295.2,420.2 L1292.8,417.5 L1290.3,415.2 L1287.6,413.1 L1284.8,411.5 L1281.9,410.3 L1279.1,409.6 L1276.3,409.4 L1273.6,409.7Z" fill="#f4f4f4" stroke="#333" stroke-width="1.0" stroke-linejoin="round"/>
<path d="M1286.7,404.8 L1289.3,404.4 L1292.1,404.6 L1295.0,405.3 L1297.8,406.5 L1300.6,408.2 L1303.3,410.2 L1305.9,412.5 L1308.2,415.2 L1310.4,418.0 L1312.2,421.0 L1313.8,424.1 L1315.0,427.1 L1316.0,430.0 L1316.5,432.7 L1316.8,435.1 L1316.7,437.2 L1316.3,438.9 L1315.7,440.2 L1314.8,441.1 L1313.7,441.4 L1328.6,435.8 L1329.7,435.4 L1330.6,434.6 L1331.3,433.3 L1331.7,431.6 L1331.8,429.5 L1331.5,427.0 L1330.9,424.3 L1330.0,421.5 L1328.8,418.5 L1327.2,415.4 L1325.3,412.4 L1323.2,409.6 L1320.8,406.9 L1318.3,404.6 L1315.6,402.5 L1312.8,400.9 L1309.9,399.7 L1307.1,399.0 L1304.3,398.8 L1301.6,399.1Z" fill="#f4f4f4" stroke="#333" stroke-width="1.0" stroke-linejoin="round"/>
<path d="M1314.7,394.3 L1317.3,393.9 L1320.1,394.1 L1323.0,394.8 L1325.8,396.0 L1328.6,397.6 L1331.3,399.6 L1333.9,401.9 L1336.3,404.6 L1338.4,407.4 L1353.4,401.8 L1351.2,399.0 L1348.9,396.3 L1346.3,394.0 L1343.6,391.9 L1340.8,390.3 L1337.9,389.2 L1335.1,388.5 L1332.3,388.3 L1329.7,388.6Z" fill="#f4f4f4" stroke="#333" stroke-width="1.0" stroke-linejoin="round"/>
<path d="M1380.2,493.2 L1379.1,494.8 L1377.3,496.1 L1374.9,497.1 L1371.9,497.7 L1368.4,498.0 L1364.6,497.9 L1360.4,497.4 L1356.0,496.5 L1351.6,495.1 L1347.2,493.3 L1342.9,491.2 L1338.9,488.7 L1335.2,485.9 L1332.0,482.8 L1329.3,479.5 L1327.2,476.1 L1325.7,472.6 L1325.0,469.2 L1324.9,465.7 L1325.6,462.4 L1329.9,442.9 L1329.2,446.2 L1329.2,449.6 L1330.0,453.1 L1331.4,456.6 L1333.5,460.0 L1336.2,463.3 L1339.4,466.3 L1343.1,469.1 L1347.1,471.6 L1351.4,473.8 L1355.8,475.6 L1360.3,476.9 L1364.6,477.9 L1368.8,478.4 L1372.7,478.5 L1376.1,478.2 L1379.1,477.5 L1381.5,476.5 L1383.3,475.2 L1384.4,473.7Z" fill="#a8a8a8" stroke="#222" stroke-width="1.0" stroke-linejoin="round"/>
<path d="M1387.0,461.7 L1386.0,463.3 L1384.3,464.7 L1382.0,465.7 L1379.1,466.4 L1375.6,466.8 L1371.8,466.7 L1367.7,466.2 L1363.3,465.3 L1358.9,464.0 L1354.5,462.3 L1350.2,460.2 L1346.1,457.7 L1342.4,454.9 L1339.1,451.9 L1336.3,448.7 L1334.2,445.3 L1332.6,441.8 L1331.8,438.3 L1331.7,434.9 L1332.3,431.5 L1336.5,412.0 L1335.9,415.3 L1336.1,418.8 L1336.9,422.2 L1338.4,425.7 L1340.6,429.1 L1343.3,432.4 L1346.6,435.4 L1350.4,438.2 L1354.4,440.6 L1358.7,442.7 L1363.1,444.5 L1367.6,445.8 L1371.9,446.7 L1376.1,447.2 L1379.9,447.2 L1383.3,446.9 L1386.2,446.2 L1388.6,445.1 L1390.3,443.8 L1391.3,442.2Z" fill="#a8a8a8" stroke="#222" stroke-width="1.0" stroke-linejoin="round"/>
<path d="M1393.9,430.3 L1393.0,431.9 L1391.3,433.2 L1389.1,434.3 L1386.2,435.1 L1382.9,435.5 L1379.1,435.5 L1375.0,435.0 L1370.6,434.2 L1366.2,432.9 L1361.8,431.2 L1357.5,429.2 L1353.4,426.7 L1349.6,424.0 L1346.3,421.0 L1343.4,417.8 L1341.2,414.4 L1339.6,410.9 L1338.7,407.4 L1338.5,404.0 L1339.0,400.6 L1343.2,381.1 L1342.7,384.4 L1342.9,387.9 L1343.8,391.4 L1345.4,394.9 L1347.7,398.2 L1350.5,401.5 L1353.8,404.5 L1357.6,407.2 L1361.7,409.6 L1366.0,411.7 L1370.5,413.4 L1374.9,414.6 L1379.2,415.5 L1383.3,415.9 L1387.1,415.9 L1390.5,415.5 L1393.3,414.8 L1395.6,413.7 L1397.2,412.3 L1398.1,410.7Z" fill="#a8a8a8" stroke="#222" stroke-width="1.0" stroke-linejoin="round"/>
<path d="M1400.8,398.8 L1399.9,400.4 L1398.4,401.8 L1396.2,402.9 L1393.4,403.7 L1390.1,404.2 L1386.3,404.2 L1382.3,403.8 L1378.0,403.0 L1373.5,401.8 L1369.1,400.2 L1364.7,398.2 L1360.6,395.8 L1356.8,393.1 L1353.4,390.1 L1350.5,386.9 L1348.2,383.5 L1346.5,380.1 L1345.5,376.6 L1345.2,373.1 L1345.7,369.8 L1349.9,350.2 L1349.5,353.6 L1349.8,357.0 L1350.8,360.5 L1352.4,364.0 L1354.8,367.3 L1357.7,370.5 L1361.1,373.5 L1364.9,376.2 L1369.0,378.6 L1373.3,380.6 L1377.8,382.3 L1382.2,383.5 L1386.5,384.3 L1390.6,384.7 L1394.3,384.6 L1397.6,384.2 L1400.4,383.4 L1402.6,382.3 L1404.1,380.9 L1405.0,379.2Z" fill="#a8a8a8" stroke="#222" stroke-width="1.0" stroke-linejoin="round"/>
<path d="M1407.6,367.3 L1406.8,369.0 L1405.4,370.4 L1403.2,371.5 L1400.5,372.4 L1397.3,372.9 L1393.6,373.0 L1389.5,372.6 L1385.3,371.9 L1380.8,370.7 L1376.4,369.1 L1372.0,367.1 L1367.9,364.8 L1364.0,362.1 L1360.6,359.2 L1357.6,356.0 L1355.2,352.7 L1353.5,349.2 L1352.4,345.7 L1352.0,342.3 L1352.4,338.9 L1353.4,335.7 L1357.7,316.1 L1356.6,319.3 L1356.3,322.7 L1356.6,326.2 L1357.7,329.7 L1359.5,333.1 L1361.9,336.5 L1364.8,339.6 L1368.3,342.6 L1372.1,345.3 L1376.3,347.6 L1380.6,349.6 L1385.1,351.2 L1389.5,352.3 L1393.8,353.1 L1397.8,353.4 L1401.5,353.3 L1404.8,352.8 L1407.5,352.0 L1409.6,350.8 L1411.1,349.4 L1411.8,347.8Z" fill="#a8a8a8" stroke="#222" stroke-width="1.0" stroke-linejoin="round"/>
<path d="M1364.5,479.4 L1368.5,480.7 L1372.0,482.2 L1375.0,483.9 L1377.4,485.7 L1379.2,487.7 L1380.2,489.6 L1380.6,491.5 L1380.2,493.2 L1384.4,473.7 L1384.8,471.9 L1384.5,470.1 L1383.4,468.1 L1381.7,466.2 L1379.3,464.4 L1376.3,462.6 L1372.8,461.1 L1368.8,459.9Z" fill="#f0f0f0" stroke="#222" stroke-width="1.0" stroke-linejoin="round"/>
<path d="M1325.6,462.4 L1327.0,459.3 L1329.1,456.4 L1331.8,453.8 L1335.1,451.6 L1338.9,449.7 L1343.1,448.2 L1347.6,447.2 L1352.3,446.5 L1357.0,446.3 L1361.8,446.5 L1366.4,447.1 L1370.8,448.0 L1374.8,449.2 L1378.4,450.7 L1381.5,452.4 L1384.0,454.3 L1385.8,456.2 L1386.9,458.1 L1387.3,460.0 L1387.0,461.7 L1391.3,442.2 L1391.6,440.4 L1391.2,438.6 L1390.1,436.6 L1388.2,434.7 L1385.8,432.9 L1382.7,431.2 L1379.1,429.7 L1375.1,428.5 L1370.7,427.5 L1366.0,427.0 L1361.3,426.8 L1356.5,427.0 L1351.8,427.6 L1347.3,428.7 L1343.1,430.2 L1339.4,432.0 L1336.1,434.3 L1333.4,436.9 L1331.3,439.8 L1329.9,442.9Z" fill="#f0f0f0" stroke="#222" stroke-width="1.0" stroke-linejoin="round"/>
<path d="M1332.3,431.5 L1333.6,428.4 L1335.6,425.5 L1338.3,422.8 L1341.5,420.6 L1345.2,418.6 L1349.4,417.1 L1353.8,416.0 L1358.5,415.3 L1363.3,415.0 L1368.0,415.2 L1372.7,415.7 L1377.1,416.6 L1381.2,417.8 L1384.8,419.3 L1388.0,420.9 L1390.5,422.8 L1392.4,424.7 L1393.6,426.6 L1394.1,428.5 L1393.9,430.3 L1398.1,410.7 L1398.4,408.9 L1397.9,407.1 L1396.7,405.1 L1394.8,403.2 L1392.2,401.4 L1389.1,399.7 L1385.4,398.3 L1381.3,397.1 L1376.9,396.2 L1372.3,395.6 L1367.5,395.5 L1362.7,395.8 L1358.1,396.4 L1353.6,397.6 L1349.5,399.1 L1345.7,401.0 L1342.5,403.3 L1339.9,405.9 L1337.9,408.8 L1336.5,412.0Z" fill="#f0f0f0" stroke="#222" stroke-width="1.0" stroke-linejoin="round"/>
<path d="M1339.0,400.6 L1340.2,397.5 L1342.1,394.5 L1344.7,391.9 L1347.9,389.5 L1351.5,387.6 L1355.6,386.0 L1360.1,384.8 L1364.7,384.1 L1369.5,383.8 L1374.3,383.9 L1378.9,384.4 L1383.4,385.2 L1387.5,386.4 L1391.2,387.8 L1394.4,389.5 L1397.0,391.3 L1399.0,393.2 L1400.3,395.1 L1400.9,397.0 L1400.8,398.8 L1405.0,379.2 L1405.1,377.5 L1404.6,375.6 L1403.3,373.6 L1401.3,371.7 L1398.7,369.9 L1395.5,368.3 L1391.8,366.8 L1387.6,365.7 L1383.2,364.8 L1378.5,364.3 L1373.7,364.2 L1369.0,364.5 L1364.3,365.3 L1359.9,366.4 L1355.8,368.0 L1352.1,370.0 L1349.0,372.3 L1346.4,375.0 L1344.5,377.9 L1343.2,381.1Z" fill="#f0f0f0" stroke="#222" stroke-width="1.0" stroke-linejoin="round"/>
<path d="M1345.7,369.8 L1346.8,366.6 L1348.7,363.6 L1351.2,360.9 L1354.3,358.5 L1357.9,356.5 L1361.9,354.9 L1366.3,353.7 L1370.9,352.9 L1375.7,352.5 L1380.5,352.6 L1385.2,353.0 L1389.7,353.8 L1393.8,354.9 L1397.6,356.4 L1400.9,358.0 L1403.6,359.8 L1405.6,361.7 L1407.0,363.6 L1407.7,365.5 L1407.6,367.3 L1411.8,347.8 L1411.9,346.0 L1411.2,344.1 L1409.9,342.1 L1407.8,340.2 L1405.1,338.4 L1401.8,336.8 L1398.1,335.4 L1393.9,334.3 L1389.4,333.5 L1384.7,333.0 L1380.0,333.0 L1375.2,333.3 L1370.6,334.1 L1366.2,335.3 L1362.1,337.0 L1358.5,339.0 L1355.4,341.4 L1352.9,344.0 L1351.1,347.0 L1349.9,350.2Z" fill="#f0f0f0" stroke="#222" stroke-width="1.0" stroke-linejoin="round"/>
<path d="M1353.4,335.7 L1355.2,332.7 L1357.6,329.9 L1360.7,327.5 L1364.2,325.5 L1368.2,323.8 L1372.6,322.5 L1376.8,303.0 L1372.5,304.2 L1368.5,305.9 L1364.9,308.0 L1361.9,310.4 L1359.5,313.1 L1357.7,316.1Z" fill="#f0f0f0" stroke="#222" stroke-width="1.0" stroke-linejoin="round"/>
<path d="M1345.0,405.0 C1346.3,400.7 1364.0,399.8 1370.0,402.0 C1376.0,404.2 1382.3,413.7 1381.0,418.0 C1379.7,422.3 1368.0,430.2 1362.0,428.0 C1356.0,425.8 1343.7,409.3 1345.0,405.0 Z" fill="#000" stroke="none" stroke-width="1" stroke-linejoin="round"/>
<path d="M1383.0,408.0 C1384.2,413.3 1389.7,429.7 1390.0,440.0 C1390.3,450.3 1387.0,461.7 1385.0,470.0 C1383.0,478.3 1379.2,486.7 1378.0,490.0" fill="none" stroke="#000" stroke-width="4" stroke-linecap="round" stroke-linejoin="round"/>
<path d="M1383.4,390.6 L1382.1,391.2 L1380.5,391.3 L1378.6,391.0 L1376.5,390.3 L1374.2,389.0 L1371.7,387.3 L1369.2,385.2 L1366.7,382.7 L1364.4,379.9 L1362.2,376.8 L1360.2,373.5 L1358.6,370.0 L1357.3,366.5 L1356.4,362.9 L1355.9,359.4 L1355.9,356.1 L1356.4,353.0 L1357.3,350.1 L1358.7,347.6 L1360.6,345.5 L1372.6,333.5 L1370.7,335.6 L1369.3,338.1 L1368.4,341.0 L1367.9,344.1 L1367.9,347.4 L1368.4,350.9 L1369.3,354.4 L1370.6,358.0 L1372.3,361.4 L1374.2,364.8 L1376.4,367.9 L1378.8,370.7 L1381.2,373.2 L1383.7,375.3 L1386.2,377.0 L1388.5,378.2 L1390.7,379.0 L1392.6,379.3 L1394.2,379.2 L1395.4,378.5Z" fill="#555" stroke="#333" stroke-width="1.0" stroke-linejoin="round"/>
<path d="M1404.7,369.2 L1403.6,369.9 L1402.0,370.1 L1400.2,369.9 L1398.1,369.2 L1395.8,368.1 L1393.3,366.4 L1390.8,364.4 L1388.4,362.0 L1386.0,359.2 L1383.7,356.1 L1381.8,352.8 L1380.0,349.4 L1378.7,345.8 L1377.7,342.3 L1377.2,338.8 L1377.1,335.4 L1377.5,332.3 L1378.3,329.4 L1379.7,326.8 L1381.4,324.6 L1383.6,322.8 L1395.6,310.8 L1393.5,312.6 L1391.7,314.8 L1390.4,317.4 L1389.5,320.3 L1389.1,323.4 L1389.2,326.8 L1389.7,330.3 L1390.7,333.8 L1392.1,337.4 L1393.8,340.8 L1395.8,344.1 L1398.0,347.2 L1400.4,349.9 L1402.9,352.4 L1405.4,354.4 L1407.8,356.0 L1410.1,357.2 L1412.2,357.9 L1414.1,358.1 L1415.6,357.9 L1416.8,357.2Z" fill="#555" stroke="#333" stroke-width="1.0" stroke-linejoin="round"/>
<path d="M1374.5,372.2 L1377.2,374.7 L1379.5,377.1 L1381.4,379.6 L1382.9,382.0 L1383.9,384.3 L1384.5,386.3 L1384.6,388.1 L1384.2,389.5 L1383.4,390.6 L1395.4,378.5 L1396.2,377.5 L1396.6,376.1 L1396.5,374.3 L1395.9,372.3 L1394.9,370.0 L1393.4,367.6 L1391.5,365.1 L1389.2,362.6 L1386.5,360.2Z" fill="#f2f2f2" stroke="#333" stroke-width="1.0" stroke-linejoin="round"/>
<path d="M1360.6,345.5 L1362.8,343.8 L1365.4,342.5 L1368.4,341.7 L1371.5,341.4 L1374.9,341.6 L1378.4,342.2 L1382.0,343.2 L1385.5,344.6 L1388.9,346.3 L1392.2,348.4 L1395.2,350.6 L1398.0,353.0 L1400.4,355.5 L1402.3,358.0 L1403.9,360.4 L1405.0,362.7 L1405.6,364.8 L1405.8,366.6 L1405.5,368.1 L1404.7,369.2 L1416.8,357.2 L1417.5,356.1 L1417.8,354.6 L1417.7,352.8 L1417.0,350.7 L1415.9,348.4 L1414.4,346.0 L1412.4,343.5 L1410.0,341.0 L1407.3,338.6 L1404.2,336.4 L1401.0,334.3 L1397.5,332.6 L1394.0,331.2 L1390.4,330.1 L1386.9,329.5 L1383.6,329.4 L1380.4,329.7 L1377.4,330.5 L1374.8,331.8 L1372.6,333.5Z" fill="#f2f2f2" stroke="#333" stroke-width="1.0" stroke-linejoin="round"/>
<path d="M1383.6,322.8 L1386.2,321.5 L1389.1,320.6 L1392.2,320.2 L1395.6,320.3 L1399.0,320.8 L1402.6,321.8 L1406.1,323.1 L1409.6,324.8 L1412.9,326.8 L1416.0,329.0 L1418.7,331.4 L1421.2,333.9 L1423.2,336.4 L1424.9,338.8 L1426.1,341.1 L1426.8,343.3 L1427.0,345.1 L1426.8,346.7 L1426.1,347.8 L1438.1,335.8 L1438.8,334.6 L1439.0,333.1 L1438.8,331.2 L1438.1,329.1 L1436.9,326.8 L1435.3,324.3 L1433.2,321.9 L1430.8,319.4 L1428.0,317.0 L1424.9,314.8 L1421.6,312.8 L1418.2,311.1 L1414.6,309.8 L1411.1,308.8 L1407.6,308.3 L1404.2,308.2 L1401.1,308.6 L1398.2,309.5 L1395.6,310.8Z" fill="#f2f2f2" stroke="#333" stroke-width="1.0" stroke-linejoin="round"/>
<path d="M1400.0,360.0 L1412.0,352.0 L1414.0,372.0 L1402.0,376.0 Z" fill="#000" stroke="none" stroke-width="1" stroke-linejoin="round"/>
<path d="M1324.0,289.0 C1326.2,286.3 1331.8,275.7 1337.0,273.0 C1342.2,270.3 1347.7,273.3 1355.0,273.0 C1362.3,272.7 1374.0,273.2 1381.0,271.0 C1388.0,268.8 1393.8,263.5 1397.0,260.0 C1400.2,256.5 1399.5,251.7 1400.0,250.0" fill="none" stroke="#999" stroke-width="5.9" stroke-linecap="round" stroke-linejoin="round"/>
<path d="M1324.0,289.0 C1326.2,286.3 1331.8,275.7 1337.0,273.0 C1342.2,270.3 1347.7,273.3 1355.0,273.0 C1362.3,272.7 1374.0,273.2 1381.0,271.0 C1388.0,268.8 1393.8,263.5 1397.0,260.0 C1400.2,256.5 1399.5,251.7 1400.0,250.0" fill="none" stroke="#f4f4f4" stroke-width="3.5" stroke-linecap="round" stroke-linejoin="round"/>
<text x="1181.5" y="19.3" font-size="27" font-weight="bold" fill="#ef8322" text-anchor="start" >L747-E749</text>
<text x="1035.5" y="48.3" font-size="27.3" font-weight="bold" fill="#000" text-anchor="start" >N-lobe</text>
<text x="1129.5" y="114.5" font-size="26" fill="#000"><tspan font-family="Liberation Serif, serif" font-size="28">&#946;</tspan><tspan font-weight="bold">3</tspan></text>
<line x1="1161.7" y1="113.3" x2="1190.6" y2="125.9" stroke="#000" stroke-width="2.5"/>
<polyline points="1180.8,127.1 1192.0,126.5 1184.8,117.9" fill="none" stroke="#000" stroke-width="2.8" stroke-linejoin="miter" stroke-miterlimit="10"/>
<text x="1359.5" y="100.8" font-size="27.3" font-weight="bold" fill="#000" text-anchor="start" >P753</text>
<text x="1320.5" y="174.0" font-size="26" fill="#000"><tspan font-family="Liberation Serif, serif" font-size="28">&#945;</tspan><tspan font-weight="bold">C</tspan></text>
<text x="1221.0" y="275.8" font-size="22" fill="#000"><tspan font-family="Liberation Serif, serif" font-size="24">&#945;</tspan><tspan font-weight="bold">E</tspan></text>
<text x="1038.5" y="336.0" font-size="22" fill="#000"><tspan font-family="Liberation Serif, serif" font-size="24">&#945;</tspan><tspan font-weight="bold">D</tspan></text>
<text x="1254.0" y="335.9" font-size="22" fill="#000"><tspan font-family="Liberation Serif, serif" font-size="24">&#945;</tspan><tspan font-weight="bold">F</tspan></text>
<text x="1132.5" y="452.0" font-size="22" fill="#000"><tspan font-family="Liberation Serif, serif" font-size="24">&#945;</tspan><tspan font-weight="bold">I</tspan></text>
<text x="1240.5" y="479.9" font-size="22" fill="#000"><tspan font-family="Liberation Serif, serif" font-size="24">&#945;</tspan><tspan font-weight="bold">H</tspan></text>
<text x="1385.5" y="457.3" font-size="22" fill="#000"><tspan font-family="Liberation Serif, serif" font-size="24">&#945;</tspan><tspan font-weight="bold">G</tspan></text>
<text x="1232.0" y="519.2" font-size="27" font-weight="bold" fill="#000" text-anchor="start" >C-lobe</text>
<text x="812.0" y="469.3" font-size="31.5" font-weight="bold" fill="#000" text-anchor="start" ><tspan font-weight="normal">&#916;</tspan>L747-E749</text>
<text x="812.0" y="502.2" font-size="31.5" font-weight="bold" fill="#a0a0a0" text-anchor="start" >Wild type</text>
</g>
</svg></body></html>
